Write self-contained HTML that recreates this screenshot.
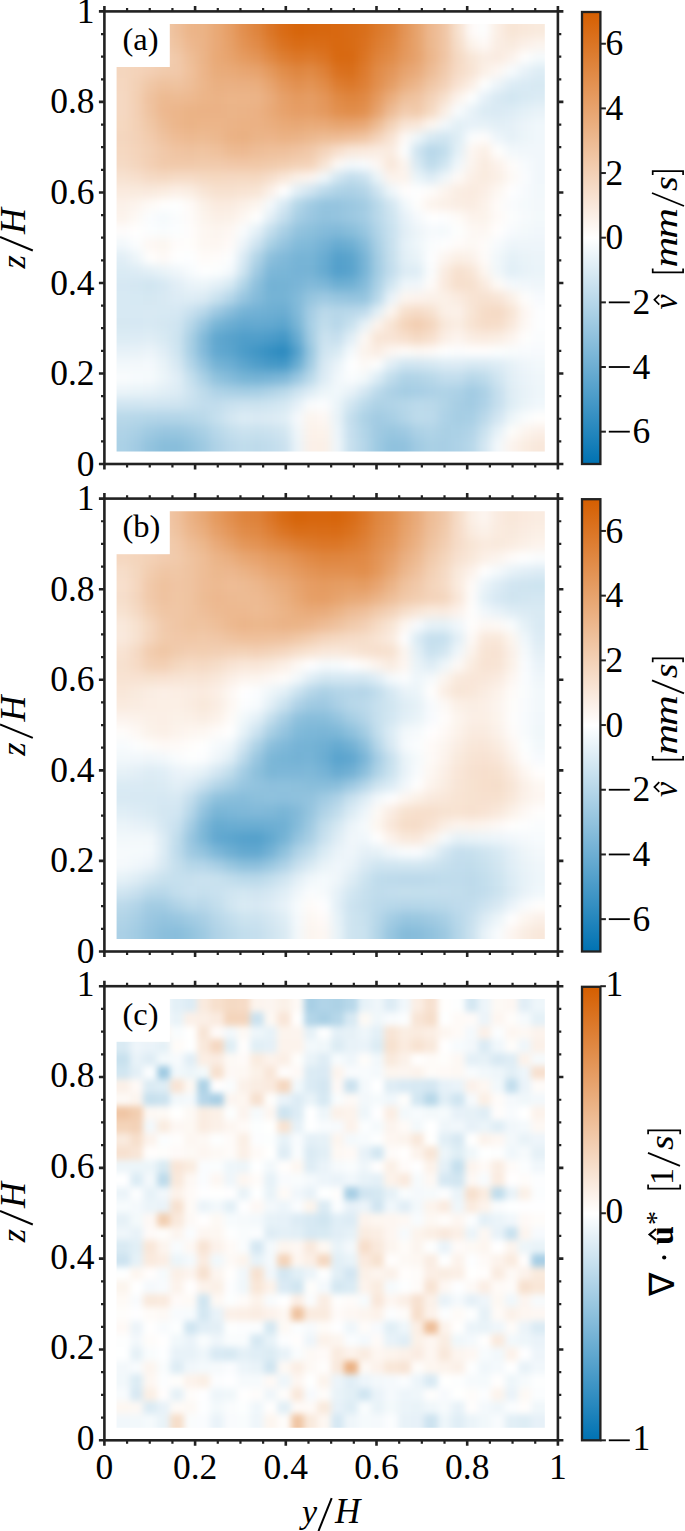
<!DOCTYPE html><html><head><meta charset="utf-8"><style>html,body{margin:0;padding:0;background:#fff;width:685px;height:1531px;overflow:hidden}svg{display:block}</style></head><body>
<svg width="685" height="1531" viewBox="0 0 685 1531">
<style>.t{font-family:"Liberation Serif",serif}</style>
<defs>
<linearGradient id="cb" x1="0" y1="0" x2="0" y2="1"><stop offset="0" stop-color="#d55e00"/><stop offset="0.5" stop-color="#ffffff"/><stop offset="1" stop-color="#0072b2"/></linearGradient>
<filter id="bl0" x="-10%" y="-10%" width="120%" height="120%" color-interpolation-filters="sRGB"><feGaussianBlur stdDeviation="5"/></filter>
<filter id="bl1" x="-10%" y="-10%" width="120%" height="120%" color-interpolation-filters="sRGB"><feGaussianBlur stdDeviation="5"/></filter>
<filter id="bl2" x="-10%" y="-10%" width="120%" height="120%" color-interpolation-filters="sRGB"><feGaussianBlur stdDeviation="3.2"/></filter>
</defs>
<clipPath id="cp0"><rect x="116.6" y="24.10" width="428.20" height="427.40"/></clipPath>
<g clip-path="url(#cp0)"><g filter="url(#bl0)" shape-rendering="crispEdges">
<rect x="76.6" y="-15.9" width="54.0" height="54.0" fill="#f7dfcc"/>
<rect x="130.0" y="-15.9" width="14.0" height="54.0" fill="#f6dbc6"/>
<rect x="143.4" y="-15.9" width="14.0" height="54.0" fill="#f4d6bf"/>
<rect x="156.7" y="-15.9" width="14.0" height="54.0" fill="#f1cbac"/>
<rect x="170.1" y="-15.9" width="14.0" height="54.0" fill="#eebf9a"/>
<rect x="183.5" y="-15.9" width="14.0" height="54.0" fill="#ecb589"/>
<rect x="196.9" y="-15.9" width="14.0" height="54.0" fill="#ebb386"/>
<rect x="210.3" y="-15.9" width="14.0" height="54.0" fill="#e9a976"/>
<rect x="223.6" y="-15.9" width="14.0" height="54.0" fill="#e69e65"/>
<rect x="237.0" y="-15.9" width="14.0" height="54.0" fill="#e28f4e"/>
<rect x="250.4" y="-15.9" width="14.0" height="54.0" fill="#df853e"/>
<rect x="263.8" y="-15.9" width="14.0" height="54.0" fill="#db7627"/>
<rect x="277.2" y="-15.9" width="14.0" height="54.0" fill="#d96b15"/>
<rect x="290.6" y="-15.9" width="14.0" height="54.0" fill="#d7650a"/>
<rect x="303.9" y="-15.9" width="14.0" height="54.0" fill="#d7660d"/>
<rect x="317.3" y="-15.9" width="14.0" height="54.0" fill="#d7670f"/>
<rect x="330.7" y="-15.9" width="14.0" height="54.0" fill="#d86810"/>
<rect x="344.1" y="-15.9" width="14.0" height="54.0" fill="#d86b15"/>
<rect x="357.5" y="-15.9" width="14.0" height="54.0" fill="#d96f1b"/>
<rect x="370.8" y="-15.9" width="14.0" height="54.0" fill="#dc792a"/>
<rect x="384.2" y="-15.9" width="14.0" height="54.0" fill="#de8239"/>
<rect x="397.6" y="-15.9" width="14.0" height="54.0" fill="#e39456"/>
<rect x="411.0" y="-15.9" width="14.0" height="54.0" fill="#e7a46e"/>
<rect x="424.4" y="-15.9" width="14.0" height="54.0" fill="#edb88f"/>
<rect x="437.8" y="-15.9" width="14.0" height="54.0" fill="#f0c5a4"/>
<rect x="451.1" y="-15.9" width="14.0" height="54.0" fill="#f7e1cf"/>
<rect x="464.5" y="-15.9" width="14.0" height="54.0" fill="#fefaf8"/>
<rect x="477.9" y="-15.9" width="14.0" height="54.0" fill="#fdfefe"/>
<rect x="491.3" y="-15.9" width="14.0" height="54.0" fill="#fbeee4"/>
<rect x="504.7" y="-15.9" width="14.0" height="54.0" fill="#f8e5d5"/>
<rect x="518.0" y="-15.9" width="14.0" height="54.0" fill="#f9e8da"/>
<rect x="531.4" y="-15.9" width="54.0" height="54.0" fill="#f9eadd"/>
<rect x="76.6" y="37.5" width="54.0" height="14.0" fill="#f6dcc7"/>
<rect x="130.0" y="37.5" width="14.0" height="14.0" fill="#f5dac4"/>
<rect x="143.4" y="37.5" width="14.0" height="14.0" fill="#f4d6be"/>
<rect x="156.7" y="37.5" width="14.0" height="14.0" fill="#f2ccaf"/>
<rect x="170.1" y="37.5" width="14.0" height="14.0" fill="#efc3a0"/>
<rect x="183.5" y="37.5" width="14.0" height="14.0" fill="#edb88f"/>
<rect x="196.9" y="37.5" width="14.0" height="14.0" fill="#ebb387"/>
<rect x="210.3" y="37.5" width="14.0" height="14.0" fill="#e9a977"/>
<rect x="223.6" y="37.5" width="14.0" height="14.0" fill="#e6a068"/>
<rect x="237.0" y="37.5" width="14.0" height="14.0" fill="#e39355"/>
<rect x="250.4" y="37.5" width="14.0" height="14.0" fill="#e18b48"/>
<rect x="263.8" y="37.5" width="14.0" height="14.0" fill="#dd7e32"/>
<rect x="277.2" y="37.5" width="14.0" height="14.0" fill="#da7220"/>
<rect x="290.6" y="37.5" width="14.0" height="14.0" fill="#d96c16"/>
<rect x="303.9" y="37.5" width="14.0" height="14.0" fill="#d96e19"/>
<rect x="317.3" y="37.5" width="14.0" height="14.0" fill="#d96c17"/>
<rect x="330.7" y="37.5" width="14.0" height="14.0" fill="#d86810"/>
<rect x="344.1" y="37.5" width="14.0" height="14.0" fill="#d86b14"/>
<rect x="357.5" y="37.5" width="14.0" height="14.0" fill="#da711f"/>
<rect x="370.8" y="37.5" width="14.0" height="14.0" fill="#dd7d31"/>
<rect x="384.2" y="37.5" width="14.0" height="14.0" fill="#df863f"/>
<rect x="397.6" y="37.5" width="14.0" height="14.0" fill="#e49659"/>
<rect x="411.0" y="37.5" width="14.0" height="14.0" fill="#e7a46e"/>
<rect x="424.4" y="37.5" width="14.0" height="14.0" fill="#ecb88e"/>
<rect x="437.8" y="37.5" width="14.0" height="14.0" fill="#f0c5a4"/>
<rect x="451.1" y="37.5" width="14.0" height="14.0" fill="#f6deca"/>
<rect x="464.5" y="37.5" width="14.0" height="14.0" fill="#fcf3eb"/>
<rect x="477.9" y="37.5" width="14.0" height="14.0" fill="#fef9f6"/>
<rect x="491.3" y="37.5" width="14.0" height="14.0" fill="#faede3"/>
<rect x="504.7" y="37.5" width="14.0" height="14.0" fill="#f9eade"/>
<rect x="518.0" y="37.5" width="14.0" height="14.0" fill="#fbf0e8"/>
<rect x="531.4" y="37.5" width="54.0" height="14.0" fill="#fcf4ee"/>
<rect x="76.6" y="50.8" width="54.0" height="14.0" fill="#f5d8c1"/>
<rect x="130.0" y="50.8" width="14.0" height="14.0" fill="#f4d7bf"/>
<rect x="143.4" y="50.8" width="14.0" height="14.0" fill="#f4d6bd"/>
<rect x="156.7" y="50.8" width="14.0" height="14.0" fill="#f3d0b4"/>
<rect x="170.1" y="50.8" width="14.0" height="14.0" fill="#f1c9aa"/>
<rect x="183.5" y="50.8" width="14.0" height="14.0" fill="#eebe97"/>
<rect x="196.9" y="50.8" width="14.0" height="14.0" fill="#ebb488"/>
<rect x="210.3" y="50.8" width="14.0" height="14.0" fill="#e9a976"/>
<rect x="223.6" y="50.8" width="14.0" height="14.0" fill="#e7a36d"/>
<rect x="237.0" y="50.8" width="14.0" height="14.0" fill="#e59b60"/>
<rect x="250.4" y="50.8" width="14.0" height="14.0" fill="#e39557"/>
<rect x="263.8" y="50.8" width="14.0" height="14.0" fill="#e08944"/>
<rect x="277.2" y="50.8" width="14.0" height="14.0" fill="#dd7e32"/>
<rect x="290.6" y="50.8" width="14.0" height="14.0" fill="#dc7728"/>
<rect x="303.9" y="50.8" width="14.0" height="14.0" fill="#dc7a2c"/>
<rect x="317.3" y="50.8" width="14.0" height="14.0" fill="#db7423"/>
<rect x="330.7" y="50.8" width="14.0" height="14.0" fill="#d86911"/>
<rect x="344.1" y="50.8" width="14.0" height="14.0" fill="#d86912"/>
<rect x="357.5" y="50.8" width="14.0" height="14.0" fill="#db7524"/>
<rect x="370.8" y="50.8" width="14.0" height="14.0" fill="#df833b"/>
<rect x="384.2" y="50.8" width="14.0" height="14.0" fill="#e18c48"/>
<rect x="397.6" y="50.8" width="14.0" height="14.0" fill="#e4995e"/>
<rect x="411.0" y="50.8" width="14.0" height="14.0" fill="#e7a36e"/>
<rect x="424.4" y="50.8" width="14.0" height="14.0" fill="#ecb68b"/>
<rect x="437.8" y="50.8" width="14.0" height="14.0" fill="#f0c5a4"/>
<rect x="451.1" y="50.8" width="14.0" height="14.0" fill="#f5d9c3"/>
<rect x="464.5" y="50.8" width="14.0" height="14.0" fill="#f8e6d7"/>
<rect x="477.9" y="50.8" width="14.0" height="14.0" fill="#faede3"/>
<rect x="491.3" y="50.8" width="14.0" height="14.0" fill="#faebe0"/>
<rect x="504.7" y="50.8" width="14.0" height="14.0" fill="#fcf2eb"/>
<rect x="518.0" y="50.8" width="14.0" height="14.0" fill="#fffefd"/>
<rect x="531.4" y="50.8" width="54.0" height="14.0" fill="#f5fafc"/>
<rect x="76.6" y="64.2" width="54.0" height="14.0" fill="#f4d6be"/>
<rect x="130.0" y="64.2" width="14.0" height="14.0" fill="#f4d3ba"/>
<rect x="143.4" y="64.2" width="14.0" height="14.0" fill="#f3cfb4"/>
<rect x="156.7" y="64.2" width="14.0" height="14.0" fill="#f1cbad"/>
<rect x="170.1" y="64.2" width="14.0" height="14.0" fill="#f1c9aa"/>
<rect x="183.5" y="64.2" width="14.0" height="14.0" fill="#efc09b"/>
<rect x="196.9" y="64.2" width="14.0" height="14.0" fill="#ecb58a"/>
<rect x="210.3" y="64.2" width="14.0" height="14.0" fill="#e9ac7b"/>
<rect x="223.6" y="64.2" width="14.0" height="14.0" fill="#e9aa78"/>
<rect x="237.0" y="64.2" width="14.0" height="14.0" fill="#e8a672"/>
<rect x="250.4" y="64.2" width="14.0" height="14.0" fill="#e7a36e"/>
<rect x="263.8" y="64.2" width="14.0" height="14.0" fill="#e4995d"/>
<rect x="277.2" y="64.2" width="14.0" height="14.0" fill="#e18d4a"/>
<rect x="290.6" y="64.2" width="14.0" height="14.0" fill="#df8640"/>
<rect x="303.9" y="64.2" width="14.0" height="14.0" fill="#e08a45"/>
<rect x="317.3" y="64.2" width="14.0" height="14.0" fill="#de8138"/>
<rect x="330.7" y="64.2" width="14.0" height="14.0" fill="#da711f"/>
<rect x="344.1" y="64.2" width="14.0" height="14.0" fill="#d96f1b"/>
<rect x="357.5" y="64.2" width="14.0" height="14.0" fill="#dd7b2e"/>
<rect x="370.8" y="64.2" width="14.0" height="14.0" fill="#e18b47"/>
<rect x="384.2" y="64.2" width="14.0" height="14.0" fill="#e39558"/>
<rect x="397.6" y="64.2" width="14.0" height="14.0" fill="#e7a36e"/>
<rect x="411.0" y="64.2" width="14.0" height="14.0" fill="#e9ab7b"/>
<rect x="424.4" y="64.2" width="14.0" height="14.0" fill="#edbc95"/>
<rect x="437.8" y="64.2" width="14.0" height="14.0" fill="#f1caac"/>
<rect x="451.1" y="64.2" width="14.0" height="14.0" fill="#f6dbc6"/>
<rect x="464.5" y="64.2" width="14.0" height="14.0" fill="#f8e4d4"/>
<rect x="477.9" y="64.2" width="14.0" height="14.0" fill="#fbf0e7"/>
<rect x="491.3" y="64.2" width="14.0" height="14.0" fill="#fdf7f3"/>
<rect x="504.7" y="64.2" width="14.0" height="14.0" fill="#f7fbfd"/>
<rect x="518.0" y="64.2" width="14.0" height="14.0" fill="#e8f2f8"/>
<rect x="531.4" y="64.2" width="54.0" height="14.0" fill="#deedf5"/>
<rect x="76.6" y="77.5" width="54.0" height="14.0" fill="#f5d7c0"/>
<rect x="130.0" y="77.5" width="14.0" height="14.0" fill="#f3d1b6"/>
<rect x="143.4" y="77.5" width="14.0" height="14.0" fill="#f0c7a6"/>
<rect x="156.7" y="77.5" width="14.0" height="14.0" fill="#efc19d"/>
<rect x="170.1" y="77.5" width="14.0" height="14.0" fill="#efc3a0"/>
<rect x="183.5" y="77.5" width="14.0" height="14.0" fill="#eebe98"/>
<rect x="196.9" y="77.5" width="14.0" height="14.0" fill="#ecb68b"/>
<rect x="210.3" y="77.5" width="14.0" height="14.0" fill="#eab082"/>
<rect x="223.6" y="77.5" width="14.0" height="14.0" fill="#eab083"/>
<rect x="237.0" y="77.5" width="14.0" height="14.0" fill="#eaaf81"/>
<rect x="250.4" y="77.5" width="14.0" height="14.0" fill="#eaae7f"/>
<rect x="263.8" y="77.5" width="14.0" height="14.0" fill="#e7a46f"/>
<rect x="277.2" y="77.5" width="14.0" height="14.0" fill="#e4975b"/>
<rect x="290.6" y="77.5" width="14.0" height="14.0" fill="#e29050"/>
<rect x="303.9" y="77.5" width="14.0" height="14.0" fill="#e39455"/>
<rect x="317.3" y="77.5" width="14.0" height="14.0" fill="#e18c48"/>
<rect x="330.7" y="77.5" width="14.0" height="14.0" fill="#dd7d31"/>
<rect x="344.1" y="77.5" width="14.0" height="14.0" fill="#dc782a"/>
<rect x="357.5" y="77.5" width="14.0" height="14.0" fill="#de8036"/>
<rect x="370.8" y="77.5" width="14.0" height="14.0" fill="#e28f4e"/>
<rect x="384.2" y="77.5" width="14.0" height="14.0" fill="#e59d64"/>
<rect x="397.6" y="77.5" width="14.0" height="14.0" fill="#eaae7e"/>
<rect x="411.0" y="77.5" width="14.0" height="14.0" fill="#ecb78d"/>
<rect x="424.4" y="77.5" width="14.0" height="14.0" fill="#f0c6a5"/>
<rect x="437.8" y="77.5" width="14.0" height="14.0" fill="#f3d1b7"/>
<rect x="451.1" y="77.5" width="14.0" height="14.0" fill="#f8e2d2"/>
<rect x="464.5" y="77.5" width="14.0" height="14.0" fill="#fbefe5"/>
<rect x="477.9" y="77.5" width="14.0" height="14.0" fill="#feffff"/>
<rect x="491.3" y="77.5" width="14.0" height="14.0" fill="#ecf4f9"/>
<rect x="504.7" y="77.5" width="14.0" height="14.0" fill="#dcecf5"/>
<rect x="518.0" y="77.5" width="14.0" height="14.0" fill="#d9eaf4"/>
<rect x="531.4" y="77.5" width="54.0" height="14.0" fill="#d7e9f3"/>
<rect x="76.6" y="90.9" width="54.0" height="14.0" fill="#f5d8c2"/>
<rect x="130.0" y="90.9" width="14.0" height="14.0" fill="#f3d0b4"/>
<rect x="143.4" y="90.9" width="14.0" height="14.0" fill="#efc29f"/>
<rect x="156.7" y="90.9" width="14.0" height="14.0" fill="#edba91"/>
<rect x="170.1" y="90.9" width="14.0" height="14.0" fill="#edbb93"/>
<rect x="183.5" y="90.9" width="14.0" height="14.0" fill="#edb990"/>
<rect x="196.9" y="90.9" width="14.0" height="14.0" fill="#ecb589"/>
<rect x="210.3" y="90.9" width="14.0" height="14.0" fill="#ebb386"/>
<rect x="223.6" y="90.9" width="14.0" height="14.0" fill="#ecb589"/>
<rect x="237.0" y="90.9" width="14.0" height="14.0" fill="#ecb589"/>
<rect x="250.4" y="90.9" width="14.0" height="14.0" fill="#ebb488"/>
<rect x="263.8" y="90.9" width="14.0" height="14.0" fill="#e9ab7b"/>
<rect x="277.2" y="90.9" width="14.0" height="14.0" fill="#e6a069"/>
<rect x="290.6" y="90.9" width="14.0" height="14.0" fill="#e59a5f"/>
<rect x="303.9" y="90.9" width="14.0" height="14.0" fill="#e59d64"/>
<rect x="317.3" y="90.9" width="14.0" height="14.0" fill="#e49659"/>
<rect x="330.7" y="90.9" width="14.0" height="14.0" fill="#e08a45"/>
<rect x="344.1" y="90.9" width="14.0" height="14.0" fill="#df853e"/>
<rect x="357.5" y="90.9" width="14.0" height="14.0" fill="#e08944"/>
<rect x="370.8" y="90.9" width="14.0" height="14.0" fill="#e59a5f"/>
<rect x="384.2" y="90.9" width="14.0" height="14.0" fill="#eaad7d"/>
<rect x="397.6" y="90.9" width="14.0" height="14.0" fill="#eebf99"/>
<rect x="411.0" y="90.9" width="14.0" height="14.0" fill="#f0c4a2"/>
<rect x="424.4" y="90.9" width="14.0" height="14.0" fill="#f3d2b8"/>
<rect x="437.8" y="90.9" width="14.0" height="14.0" fill="#f7e0ce"/>
<rect x="451.1" y="90.9" width="14.0" height="14.0" fill="#fcf3ec"/>
<rect x="464.5" y="90.9" width="14.0" height="14.0" fill="#feffff"/>
<rect x="477.9" y="90.9" width="14.0" height="14.0" fill="#e6f1f8"/>
<rect x="491.3" y="90.9" width="14.0" height="14.0" fill="#d8e9f3"/>
<rect x="504.7" y="90.9" width="14.0" height="14.0" fill="#d1e6f1"/>
<rect x="518.0" y="90.9" width="14.0" height="14.0" fill="#d7e9f3"/>
<rect x="531.4" y="90.9" width="54.0" height="14.0" fill="#dbebf4"/>
<rect x="76.6" y="104.2" width="54.0" height="14.0" fill="#f5d8c2"/>
<rect x="130.0" y="104.2" width="14.0" height="14.0" fill="#f3d0b5"/>
<rect x="143.4" y="104.2" width="14.0" height="14.0" fill="#efc3a0"/>
<rect x="156.7" y="104.2" width="14.0" height="14.0" fill="#edb88f"/>
<rect x="170.1" y="104.2" width="14.0" height="14.0" fill="#ecb68b"/>
<rect x="183.5" y="104.2" width="14.0" height="14.0" fill="#ebb386"/>
<rect x="196.9" y="104.2" width="14.0" height="14.0" fill="#ebb285"/>
<rect x="210.3" y="104.2" width="14.0" height="14.0" fill="#ebb286"/>
<rect x="223.6" y="104.2" width="14.0" height="14.0" fill="#ebb488"/>
<rect x="237.0" y="104.2" width="14.0" height="14.0" fill="#ebb387"/>
<rect x="250.4" y="104.2" width="14.0" height="14.0" fill="#ebb184"/>
<rect x="263.8" y="104.2" width="14.0" height="14.0" fill="#e9aa78"/>
<rect x="277.2" y="104.2" width="14.0" height="14.0" fill="#e7a26c"/>
<rect x="290.6" y="104.2" width="14.0" height="14.0" fill="#e69d65"/>
<rect x="303.9" y="104.2" width="14.0" height="14.0" fill="#e69f67"/>
<rect x="317.3" y="104.2" width="14.0" height="14.0" fill="#e4995e"/>
<rect x="330.7" y="104.2" width="14.0" height="14.0" fill="#e2904f"/>
<rect x="344.1" y="104.2" width="14.0" height="14.0" fill="#e18c49"/>
<rect x="357.5" y="104.2" width="14.0" height="14.0" fill="#e2904f"/>
<rect x="370.8" y="104.2" width="14.0" height="14.0" fill="#e7a36e"/>
<rect x="384.2" y="104.2" width="14.0" height="14.0" fill="#edbb94"/>
<rect x="397.6" y="104.2" width="14.0" height="14.0" fill="#f2ccae"/>
<rect x="411.0" y="104.2" width="14.0" height="14.0" fill="#f1caab"/>
<rect x="424.4" y="104.2" width="14.0" height="14.0" fill="#f5d9c2"/>
<rect x="437.8" y="104.2" width="14.0" height="14.0" fill="#faeee4"/>
<rect x="451.1" y="104.2" width="14.0" height="14.0" fill="#f8fbfd"/>
<rect x="464.5" y="104.2" width="14.0" height="14.0" fill="#e8f2f8"/>
<rect x="477.9" y="104.2" width="14.0" height="14.0" fill="#dbebf4"/>
<rect x="491.3" y="104.2" width="14.0" height="14.0" fill="#daeaf4"/>
<rect x="504.7" y="104.2" width="14.0" height="14.0" fill="#ddecf5"/>
<rect x="518.0" y="104.2" width="14.0" height="14.0" fill="#e3f0f7"/>
<rect x="531.4" y="104.2" width="54.0" height="14.0" fill="#e8f2f8"/>
<rect x="76.6" y="117.6" width="54.0" height="14.0" fill="#f5d8c0"/>
<rect x="130.0" y="117.6" width="14.0" height="14.0" fill="#f3d1b6"/>
<rect x="143.4" y="117.6" width="14.0" height="14.0" fill="#f0c7a6"/>
<rect x="156.7" y="117.6" width="14.0" height="14.0" fill="#edbc95"/>
<rect x="170.1" y="117.6" width="14.0" height="14.0" fill="#ecb68b"/>
<rect x="183.5" y="117.6" width="14.0" height="14.0" fill="#ebb386"/>
<rect x="196.9" y="117.6" width="14.0" height="14.0" fill="#ecb589"/>
<rect x="210.3" y="117.6" width="14.0" height="14.0" fill="#ecb589"/>
<rect x="223.6" y="117.6" width="14.0" height="14.0" fill="#ebb387"/>
<rect x="237.0" y="117.6" width="14.0" height="14.0" fill="#ebb284"/>
<rect x="250.4" y="117.6" width="14.0" height="14.0" fill="#ebb184"/>
<rect x="263.8" y="117.6" width="14.0" height="14.0" fill="#eaae7f"/>
<rect x="277.2" y="117.6" width="14.0" height="14.0" fill="#e9aa78"/>
<rect x="290.6" y="117.6" width="14.0" height="14.0" fill="#e8a875"/>
<rect x="303.9" y="117.6" width="14.0" height="14.0" fill="#e9ab79"/>
<rect x="317.3" y="117.6" width="14.0" height="14.0" fill="#e9a977"/>
<rect x="330.7" y="117.6" width="14.0" height="14.0" fill="#e7a570"/>
<rect x="344.1" y="117.6" width="14.0" height="14.0" fill="#e8a571"/>
<rect x="357.5" y="117.6" width="14.0" height="14.0" fill="#e9a977"/>
<rect x="370.8" y="117.6" width="14.0" height="14.0" fill="#edbc94"/>
<rect x="384.2" y="117.6" width="14.0" height="14.0" fill="#f3d2b7"/>
<rect x="397.6" y="117.6" width="14.0" height="14.0" fill="#f8e4d4"/>
<rect x="411.0" y="117.6" width="14.0" height="14.0" fill="#f9e7d9"/>
<rect x="424.4" y="117.6" width="14.0" height="14.0" fill="#fdf6f0"/>
<rect x="437.8" y="117.6" width="14.0" height="14.0" fill="#f3f8fb"/>
<rect x="451.1" y="117.6" width="14.0" height="14.0" fill="#e2eff6"/>
<rect x="464.5" y="117.6" width="14.0" height="14.0" fill="#e6f1f8"/>
<rect x="477.9" y="117.6" width="14.0" height="14.0" fill="#e6f1f7"/>
<rect x="491.3" y="117.6" width="14.0" height="14.0" fill="#e2eff6"/>
<rect x="504.7" y="117.6" width="14.0" height="14.0" fill="#e5f0f7"/>
<rect x="518.0" y="117.6" width="14.0" height="14.0" fill="#ecf4f9"/>
<rect x="531.4" y="117.6" width="54.0" height="14.0" fill="#f0f7fb"/>
<rect x="76.6" y="130.9" width="54.0" height="14.0" fill="#f4d6bf"/>
<rect x="130.0" y="130.9" width="14.0" height="14.0" fill="#f3d2b8"/>
<rect x="143.4" y="130.9" width="14.0" height="14.0" fill="#f2cbad"/>
<rect x="156.7" y="130.9" width="14.0" height="14.0" fill="#efc29f"/>
<rect x="170.1" y="130.9" width="14.0" height="14.0" fill="#eebc95"/>
<rect x="183.5" y="130.9" width="14.0" height="14.0" fill="#edb990"/>
<rect x="196.9" y="130.9" width="14.0" height="14.0" fill="#edbb93"/>
<rect x="210.3" y="130.9" width="14.0" height="14.0" fill="#ecb88e"/>
<rect x="223.6" y="130.9" width="14.0" height="14.0" fill="#ebb285"/>
<rect x="237.0" y="130.9" width="14.0" height="14.0" fill="#eab082"/>
<rect x="250.4" y="130.9" width="14.0" height="14.0" fill="#ebb488"/>
<rect x="263.8" y="130.9" width="14.0" height="14.0" fill="#ecb489"/>
<rect x="277.2" y="130.9" width="14.0" height="14.0" fill="#ebb284"/>
<rect x="290.6" y="130.9" width="14.0" height="14.0" fill="#ebb387"/>
<rect x="303.9" y="130.9" width="14.0" height="14.0" fill="#ecb88e"/>
<rect x="317.3" y="130.9" width="14.0" height="14.0" fill="#edbc94"/>
<rect x="330.7" y="130.9" width="14.0" height="14.0" fill="#eebc95"/>
<rect x="344.1" y="130.9" width="14.0" height="14.0" fill="#efc09b"/>
<rect x="357.5" y="130.9" width="14.0" height="14.0" fill="#f0c5a3"/>
<rect x="370.8" y="130.9" width="14.0" height="14.0" fill="#f4d3ba"/>
<rect x="384.2" y="130.9" width="14.0" height="14.0" fill="#f8e3d3"/>
<rect x="397.6" y="130.9" width="14.0" height="14.0" fill="#fef9f6"/>
<rect x="411.0" y="130.9" width="14.0" height="14.0" fill="#eef6fa"/>
<rect x="424.4" y="130.9" width="14.0" height="14.0" fill="#d7e9f3"/>
<rect x="437.8" y="130.9" width="14.0" height="14.0" fill="#d0e5f1"/>
<rect x="451.1" y="130.9" width="14.0" height="14.0" fill="#deedf5"/>
<rect x="464.5" y="130.9" width="14.0" height="14.0" fill="#fbfdfe"/>
<rect x="477.9" y="130.9" width="14.0" height="14.0" fill="#fffdfc"/>
<rect x="491.3" y="130.9" width="14.0" height="14.0" fill="#edf5fa"/>
<rect x="504.7" y="130.9" width="14.0" height="14.0" fill="#e5f0f7"/>
<rect x="518.0" y="130.9" width="14.0" height="14.0" fill="#ecf5f9"/>
<rect x="531.4" y="130.9" width="54.0" height="14.0" fill="#f0f7fb"/>
<rect x="76.6" y="144.3" width="54.0" height="14.0" fill="#f5d8c1"/>
<rect x="130.0" y="144.3" width="14.0" height="14.0" fill="#f4d4bb"/>
<rect x="143.4" y="144.3" width="14.0" height="14.0" fill="#f2cfb3"/>
<rect x="156.7" y="144.3" width="14.0" height="14.0" fill="#f1c8a9"/>
<rect x="170.1" y="144.3" width="14.0" height="14.0" fill="#f0c4a2"/>
<rect x="183.5" y="144.3" width="14.0" height="14.0" fill="#efc29f"/>
<rect x="196.9" y="144.3" width="14.0" height="14.0" fill="#f0c4a1"/>
<rect x="210.3" y="144.3" width="14.0" height="14.0" fill="#efc19c"/>
<rect x="223.6" y="144.3" width="14.0" height="14.0" fill="#edbb93"/>
<rect x="237.0" y="144.3" width="14.0" height="14.0" fill="#edb991"/>
<rect x="250.4" y="144.3" width="14.0" height="14.0" fill="#eebd97"/>
<rect x="263.8" y="144.3" width="14.0" height="14.0" fill="#efc09b"/>
<rect x="277.2" y="144.3" width="14.0" height="14.0" fill="#efc09c"/>
<rect x="290.6" y="144.3" width="14.0" height="14.0" fill="#f0c4a2"/>
<rect x="303.9" y="144.3" width="14.0" height="14.0" fill="#f1c9aa"/>
<rect x="317.3" y="144.3" width="14.0" height="14.0" fill="#f4d4bb"/>
<rect x="330.7" y="144.3" width="14.0" height="14.0" fill="#f7dfcd"/>
<rect x="344.1" y="144.3" width="14.0" height="14.0" fill="#f9e8db"/>
<rect x="357.5" y="144.3" width="14.0" height="14.0" fill="#faeade"/>
<rect x="370.8" y="144.3" width="14.0" height="14.0" fill="#faece2"/>
<rect x="384.2" y="144.3" width="14.0" height="14.0" fill="#faece1"/>
<rect x="397.6" y="144.3" width="14.0" height="14.0" fill="#fdfefe"/>
<rect x="411.0" y="144.3" width="14.0" height="14.0" fill="#cfe4f0"/>
<rect x="424.4" y="144.3" width="14.0" height="14.0" fill="#b7d7e9"/>
<rect x="437.8" y="144.3" width="14.0" height="14.0" fill="#c1ddec"/>
<rect x="451.1" y="144.3" width="14.0" height="14.0" fill="#e3f0f7"/>
<rect x="464.5" y="144.3" width="14.0" height="14.0" fill="#fdf6f1"/>
<rect x="477.9" y="144.3" width="14.0" height="14.0" fill="#fbefe5"/>
<rect x="491.3" y="144.3" width="14.0" height="14.0" fill="#fffefd"/>
<rect x="504.7" y="144.3" width="14.0" height="14.0" fill="#f2f8fb"/>
<rect x="518.0" y="144.3" width="14.0" height="14.0" fill="#f1f7fb"/>
<rect x="531.4" y="144.3" width="54.0" height="14.0" fill="#f1f7fb"/>
<rect x="76.6" y="157.7" width="54.0" height="14.0" fill="#f5dac5"/>
<rect x="130.0" y="157.7" width="14.0" height="14.0" fill="#f4d6be"/>
<rect x="143.4" y="157.7" width="14.0" height="14.0" fill="#f3cfb4"/>
<rect x="156.7" y="157.7" width="14.0" height="14.0" fill="#f1caab"/>
<rect x="170.1" y="157.7" width="14.0" height="14.0" fill="#f1c9aa"/>
<rect x="183.5" y="157.7" width="14.0" height="14.0" fill="#f1c9aa"/>
<rect x="196.9" y="157.7" width="14.0" height="14.0" fill="#f1cbac"/>
<rect x="210.3" y="157.7" width="14.0" height="14.0" fill="#f1caac"/>
<rect x="223.6" y="157.7" width="14.0" height="14.0" fill="#f1c8a9"/>
<rect x="237.0" y="157.7" width="14.0" height="14.0" fill="#f1c7a7"/>
<rect x="250.4" y="157.7" width="14.0" height="14.0" fill="#f1c8a7"/>
<rect x="263.8" y="157.7" width="14.0" height="14.0" fill="#f1caab"/>
<rect x="277.2" y="157.7" width="14.0" height="14.0" fill="#f2cdaf"/>
<rect x="290.6" y="157.7" width="14.0" height="14.0" fill="#f3d1b6"/>
<rect x="303.9" y="157.7" width="14.0" height="14.0" fill="#f4d3b9"/>
<rect x="317.3" y="157.7" width="14.0" height="14.0" fill="#f8e4d4"/>
<rect x="330.7" y="157.7" width="14.0" height="14.0" fill="#fdf9f6"/>
<rect x="344.1" y="157.7" width="14.0" height="14.0" fill="#f4f9fc"/>
<rect x="357.5" y="157.7" width="14.0" height="14.0" fill="#f8fbfd"/>
<rect x="370.8" y="157.7" width="14.0" height="14.0" fill="#fdf7f3"/>
<rect x="384.2" y="157.7" width="14.0" height="14.0" fill="#f9e7d9"/>
<rect x="397.6" y="157.7" width="14.0" height="14.0" fill="#fcf4ee"/>
<rect x="411.0" y="157.7" width="14.0" height="14.0" fill="#d8e9f3"/>
<rect x="424.4" y="157.7" width="14.0" height="14.0" fill="#bedbeb"/>
<rect x="437.8" y="157.7" width="14.0" height="14.0" fill="#cfe5f1"/>
<rect x="451.1" y="157.7" width="14.0" height="14.0" fill="#f0f7fb"/>
<rect x="464.5" y="157.7" width="14.0" height="14.0" fill="#fcf4ee"/>
<rect x="477.9" y="157.7" width="14.0" height="14.0" fill="#faebdf"/>
<rect x="491.3" y="157.7" width="14.0" height="14.0" fill="#fcf2eb"/>
<rect x="504.7" y="157.7" width="14.0" height="14.0" fill="#fefcfa"/>
<rect x="518.0" y="157.7" width="14.0" height="14.0" fill="#f8fbfd"/>
<rect x="531.4" y="157.7" width="54.0" height="14.0" fill="#f1f7fb"/>
<rect x="76.6" y="171.0" width="54.0" height="14.0" fill="#f7e2d1"/>
<rect x="130.0" y="171.0" width="14.0" height="14.0" fill="#f7dfcd"/>
<rect x="143.4" y="171.0" width="14.0" height="14.0" fill="#f5dac5"/>
<rect x="156.7" y="171.0" width="14.0" height="14.0" fill="#f5d9c2"/>
<rect x="170.1" y="171.0" width="14.0" height="14.0" fill="#f6dbc6"/>
<rect x="183.5" y="171.0" width="14.0" height="14.0" fill="#f6dbc6"/>
<rect x="196.9" y="171.0" width="14.0" height="14.0" fill="#f5d9c2"/>
<rect x="210.3" y="171.0" width="14.0" height="14.0" fill="#f5d8c0"/>
<rect x="223.6" y="171.0" width="14.0" height="14.0" fill="#f5d8c2"/>
<rect x="237.0" y="171.0" width="14.0" height="14.0" fill="#f5d9c2"/>
<rect x="250.4" y="171.0" width="14.0" height="14.0" fill="#f5d8c1"/>
<rect x="263.8" y="171.0" width="14.0" height="14.0" fill="#f6decb"/>
<rect x="277.2" y="171.0" width="14.0" height="14.0" fill="#f9e7d9"/>
<rect x="290.6" y="171.0" width="14.0" height="14.0" fill="#fbf1e8"/>
<rect x="303.9" y="171.0" width="14.0" height="14.0" fill="#fdf5f0"/>
<rect x="317.3" y="171.0" width="14.0" height="14.0" fill="#f2f8fb"/>
<rect x="330.7" y="171.0" width="14.0" height="14.0" fill="#d2e6f1"/>
<rect x="344.1" y="171.0" width="14.0" height="14.0" fill="#c2dded"/>
<rect x="357.5" y="171.0" width="14.0" height="14.0" fill="#cbe2ef"/>
<rect x="370.8" y="171.0" width="14.0" height="14.0" fill="#ebf4f9"/>
<rect x="384.2" y="171.0" width="14.0" height="14.0" fill="#fcf3ec"/>
<rect x="397.6" y="171.0" width="14.0" height="14.0" fill="#fcf3ec"/>
<rect x="411.0" y="171.0" width="14.0" height="14.0" fill="#eaf4f9"/>
<rect x="424.4" y="171.0" width="14.0" height="14.0" fill="#ddecf5"/>
<rect x="437.8" y="171.0" width="14.0" height="14.0" fill="#eff6fa"/>
<rect x="451.1" y="171.0" width="14.0" height="14.0" fill="#fefaf7"/>
<rect x="464.5" y="171.0" width="14.0" height="14.0" fill="#fbefe6"/>
<rect x="477.9" y="171.0" width="14.0" height="14.0" fill="#faebdf"/>
<rect x="491.3" y="171.0" width="14.0" height="14.0" fill="#fbefe6"/>
<rect x="504.7" y="171.0" width="14.0" height="14.0" fill="#fdf9f5"/>
<rect x="518.0" y="171.0" width="14.0" height="14.0" fill="#fafcfe"/>
<rect x="531.4" y="171.0" width="54.0" height="14.0" fill="#f1f7fb"/>
<rect x="76.6" y="184.4" width="54.0" height="14.0" fill="#faeade"/>
<rect x="130.0" y="184.4" width="14.0" height="14.0" fill="#f9eadd"/>
<rect x="143.4" y="184.4" width="14.0" height="14.0" fill="#f9e9dd"/>
<rect x="156.7" y="184.4" width="14.0" height="14.0" fill="#faece0"/>
<rect x="170.1" y="184.4" width="14.0" height="14.0" fill="#fbefe6"/>
<rect x="183.5" y="184.4" width="14.0" height="14.0" fill="#faede2"/>
<rect x="196.9" y="184.4" width="14.0" height="14.0" fill="#f8e5d6"/>
<rect x="210.3" y="184.4" width="14.0" height="14.0" fill="#f7e1cf"/>
<rect x="223.6" y="184.4" width="14.0" height="14.0" fill="#f7e1cf"/>
<rect x="237.0" y="184.4" width="14.0" height="14.0" fill="#f8e3d2"/>
<rect x="250.4" y="184.4" width="14.0" height="14.0" fill="#f8e5d5"/>
<rect x="263.8" y="184.4" width="14.0" height="14.0" fill="#fbf0e8"/>
<rect x="277.2" y="184.4" width="14.0" height="14.0" fill="#ffffff"/>
<rect x="290.6" y="184.4" width="14.0" height="14.0" fill="#e2eff6"/>
<rect x="303.9" y="184.4" width="14.0" height="14.0" fill="#d1e5f1"/>
<rect x="317.3" y="184.4" width="14.0" height="14.0" fill="#bcdaeb"/>
<rect x="330.7" y="184.4" width="14.0" height="14.0" fill="#afd3e7"/>
<rect x="344.1" y="184.4" width="14.0" height="14.0" fill="#acd1e6"/>
<rect x="357.5" y="184.4" width="14.0" height="14.0" fill="#b4d5e8"/>
<rect x="370.8" y="184.4" width="14.0" height="14.0" fill="#cfe4f0"/>
<rect x="384.2" y="184.4" width="14.0" height="14.0" fill="#eef6fa"/>
<rect x="397.6" y="184.4" width="14.0" height="14.0" fill="#fffdfc"/>
<rect x="411.0" y="184.4" width="14.0" height="14.0" fill="#fefeff"/>
<rect x="424.4" y="184.4" width="14.0" height="14.0" fill="#fefcfa"/>
<rect x="437.8" y="184.4" width="14.0" height="14.0" fill="#fcf4ee"/>
<rect x="451.1" y="184.4" width="14.0" height="14.0" fill="#faede3"/>
<rect x="464.5" y="184.4" width="14.0" height="14.0" fill="#faebdf"/>
<rect x="477.9" y="184.4" width="14.0" height="14.0" fill="#fbeee5"/>
<rect x="491.3" y="184.4" width="14.0" height="14.0" fill="#fdf7f2"/>
<rect x="504.7" y="184.4" width="14.0" height="14.0" fill="#fefeff"/>
<rect x="518.0" y="184.4" width="14.0" height="14.0" fill="#f7fafd"/>
<rect x="531.4" y="184.4" width="54.0" height="14.0" fill="#f2f8fb"/>
<rect x="76.6" y="197.7" width="54.0" height="14.0" fill="#fbf1e9"/>
<rect x="130.0" y="197.7" width="14.0" height="14.0" fill="#fcf4ee"/>
<rect x="143.4" y="197.7" width="14.0" height="14.0" fill="#fefaf6"/>
<rect x="156.7" y="197.7" width="14.0" height="14.0" fill="#fffefd"/>
<rect x="170.1" y="197.7" width="14.0" height="14.0" fill="#feffff"/>
<rect x="183.5" y="197.7" width="14.0" height="14.0" fill="#fefaf7"/>
<rect x="196.9" y="197.7" width="14.0" height="14.0" fill="#fbf1e8"/>
<rect x="210.3" y="197.7" width="14.0" height="14.0" fill="#faebdf"/>
<rect x="223.6" y="197.7" width="14.0" height="14.0" fill="#faebe0"/>
<rect x="237.0" y="197.7" width="14.0" height="14.0" fill="#fbf0e7"/>
<rect x="250.4" y="197.7" width="14.0" height="14.0" fill="#fcf5ef"/>
<rect x="263.8" y="197.7" width="14.0" height="14.0" fill="#f4f9fc"/>
<rect x="277.2" y="197.7" width="14.0" height="14.0" fill="#d7e9f3"/>
<rect x="290.6" y="197.7" width="14.0" height="14.0" fill="#b4d6e8"/>
<rect x="303.9" y="197.7" width="14.0" height="14.0" fill="#a1cbe3"/>
<rect x="317.3" y="197.7" width="14.0" height="14.0" fill="#94c4df"/>
<rect x="330.7" y="197.7" width="14.0" height="14.0" fill="#95c4df"/>
<rect x="344.1" y="197.7" width="14.0" height="14.0" fill="#9bc8e1"/>
<rect x="357.5" y="197.7" width="14.0" height="14.0" fill="#a3cce3"/>
<rect x="370.8" y="197.7" width="14.0" height="14.0" fill="#b9d9ea"/>
<rect x="384.2" y="197.7" width="14.0" height="14.0" fill="#d2e6f1"/>
<rect x="397.6" y="197.7" width="14.0" height="14.0" fill="#f0f7fb"/>
<rect x="411.0" y="197.7" width="14.0" height="14.0" fill="#fefdfc"/>
<rect x="424.4" y="197.7" width="14.0" height="14.0" fill="#fcf3ec"/>
<rect x="437.8" y="197.7" width="14.0" height="14.0" fill="#fbf0e7"/>
<rect x="451.1" y="197.7" width="14.0" height="14.0" fill="#faede3"/>
<rect x="464.5" y="197.7" width="14.0" height="14.0" fill="#faece1"/>
<rect x="477.9" y="197.7" width="14.0" height="14.0" fill="#fcf2ea"/>
<rect x="491.3" y="197.7" width="14.0" height="14.0" fill="#fefbf9"/>
<rect x="504.7" y="197.7" width="14.0" height="14.0" fill="#f9fbfd"/>
<rect x="518.0" y="197.7" width="14.0" height="14.0" fill="#f5fafc"/>
<rect x="531.4" y="197.7" width="54.0" height="14.0" fill="#f3f8fb"/>
<rect x="76.6" y="211.1" width="54.0" height="14.0" fill="#fcf3ec"/>
<rect x="130.0" y="211.1" width="14.0" height="14.0" fill="#fdf9f5"/>
<rect x="143.4" y="211.1" width="14.0" height="14.0" fill="#fafcfe"/>
<rect x="156.7" y="211.1" width="14.0" height="14.0" fill="#f4f9fc"/>
<rect x="170.1" y="211.1" width="14.0" height="14.0" fill="#fafcfd"/>
<rect x="183.5" y="211.1" width="14.0" height="14.0" fill="#fefbf9"/>
<rect x="196.9" y="211.1" width="14.0" height="14.0" fill="#fcf4ed"/>
<rect x="210.3" y="211.1" width="14.0" height="14.0" fill="#fbf0e7"/>
<rect x="223.6" y="211.1" width="14.0" height="14.0" fill="#fbf1e8"/>
<rect x="237.0" y="211.1" width="14.0" height="14.0" fill="#fdf7f2"/>
<rect x="250.4" y="211.1" width="14.0" height="14.0" fill="#fffffe"/>
<rect x="263.8" y="211.1" width="14.0" height="14.0" fill="#e3eff6"/>
<rect x="277.2" y="211.1" width="14.0" height="14.0" fill="#c6dfee"/>
<rect x="290.6" y="211.1" width="14.0" height="14.0" fill="#a8cfe5"/>
<rect x="303.9" y="211.1" width="14.0" height="14.0" fill="#9bc7e1"/>
<rect x="317.3" y="211.1" width="14.0" height="14.0" fill="#92c3de"/>
<rect x="330.7" y="211.1" width="14.0" height="14.0" fill="#95c4df"/>
<rect x="344.1" y="211.1" width="14.0" height="14.0" fill="#9cc8e1"/>
<rect x="357.5" y="211.1" width="14.0" height="14.0" fill="#a4cde4"/>
<rect x="370.8" y="211.1" width="14.0" height="14.0" fill="#b9d8ea"/>
<rect x="384.2" y="211.1" width="14.0" height="14.0" fill="#cde4f0"/>
<rect x="397.6" y="211.1" width="14.0" height="14.0" fill="#e6f1f8"/>
<rect x="411.0" y="211.1" width="14.0" height="14.0" fill="#f5f9fc"/>
<rect x="424.4" y="211.1" width="14.0" height="14.0" fill="#ffffff"/>
<rect x="437.8" y="211.1" width="14.0" height="14.0" fill="#fefeff"/>
<rect x="451.1" y="211.1" width="14.0" height="14.0" fill="#fefbf8"/>
<rect x="464.5" y="211.1" width="14.0" height="14.0" fill="#fcf3ec"/>
<rect x="477.9" y="211.1" width="14.0" height="14.0" fill="#fcf3eb"/>
<rect x="491.3" y="211.1" width="14.0" height="14.0" fill="#fefaf7"/>
<rect x="504.7" y="211.1" width="14.0" height="14.0" fill="#fcfdfe"/>
<rect x="518.0" y="211.1" width="14.0" height="14.0" fill="#f7fafc"/>
<rect x="531.4" y="211.1" width="54.0" height="14.0" fill="#f3f9fb"/>
<rect x="76.6" y="224.4" width="54.0" height="14.0" fill="#fefcfb"/>
<rect x="130.0" y="224.4" width="14.0" height="14.0" fill="#fffefe"/>
<rect x="143.4" y="224.4" width="14.0" height="14.0" fill="#fbfdfe"/>
<rect x="156.7" y="224.4" width="14.0" height="14.0" fill="#f9fcfd"/>
<rect x="170.1" y="224.4" width="14.0" height="14.0" fill="#fbfdfe"/>
<rect x="183.5" y="224.4" width="14.0" height="14.0" fill="#fefcfb"/>
<rect x="196.9" y="224.4" width="14.0" height="14.0" fill="#fdf7f2"/>
<rect x="210.3" y="224.4" width="14.0" height="14.0" fill="#fcf5ef"/>
<rect x="223.6" y="224.4" width="14.0" height="14.0" fill="#fdf7f3"/>
<rect x="237.0" y="224.4" width="14.0" height="14.0" fill="#f9fcfd"/>
<rect x="250.4" y="224.4" width="14.0" height="14.0" fill="#e4f0f7"/>
<rect x="263.8" y="224.4" width="14.0" height="14.0" fill="#c3deed"/>
<rect x="277.2" y="224.4" width="14.0" height="14.0" fill="#aad0e5"/>
<rect x="290.6" y="224.4" width="14.0" height="14.0" fill="#93c3de"/>
<rect x="303.9" y="224.4" width="14.0" height="14.0" fill="#8cc0dc"/>
<rect x="317.3" y="224.4" width="14.0" height="14.0" fill="#85bbda"/>
<rect x="330.7" y="224.4" width="14.0" height="14.0" fill="#81b9d9"/>
<rect x="344.1" y="224.4" width="14.0" height="14.0" fill="#89bedb"/>
<rect x="357.5" y="224.4" width="14.0" height="14.0" fill="#97c6e0"/>
<rect x="370.8" y="224.4" width="14.0" height="14.0" fill="#b1d4e8"/>
<rect x="384.2" y="224.4" width="14.0" height="14.0" fill="#c8e1ef"/>
<rect x="397.6" y="224.4" width="14.0" height="14.0" fill="#e1eef6"/>
<rect x="411.0" y="224.4" width="14.0" height="14.0" fill="#edf5f9"/>
<rect x="424.4" y="224.4" width="14.0" height="14.0" fill="#f5f9fc"/>
<rect x="437.8" y="224.4" width="14.0" height="14.0" fill="#f4f9fc"/>
<rect x="451.1" y="224.4" width="14.0" height="14.0" fill="#fdfefe"/>
<rect x="464.5" y="224.4" width="14.0" height="14.0" fill="#fdf8f4"/>
<rect x="477.9" y="224.4" width="14.0" height="14.0" fill="#fdf7f2"/>
<rect x="491.3" y="224.4" width="14.0" height="14.0" fill="#fffefd"/>
<rect x="504.7" y="224.4" width="14.0" height="14.0" fill="#f7fafd"/>
<rect x="518.0" y="224.4" width="14.0" height="14.0" fill="#f3f9fb"/>
<rect x="531.4" y="224.4" width="54.0" height="14.0" fill="#f1f7fb"/>
<rect x="76.6" y="237.8" width="54.0" height="14.0" fill="#f2f8fb"/>
<rect x="130.0" y="237.8" width="14.0" height="14.0" fill="#fbfdfe"/>
<rect x="143.4" y="237.8" width="14.0" height="14.0" fill="#fdf7f3"/>
<rect x="156.7" y="237.8" width="14.0" height="14.0" fill="#fcf5ef"/>
<rect x="170.1" y="237.8" width="14.0" height="14.0" fill="#fefcfa"/>
<rect x="183.5" y="237.8" width="14.0" height="14.0" fill="#fefdfb"/>
<rect x="196.9" y="237.8" width="14.0" height="14.0" fill="#fdf7f2"/>
<rect x="210.3" y="237.8" width="14.0" height="14.0" fill="#fdf6f1"/>
<rect x="223.6" y="237.8" width="14.0" height="14.0" fill="#fefaf8"/>
<rect x="237.0" y="237.8" width="14.0" height="14.0" fill="#ecf4f9"/>
<rect x="250.4" y="237.8" width="14.0" height="14.0" fill="#cde3f0"/>
<rect x="263.8" y="237.8" width="14.0" height="14.0" fill="#a9d0e5"/>
<rect x="277.2" y="237.8" width="14.0" height="14.0" fill="#95c4df"/>
<rect x="290.6" y="237.8" width="14.0" height="14.0" fill="#83bbda"/>
<rect x="303.9" y="237.8" width="14.0" height="14.0" fill="#80b9d9"/>
<rect x="317.3" y="237.8" width="14.0" height="14.0" fill="#75b2d5"/>
<rect x="330.7" y="237.8" width="14.0" height="14.0" fill="#67abd1"/>
<rect x="344.1" y="237.8" width="14.0" height="14.0" fill="#6eafd3"/>
<rect x="357.5" y="237.8" width="14.0" height="14.0" fill="#85bbda"/>
<rect x="370.8" y="237.8" width="14.0" height="14.0" fill="#a9d0e5"/>
<rect x="384.2" y="237.8" width="14.0" height="14.0" fill="#c7e0ee"/>
<rect x="397.6" y="237.8" width="14.0" height="14.0" fill="#e4f0f7"/>
<rect x="411.0" y="237.8" width="14.0" height="14.0" fill="#eef6fa"/>
<rect x="424.4" y="237.8" width="14.0" height="14.0" fill="#fafcfd"/>
<rect x="437.8" y="237.8" width="14.0" height="14.0" fill="#fefeff"/>
<rect x="451.1" y="237.8" width="14.0" height="14.0" fill="#fefbf9"/>
<rect x="464.5" y="237.8" width="14.0" height="14.0" fill="#fdf8f4"/>
<rect x="477.9" y="237.8" width="14.0" height="14.0" fill="#fefcfa"/>
<rect x="491.3" y="237.8" width="14.0" height="14.0" fill="#f6fafc"/>
<rect x="504.7" y="237.8" width="14.0" height="14.0" fill="#edf5fa"/>
<rect x="518.0" y="237.8" width="14.0" height="14.0" fill="#eef5fa"/>
<rect x="531.4" y="237.8" width="54.0" height="14.0" fill="#eef5fa"/>
<rect x="76.6" y="251.2" width="54.0" height="14.0" fill="#e1eef6"/>
<rect x="130.0" y="251.2" width="14.0" height="14.0" fill="#edf5f9"/>
<rect x="143.4" y="251.2" width="14.0" height="14.0" fill="#fffefd"/>
<rect x="156.7" y="251.2" width="14.0" height="14.0" fill="#fef9f6"/>
<rect x="170.1" y="251.2" width="14.0" height="14.0" fill="#feffff"/>
<rect x="183.5" y="251.2" width="14.0" height="14.0" fill="#fdfeff"/>
<rect x="196.9" y="251.2" width="14.0" height="14.0" fill="#fefbf8"/>
<rect x="210.3" y="251.2" width="14.0" height="14.0" fill="#fefcfa"/>
<rect x="223.6" y="251.2" width="14.0" height="14.0" fill="#fcfdfe"/>
<rect x="237.0" y="251.2" width="14.0" height="14.0" fill="#daeaf4"/>
<rect x="250.4" y="251.2" width="14.0" height="14.0" fill="#b1d4e7"/>
<rect x="263.8" y="251.2" width="14.0" height="14.0" fill="#8cbfdc"/>
<rect x="277.2" y="251.2" width="14.0" height="14.0" fill="#81b9d9"/>
<rect x="290.6" y="251.2" width="14.0" height="14.0" fill="#77b4d6"/>
<rect x="303.9" y="251.2" width="14.0" height="14.0" fill="#77b4d6"/>
<rect x="317.3" y="251.2" width="14.0" height="14.0" fill="#69acd2"/>
<rect x="330.7" y="251.2" width="14.0" height="14.0" fill="#54a0cb"/>
<rect x="344.1" y="251.2" width="14.0" height="14.0" fill="#5ba4cd"/>
<rect x="357.5" y="251.2" width="14.0" height="14.0" fill="#78b4d6"/>
<rect x="370.8" y="251.2" width="14.0" height="14.0" fill="#a3cce3"/>
<rect x="384.2" y="251.2" width="14.0" height="14.0" fill="#c5dfed"/>
<rect x="397.6" y="251.2" width="14.0" height="14.0" fill="#e2eff6"/>
<rect x="411.0" y="251.2" width="14.0" height="14.0" fill="#e9f3f8"/>
<rect x="424.4" y="251.2" width="14.0" height="14.0" fill="#fcfdfe"/>
<rect x="437.8" y="251.2" width="14.0" height="14.0" fill="#fcf5f0"/>
<rect x="451.1" y="251.2" width="14.0" height="14.0" fill="#fbefe5"/>
<rect x="464.5" y="251.2" width="14.0" height="14.0" fill="#fbf1e9"/>
<rect x="477.9" y="251.2" width="14.0" height="14.0" fill="#fefbf9"/>
<rect x="491.3" y="251.2" width="14.0" height="14.0" fill="#f0f7fa"/>
<rect x="504.7" y="251.2" width="14.0" height="14.0" fill="#e4f0f7"/>
<rect x="518.0" y="251.2" width="14.0" height="14.0" fill="#e9f3f8"/>
<rect x="531.4" y="251.2" width="54.0" height="14.0" fill="#ebf4f9"/>
<rect x="76.6" y="264.5" width="54.0" height="14.0" fill="#daebf4"/>
<rect x="130.0" y="264.5" width="14.0" height="14.0" fill="#ddecf5"/>
<rect x="143.4" y="264.5" width="14.0" height="14.0" fill="#e2eff6"/>
<rect x="156.7" y="264.5" width="14.0" height="14.0" fill="#e9f3f8"/>
<rect x="170.1" y="264.5" width="14.0" height="14.0" fill="#eff6fa"/>
<rect x="183.5" y="264.5" width="14.0" height="14.0" fill="#f7fbfd"/>
<rect x="196.9" y="264.5" width="14.0" height="14.0" fill="#feffff"/>
<rect x="210.3" y="264.5" width="14.0" height="14.0" fill="#fcfefe"/>
<rect x="223.6" y="264.5" width="14.0" height="14.0" fill="#f4f9fc"/>
<rect x="237.0" y="264.5" width="14.0" height="14.0" fill="#cee4f0"/>
<rect x="250.4" y="264.5" width="14.0" height="14.0" fill="#a0cae2"/>
<rect x="263.8" y="264.5" width="14.0" height="14.0" fill="#7db7d8"/>
<rect x="277.2" y="264.5" width="14.0" height="14.0" fill="#7ab6d7"/>
<rect x="290.6" y="264.5" width="14.0" height="14.0" fill="#76b3d6"/>
<rect x="303.9" y="264.5" width="14.0" height="14.0" fill="#76b3d5"/>
<rect x="317.3" y="264.5" width="14.0" height="14.0" fill="#67abd1"/>
<rect x="330.7" y="264.5" width="14.0" height="14.0" fill="#529fcb"/>
<rect x="344.1" y="264.5" width="14.0" height="14.0" fill="#59a3cd"/>
<rect x="357.5" y="264.5" width="14.0" height="14.0" fill="#77b4d6"/>
<rect x="370.8" y="264.5" width="14.0" height="14.0" fill="#a2cce3"/>
<rect x="384.2" y="264.5" width="14.0" height="14.0" fill="#c2dded"/>
<rect x="397.6" y="264.5" width="14.0" height="14.0" fill="#dcebf4"/>
<rect x="411.0" y="264.5" width="14.0" height="14.0" fill="#deedf5"/>
<rect x="424.4" y="264.5" width="14.0" height="14.0" fill="#fafcfd"/>
<rect x="437.8" y="264.5" width="14.0" height="14.0" fill="#faece1"/>
<rect x="451.1" y="264.5" width="14.0" height="14.0" fill="#f7e0ce"/>
<rect x="464.5" y="264.5" width="14.0" height="14.0" fill="#f8e5d6"/>
<rect x="477.9" y="264.5" width="14.0" height="14.0" fill="#fdf6f0"/>
<rect x="491.3" y="264.5" width="14.0" height="14.0" fill="#f0f7fa"/>
<rect x="504.7" y="264.5" width="14.0" height="14.0" fill="#e0eef6"/>
<rect x="518.0" y="264.5" width="14.0" height="14.0" fill="#e7f2f8"/>
<rect x="531.4" y="264.5" width="54.0" height="14.0" fill="#eaf4f9"/>
<rect x="76.6" y="277.9" width="54.0" height="14.0" fill="#d6e8f3"/>
<rect x="130.0" y="277.9" width="14.0" height="14.0" fill="#d4e7f2"/>
<rect x="143.4" y="277.9" width="14.0" height="14.0" fill="#d0e5f1"/>
<rect x="156.7" y="277.9" width="14.0" height="14.0" fill="#d6e8f3"/>
<rect x="170.1" y="277.9" width="14.0" height="14.0" fill="#e1eef6"/>
<rect x="183.5" y="277.9" width="14.0" height="14.0" fill="#eaf3f9"/>
<rect x="196.9" y="277.9" width="14.0" height="14.0" fill="#ecf5f9"/>
<rect x="210.3" y="277.9" width="14.0" height="14.0" fill="#e4f0f7"/>
<rect x="223.6" y="277.9" width="14.0" height="14.0" fill="#d6e9f3"/>
<rect x="237.0" y="277.9" width="14.0" height="14.0" fill="#b2d5e8"/>
<rect x="250.4" y="277.9" width="14.0" height="14.0" fill="#8dc0dc"/>
<rect x="263.8" y="277.9" width="14.0" height="14.0" fill="#73b2d5"/>
<rect x="277.2" y="277.9" width="14.0" height="14.0" fill="#75b3d5"/>
<rect x="290.6" y="277.9" width="14.0" height="14.0" fill="#7ab5d7"/>
<rect x="303.9" y="277.9" width="14.0" height="14.0" fill="#82bad9"/>
<rect x="317.3" y="277.9" width="14.0" height="14.0" fill="#7db7d8"/>
<rect x="330.7" y="277.9" width="14.0" height="14.0" fill="#6eafd3"/>
<rect x="344.1" y="277.9" width="14.0" height="14.0" fill="#71b1d4"/>
<rect x="357.5" y="277.9" width="14.0" height="14.0" fill="#84bbda"/>
<rect x="370.8" y="277.9" width="14.0" height="14.0" fill="#abd1e6"/>
<rect x="384.2" y="277.9" width="14.0" height="14.0" fill="#d1e6f1"/>
<rect x="397.6" y="277.9" width="14.0" height="14.0" fill="#eef6fa"/>
<rect x="411.0" y="277.9" width="14.0" height="14.0" fill="#eff6fa"/>
<rect x="424.4" y="277.9" width="14.0" height="14.0" fill="#fefbf9"/>
<rect x="437.8" y="277.9" width="14.0" height="14.0" fill="#faeade"/>
<rect x="451.1" y="277.9" width="14.0" height="14.0" fill="#f7dfcc"/>
<rect x="464.5" y="277.9" width="14.0" height="14.0" fill="#f7e0ce"/>
<rect x="477.9" y="277.9" width="14.0" height="14.0" fill="#faebdf"/>
<rect x="491.3" y="277.9" width="14.0" height="14.0" fill="#fefaf7"/>
<rect x="504.7" y="277.9" width="14.0" height="14.0" fill="#f4f9fc"/>
<rect x="518.0" y="277.9" width="14.0" height="14.0" fill="#f1f7fb"/>
<rect x="531.4" y="277.9" width="54.0" height="14.0" fill="#eff6fa"/>
<rect x="76.6" y="291.2" width="54.0" height="14.0" fill="#d7e9f3"/>
<rect x="130.0" y="291.2" width="14.0" height="14.0" fill="#d6e9f3"/>
<rect x="143.4" y="291.2" width="14.0" height="14.0" fill="#d5e8f2"/>
<rect x="156.7" y="291.2" width="14.0" height="14.0" fill="#d8e9f3"/>
<rect x="170.1" y="291.2" width="14.0" height="14.0" fill="#ddecf5"/>
<rect x="183.5" y="291.2" width="14.0" height="14.0" fill="#deedf5"/>
<rect x="196.9" y="291.2" width="14.0" height="14.0" fill="#dcebf4"/>
<rect x="210.3" y="291.2" width="14.0" height="14.0" fill="#cae2ef"/>
<rect x="223.6" y="291.2" width="14.0" height="14.0" fill="#b5d6e9"/>
<rect x="237.0" y="291.2" width="14.0" height="14.0" fill="#98c6e0"/>
<rect x="250.4" y="291.2" width="14.0" height="14.0" fill="#84bbda"/>
<rect x="263.8" y="291.2" width="14.0" height="14.0" fill="#75b3d5"/>
<rect x="277.2" y="291.2" width="14.0" height="14.0" fill="#75b3d5"/>
<rect x="290.6" y="291.2" width="14.0" height="14.0" fill="#82bad9"/>
<rect x="303.9" y="291.2" width="14.0" height="14.0" fill="#96c5df"/>
<rect x="317.3" y="291.2" width="14.0" height="14.0" fill="#9fcae2"/>
<rect x="330.7" y="291.2" width="14.0" height="14.0" fill="#98c6e0"/>
<rect x="344.1" y="291.2" width="14.0" height="14.0" fill="#95c4df"/>
<rect x="357.5" y="291.2" width="14.0" height="14.0" fill="#95c5df"/>
<rect x="370.8" y="291.2" width="14.0" height="14.0" fill="#b8d8ea"/>
<rect x="384.2" y="291.2" width="14.0" height="14.0" fill="#eaf3f9"/>
<rect x="397.6" y="291.2" width="14.0" height="14.0" fill="#fcf5f0"/>
<rect x="411.0" y="291.2" width="14.0" height="14.0" fill="#fcf3ed"/>
<rect x="424.4" y="291.2" width="14.0" height="14.0" fill="#fbf1e9"/>
<rect x="437.8" y="291.2" width="14.0" height="14.0" fill="#fbf1e8"/>
<rect x="451.1" y="291.2" width="14.0" height="14.0" fill="#faebe0"/>
<rect x="464.5" y="291.2" width="14.0" height="14.0" fill="#f8e4d4"/>
<rect x="477.9" y="291.2" width="14.0" height="14.0" fill="#f7e1d0"/>
<rect x="491.3" y="291.2" width="14.0" height="14.0" fill="#f8e5d6"/>
<rect x="504.7" y="291.2" width="14.0" height="14.0" fill="#fbf0e7"/>
<rect x="518.0" y="291.2" width="14.0" height="14.0" fill="#fefdfb"/>
<rect x="531.4" y="291.2" width="54.0" height="14.0" fill="#f7fafd"/>
<rect x="76.6" y="304.6" width="54.0" height="14.0" fill="#d7e9f3"/>
<rect x="130.0" y="304.6" width="14.0" height="14.0" fill="#d7e9f3"/>
<rect x="143.4" y="304.6" width="14.0" height="14.0" fill="#d8e9f3"/>
<rect x="156.7" y="304.6" width="14.0" height="14.0" fill="#d7e9f3"/>
<rect x="170.1" y="304.6" width="14.0" height="14.0" fill="#d6e8f3"/>
<rect x="183.5" y="304.6" width="14.0" height="14.0" fill="#c9e1ef"/>
<rect x="196.9" y="304.6" width="14.0" height="14.0" fill="#b9d8ea"/>
<rect x="210.3" y="304.6" width="14.0" height="14.0" fill="#9ec9e2"/>
<rect x="223.6" y="304.6" width="14.0" height="14.0" fill="#89bddb"/>
<rect x="237.0" y="304.6" width="14.0" height="14.0" fill="#76b3d6"/>
<rect x="250.4" y="304.6" width="14.0" height="14.0" fill="#72b1d5"/>
<rect x="263.8" y="304.6" width="14.0" height="14.0" fill="#6eafd3"/>
<rect x="277.2" y="304.6" width="14.0" height="14.0" fill="#6badd2"/>
<rect x="290.6" y="304.6" width="14.0" height="14.0" fill="#81b9d9"/>
<rect x="303.9" y="304.6" width="14.0" height="14.0" fill="#a5cde4"/>
<rect x="317.3" y="304.6" width="14.0" height="14.0" fill="#bbd9ea"/>
<rect x="330.7" y="304.6" width="14.0" height="14.0" fill="#b6d7e9"/>
<rect x="344.1" y="304.6" width="14.0" height="14.0" fill="#b9d8ea"/>
<rect x="357.5" y="304.6" width="14.0" height="14.0" fill="#bfdbec"/>
<rect x="370.8" y="304.6" width="14.0" height="14.0" fill="#e2eff6"/>
<rect x="384.2" y="304.6" width="14.0" height="14.0" fill="#fdf6f0"/>
<rect x="397.6" y="304.6" width="14.0" height="14.0" fill="#f7e0cd"/>
<rect x="411.0" y="304.6" width="14.0" height="14.0" fill="#f6dbc7"/>
<rect x="424.4" y="304.6" width="14.0" height="14.0" fill="#f7e2d0"/>
<rect x="437.8" y="304.6" width="14.0" height="14.0" fill="#fbf0e7"/>
<rect x="451.1" y="304.6" width="14.0" height="14.0" fill="#fbf1e9"/>
<rect x="464.5" y="304.6" width="14.0" height="14.0" fill="#f8e5d6"/>
<rect x="477.9" y="304.6" width="14.0" height="14.0" fill="#f6dcc7"/>
<rect x="491.3" y="304.6" width="14.0" height="14.0" fill="#f5d9c4"/>
<rect x="504.7" y="304.6" width="14.0" height="14.0" fill="#f8e4d4"/>
<rect x="518.0" y="304.6" width="14.0" height="14.0" fill="#fdf6f1"/>
<rect x="531.4" y="304.6" width="54.0" height="14.0" fill="#fcfdfe"/>
<rect x="76.6" y="317.9" width="54.0" height="14.0" fill="#d6e8f2"/>
<rect x="130.0" y="317.9" width="14.0" height="14.0" fill="#d6e8f3"/>
<rect x="143.4" y="317.9" width="14.0" height="14.0" fill="#d7e9f3"/>
<rect x="156.7" y="317.9" width="14.0" height="14.0" fill="#d4e7f2"/>
<rect x="170.1" y="317.9" width="14.0" height="14.0" fill="#d0e5f1"/>
<rect x="183.5" y="317.9" width="14.0" height="14.0" fill="#b7d7e9"/>
<rect x="196.9" y="317.9" width="14.0" height="14.0" fill="#98c6e0"/>
<rect x="210.3" y="317.9" width="14.0" height="14.0" fill="#78b5d6"/>
<rect x="223.6" y="317.9" width="14.0" height="14.0" fill="#6badd2"/>
<rect x="237.0" y="317.9" width="14.0" height="14.0" fill="#62a8d0"/>
<rect x="250.4" y="317.9" width="14.0" height="14.0" fill="#64a9d0"/>
<rect x="263.8" y="317.9" width="14.0" height="14.0" fill="#62a8d0"/>
<rect x="277.2" y="317.9" width="14.0" height="14.0" fill="#5ca5ce"/>
<rect x="290.6" y="317.9" width="14.0" height="14.0" fill="#79b5d6"/>
<rect x="303.9" y="317.9" width="14.0" height="14.0" fill="#a7cfe5"/>
<rect x="317.3" y="317.9" width="14.0" height="14.0" fill="#c1ddec"/>
<rect x="330.7" y="317.9" width="14.0" height="14.0" fill="#b7d7e9"/>
<rect x="344.1" y="317.9" width="14.0" height="14.0" fill="#c8e1ee"/>
<rect x="357.5" y="317.9" width="14.0" height="14.0" fill="#e8f2f8"/>
<rect x="370.8" y="317.9" width="14.0" height="14.0" fill="#fcf4ed"/>
<rect x="384.2" y="317.9" width="14.0" height="14.0" fill="#f8e4d4"/>
<rect x="397.6" y="317.9" width="14.0" height="14.0" fill="#f4d4ba"/>
<rect x="411.0" y="317.9" width="14.0" height="14.0" fill="#f2cdb0"/>
<rect x="424.4" y="317.9" width="14.0" height="14.0" fill="#f4d5bd"/>
<rect x="437.8" y="317.9" width="14.0" height="14.0" fill="#f9e8da"/>
<rect x="451.1" y="317.9" width="14.0" height="14.0" fill="#faede3"/>
<rect x="464.5" y="317.9" width="14.0" height="14.0" fill="#f8e3d2"/>
<rect x="477.9" y="317.9" width="14.0" height="14.0" fill="#f6dcc8"/>
<rect x="491.3" y="317.9" width="14.0" height="14.0" fill="#f6ddc9"/>
<rect x="504.7" y="317.9" width="14.0" height="14.0" fill="#f9e8db"/>
<rect x="518.0" y="317.9" width="14.0" height="14.0" fill="#fdf7f3"/>
<rect x="531.4" y="317.9" width="54.0" height="14.0" fill="#fcfdfe"/>
<rect x="76.6" y="331.3" width="54.0" height="14.0" fill="#dcecf4"/>
<rect x="130.0" y="331.3" width="14.0" height="14.0" fill="#ddecf5"/>
<rect x="143.4" y="331.3" width="14.0" height="14.0" fill="#dfedf5"/>
<rect x="156.7" y="331.3" width="14.0" height="14.0" fill="#d8eaf3"/>
<rect x="170.1" y="331.3" width="14.0" height="14.0" fill="#cee4f0"/>
<rect x="183.5" y="331.3" width="14.0" height="14.0" fill="#aad0e5"/>
<rect x="196.9" y="331.3" width="14.0" height="14.0" fill="#82bad9"/>
<rect x="210.3" y="331.3" width="14.0" height="14.0" fill="#60a7cf"/>
<rect x="223.6" y="331.3" width="14.0" height="14.0" fill="#58a2cc"/>
<rect x="237.0" y="331.3" width="14.0" height="14.0" fill="#509eca"/>
<rect x="250.4" y="331.3" width="14.0" height="14.0" fill="#509eca"/>
<rect x="263.8" y="331.3" width="14.0" height="14.0" fill="#4b9bc9"/>
<rect x="277.2" y="331.3" width="14.0" height="14.0" fill="#4397c6"/>
<rect x="290.6" y="331.3" width="14.0" height="14.0" fill="#67abd1"/>
<rect x="303.9" y="331.3" width="14.0" height="14.0" fill="#a3cce3"/>
<rect x="317.3" y="331.3" width="14.0" height="14.0" fill="#cbe2ef"/>
<rect x="330.7" y="331.3" width="14.0" height="14.0" fill="#c6dfee"/>
<rect x="344.1" y="331.3" width="14.0" height="14.0" fill="#e1eef6"/>
<rect x="357.5" y="331.3" width="14.0" height="14.0" fill="#fdf8f4"/>
<rect x="370.8" y="331.3" width="14.0" height="14.0" fill="#f8e5d6"/>
<rect x="384.2" y="331.3" width="14.0" height="14.0" fill="#f8e4d5"/>
<rect x="397.6" y="331.3" width="14.0" height="14.0" fill="#f7dfcd"/>
<rect x="411.0" y="331.3" width="14.0" height="14.0" fill="#f5d9c3"/>
<rect x="424.4" y="331.3" width="14.0" height="14.0" fill="#f7dfcd"/>
<rect x="437.8" y="331.3" width="14.0" height="14.0" fill="#fbeee5"/>
<rect x="451.1" y="331.3" width="14.0" height="14.0" fill="#fcf4ee"/>
<rect x="464.5" y="331.3" width="14.0" height="14.0" fill="#faede3"/>
<rect x="477.9" y="331.3" width="14.0" height="14.0" fill="#faebdf"/>
<rect x="491.3" y="331.3" width="14.0" height="14.0" fill="#faede3"/>
<rect x="504.7" y="331.3" width="14.0" height="14.0" fill="#fcf4ee"/>
<rect x="518.0" y="331.3" width="14.0" height="14.0" fill="#fefdfc"/>
<rect x="531.4" y="331.3" width="54.0" height="14.0" fill="#fafcfd"/>
<rect x="76.6" y="344.6" width="54.0" height="14.0" fill="#e7f1f8"/>
<rect x="130.0" y="344.6" width="14.0" height="14.0" fill="#e8f2f8"/>
<rect x="143.4" y="344.6" width="14.0" height="14.0" fill="#ecf4f9"/>
<rect x="156.7" y="344.6" width="14.0" height="14.0" fill="#e1eef6"/>
<rect x="170.1" y="344.6" width="14.0" height="14.0" fill="#d0e5f1"/>
<rect x="183.5" y="344.6" width="14.0" height="14.0" fill="#a9d0e5"/>
<rect x="196.9" y="344.6" width="14.0" height="14.0" fill="#83bada"/>
<rect x="210.3" y="344.6" width="14.0" height="14.0" fill="#62a8d0"/>
<rect x="223.6" y="344.6" width="14.0" height="14.0" fill="#5aa4cd"/>
<rect x="237.0" y="344.6" width="14.0" height="14.0" fill="#4c9cc9"/>
<rect x="250.4" y="344.6" width="14.0" height="14.0" fill="#4096c5"/>
<rect x="263.8" y="344.6" width="14.0" height="14.0" fill="#348fc2"/>
<rect x="277.2" y="344.6" width="14.0" height="14.0" fill="#2b8abf"/>
<rect x="290.6" y="344.6" width="14.0" height="14.0" fill="#55a1cc"/>
<rect x="303.9" y="344.6" width="14.0" height="14.0" fill="#99c7e0"/>
<rect x="317.3" y="344.6" width="14.0" height="14.0" fill="#d0e5f1"/>
<rect x="330.7" y="344.6" width="14.0" height="14.0" fill="#d8eaf3"/>
<rect x="344.1" y="344.6" width="14.0" height="14.0" fill="#f4f9fc"/>
<rect x="357.5" y="344.6" width="14.0" height="14.0" fill="#fcf3ec"/>
<rect x="370.8" y="344.6" width="14.0" height="14.0" fill="#faede3"/>
<rect x="384.2" y="344.6" width="14.0" height="14.0" fill="#fdf7f3"/>
<rect x="397.6" y="344.6" width="14.0" height="14.0" fill="#fefcfa"/>
<rect x="411.0" y="344.6" width="14.0" height="14.0" fill="#fdf9f5"/>
<rect x="424.4" y="344.6" width="14.0" height="14.0" fill="#fefaf8"/>
<rect x="437.8" y="344.6" width="14.0" height="14.0" fill="#feffff"/>
<rect x="451.1" y="344.6" width="14.0" height="14.0" fill="#fcfdfe"/>
<rect x="464.5" y="344.6" width="14.0" height="14.0" fill="#fffefe"/>
<rect x="477.9" y="344.6" width="14.0" height="14.0" fill="#fffefe"/>
<rect x="491.3" y="344.6" width="14.0" height="14.0" fill="#fcfefe"/>
<rect x="504.7" y="344.6" width="14.0" height="14.0" fill="#f9fcfd"/>
<rect x="518.0" y="344.6" width="14.0" height="14.0" fill="#f8fbfd"/>
<rect x="531.4" y="344.6" width="54.0" height="14.0" fill="#f7fafd"/>
<rect x="76.6" y="358.0" width="54.0" height="14.0" fill="#f2f8fb"/>
<rect x="130.0" y="358.0" width="14.0" height="14.0" fill="#f3f8fb"/>
<rect x="143.4" y="358.0" width="14.0" height="14.0" fill="#f4f9fc"/>
<rect x="156.7" y="358.0" width="14.0" height="14.0" fill="#e9f3f8"/>
<rect x="170.1" y="358.0" width="14.0" height="14.0" fill="#d8e9f3"/>
<rect x="183.5" y="358.0" width="14.0" height="14.0" fill="#b5d6e9"/>
<rect x="196.9" y="358.0" width="14.0" height="14.0" fill="#94c4df"/>
<rect x="210.3" y="358.0" width="14.0" height="14.0" fill="#75b3d5"/>
<rect x="223.6" y="358.0" width="14.0" height="14.0" fill="#6caed3"/>
<rect x="237.0" y="358.0" width="14.0" height="14.0" fill="#5da5ce"/>
<rect x="250.4" y="358.0" width="14.0" height="14.0" fill="#509eca"/>
<rect x="263.8" y="358.0" width="14.0" height="14.0" fill="#4799c7"/>
<rect x="277.2" y="358.0" width="14.0" height="14.0" fill="#4498c7"/>
<rect x="290.6" y="358.0" width="14.0" height="14.0" fill="#6aadd2"/>
<rect x="303.9" y="358.0" width="14.0" height="14.0" fill="#a3cce3"/>
<rect x="317.3" y="358.0" width="14.0" height="14.0" fill="#d8e9f3"/>
<rect x="330.7" y="358.0" width="14.0" height="14.0" fill="#eaf3f9"/>
<rect x="344.1" y="358.0" width="14.0" height="14.0" fill="#feffff"/>
<rect x="357.5" y="358.0" width="14.0" height="14.0" fill="#fdf9f6"/>
<rect x="370.8" y="358.0" width="14.0" height="14.0" fill="#fdfefe"/>
<rect x="384.2" y="358.0" width="14.0" height="14.0" fill="#e1eef6"/>
<rect x="397.6" y="358.0" width="14.0" height="14.0" fill="#cfe5f1"/>
<rect x="411.0" y="358.0" width="14.0" height="14.0" fill="#d1e5f1"/>
<rect x="424.4" y="358.0" width="14.0" height="14.0" fill="#d5e8f2"/>
<rect x="437.8" y="358.0" width="14.0" height="14.0" fill="#dbebf4"/>
<rect x="451.1" y="358.0" width="14.0" height="14.0" fill="#dcebf4"/>
<rect x="464.5" y="358.0" width="14.0" height="14.0" fill="#d7e9f3"/>
<rect x="477.9" y="358.0" width="14.0" height="14.0" fill="#d8e9f3"/>
<rect x="491.3" y="358.0" width="14.0" height="14.0" fill="#ddecf5"/>
<rect x="504.7" y="358.0" width="14.0" height="14.0" fill="#e6f1f7"/>
<rect x="518.0" y="358.0" width="14.0" height="14.0" fill="#eef5fa"/>
<rect x="531.4" y="358.0" width="54.0" height="14.0" fill="#f2f8fb"/>
<rect x="76.6" y="371.4" width="54.0" height="14.0" fill="#f9fcfd"/>
<rect x="130.0" y="371.4" width="14.0" height="14.0" fill="#f7fbfd"/>
<rect x="143.4" y="371.4" width="14.0" height="14.0" fill="#f6fafc"/>
<rect x="156.7" y="371.4" width="14.0" height="14.0" fill="#ecf5f9"/>
<rect x="170.1" y="371.4" width="14.0" height="14.0" fill="#e1eef6"/>
<rect x="183.5" y="371.4" width="14.0" height="14.0" fill="#c6e0ee"/>
<rect x="196.9" y="371.4" width="14.0" height="14.0" fill="#abd1e6"/>
<rect x="210.3" y="371.4" width="14.0" height="14.0" fill="#90c2dd"/>
<rect x="223.6" y="371.4" width="14.0" height="14.0" fill="#84bbda"/>
<rect x="237.0" y="371.4" width="14.0" height="14.0" fill="#78b5d6"/>
<rect x="250.4" y="371.4" width="14.0" height="14.0" fill="#75b3d5"/>
<rect x="263.8" y="371.4" width="14.0" height="14.0" fill="#78b4d6"/>
<rect x="277.2" y="371.4" width="14.0" height="14.0" fill="#7fb8d8"/>
<rect x="290.6" y="371.4" width="14.0" height="14.0" fill="#9ac7e1"/>
<rect x="303.9" y="371.4" width="14.0" height="14.0" fill="#bad9ea"/>
<rect x="317.3" y="371.4" width="14.0" height="14.0" fill="#ddecf5"/>
<rect x="330.7" y="371.4" width="14.0" height="14.0" fill="#f1f7fb"/>
<rect x="344.1" y="371.4" width="14.0" height="14.0" fill="#fafcfd"/>
<rect x="357.5" y="371.4" width="14.0" height="14.0" fill="#f3f9fb"/>
<rect x="370.8" y="371.4" width="14.0" height="14.0" fill="#dcecf5"/>
<rect x="384.2" y="371.4" width="14.0" height="14.0" fill="#c1ddec"/>
<rect x="397.6" y="371.4" width="14.0" height="14.0" fill="#afd3e7"/>
<rect x="411.0" y="371.4" width="14.0" height="14.0" fill="#b1d4e7"/>
<rect x="424.4" y="371.4" width="14.0" height="14.0" fill="#b8d8e9"/>
<rect x="437.8" y="371.4" width="14.0" height="14.0" fill="#c2dded"/>
<rect x="451.1" y="371.4" width="14.0" height="14.0" fill="#c2dded"/>
<rect x="464.5" y="371.4" width="14.0" height="14.0" fill="#b7d7e9"/>
<rect x="477.9" y="371.4" width="14.0" height="14.0" fill="#bddbeb"/>
<rect x="491.3" y="371.4" width="14.0" height="14.0" fill="#d0e5f1"/>
<rect x="504.7" y="371.4" width="14.0" height="14.0" fill="#e2eff6"/>
<rect x="518.0" y="371.4" width="14.0" height="14.0" fill="#eaf3f9"/>
<rect x="531.4" y="371.4" width="54.0" height="14.0" fill="#eff6fa"/>
<rect x="76.6" y="384.7" width="54.0" height="14.0" fill="#ebf4f9"/>
<rect x="130.0" y="384.7" width="14.0" height="14.0" fill="#e9f3f8"/>
<rect x="143.4" y="384.7" width="14.0" height="14.0" fill="#e7f2f8"/>
<rect x="156.7" y="384.7" width="14.0" height="14.0" fill="#e2eff6"/>
<rect x="170.1" y="384.7" width="14.0" height="14.0" fill="#ddecf5"/>
<rect x="183.5" y="384.7" width="14.0" height="14.0" fill="#cee4f0"/>
<rect x="196.9" y="384.7" width="14.0" height="14.0" fill="#bedbeb"/>
<rect x="210.3" y="384.7" width="14.0" height="14.0" fill="#afd3e7"/>
<rect x="223.6" y="384.7" width="14.0" height="14.0" fill="#aad0e5"/>
<rect x="237.0" y="384.7" width="14.0" height="14.0" fill="#a6cee4"/>
<rect x="250.4" y="384.7" width="14.0" height="14.0" fill="#a7cfe5"/>
<rect x="263.8" y="384.7" width="14.0" height="14.0" fill="#b0d3e7"/>
<rect x="277.2" y="384.7" width="14.0" height="14.0" fill="#bad9ea"/>
<rect x="290.6" y="384.7" width="14.0" height="14.0" fill="#cde3f0"/>
<rect x="303.9" y="384.7" width="14.0" height="14.0" fill="#ddecf5"/>
<rect x="317.3" y="384.7" width="14.0" height="14.0" fill="#ecf5f9"/>
<rect x="330.7" y="384.7" width="14.0" height="14.0" fill="#f1f8fb"/>
<rect x="344.1" y="384.7" width="14.0" height="14.0" fill="#e8f2f8"/>
<rect x="357.5" y="384.7" width="14.0" height="14.0" fill="#d4e7f2"/>
<rect x="370.8" y="384.7" width="14.0" height="14.0" fill="#bcdaeb"/>
<rect x="384.2" y="384.7" width="14.0" height="14.0" fill="#add1e6"/>
<rect x="397.6" y="384.7" width="14.0" height="14.0" fill="#a4cde3"/>
<rect x="411.0" y="384.7" width="14.0" height="14.0" fill="#a7cee5"/>
<rect x="424.4" y="384.7" width="14.0" height="14.0" fill="#acd1e6"/>
<rect x="437.8" y="384.7" width="14.0" height="14.0" fill="#b0d3e7"/>
<rect x="451.1" y="384.7" width="14.0" height="14.0" fill="#acd1e6"/>
<rect x="464.5" y="384.7" width="14.0" height="14.0" fill="#a1cbe3"/>
<rect x="477.9" y="384.7" width="14.0" height="14.0" fill="#acd1e6"/>
<rect x="491.3" y="384.7" width="14.0" height="14.0" fill="#c6dfee"/>
<rect x="504.7" y="384.7" width="14.0" height="14.0" fill="#dfedf5"/>
<rect x="518.0" y="384.7" width="14.0" height="14.0" fill="#e8f2f8"/>
<rect x="531.4" y="384.7" width="54.0" height="14.0" fill="#eef6fa"/>
<rect x="76.6" y="398.1" width="54.0" height="14.0" fill="#d0e5f1"/>
<rect x="130.0" y="398.1" width="14.0" height="14.0" fill="#d0e5f1"/>
<rect x="143.4" y="398.1" width="14.0" height="14.0" fill="#d1e5f1"/>
<rect x="156.7" y="398.1" width="14.0" height="14.0" fill="#d0e5f1"/>
<rect x="170.1" y="398.1" width="14.0" height="14.0" fill="#cfe4f0"/>
<rect x="183.5" y="398.1" width="14.0" height="14.0" fill="#c9e1ef"/>
<rect x="196.9" y="398.1" width="14.0" height="14.0" fill="#c2dded"/>
<rect x="210.3" y="398.1" width="14.0" height="14.0" fill="#c2dded"/>
<rect x="223.6" y="398.1" width="14.0" height="14.0" fill="#c9e1ef"/>
<rect x="237.0" y="398.1" width="14.0" height="14.0" fill="#cde3f0"/>
<rect x="250.4" y="398.1" width="14.0" height="14.0" fill="#cce3ef"/>
<rect x="263.8" y="398.1" width="14.0" height="14.0" fill="#cfe5f1"/>
<rect x="277.2" y="398.1" width="14.0" height="14.0" fill="#d5e8f2"/>
<rect x="290.6" y="398.1" width="14.0" height="14.0" fill="#e6f1f8"/>
<rect x="303.9" y="398.1" width="14.0" height="14.0" fill="#fafcfd"/>
<rect x="317.3" y="398.1" width="14.0" height="14.0" fill="#fcfdfe"/>
<rect x="330.7" y="398.1" width="14.0" height="14.0" fill="#ebf4f9"/>
<rect x="344.1" y="398.1" width="14.0" height="14.0" fill="#d1e6f1"/>
<rect x="357.5" y="398.1" width="14.0" height="14.0" fill="#bbdaeb"/>
<rect x="370.8" y="398.1" width="14.0" height="14.0" fill="#aed2e6"/>
<rect x="384.2" y="398.1" width="14.0" height="14.0" fill="#b1d4e7"/>
<rect x="397.6" y="398.1" width="14.0" height="14.0" fill="#b6d7e9"/>
<rect x="411.0" y="398.1" width="14.0" height="14.0" fill="#bcdaeb"/>
<rect x="424.4" y="398.1" width="14.0" height="14.0" fill="#bad9ea"/>
<rect x="437.8" y="398.1" width="14.0" height="14.0" fill="#b1d4e7"/>
<rect x="451.1" y="398.1" width="14.0" height="14.0" fill="#a7cee4"/>
<rect x="464.5" y="398.1" width="14.0" height="14.0" fill="#a2cbe3"/>
<rect x="477.9" y="398.1" width="14.0" height="14.0" fill="#aed2e7"/>
<rect x="491.3" y="398.1" width="14.0" height="14.0" fill="#c6dfee"/>
<rect x="504.7" y="398.1" width="14.0" height="14.0" fill="#deedf5"/>
<rect x="518.0" y="398.1" width="14.0" height="14.0" fill="#e9f3f8"/>
<rect x="531.4" y="398.1" width="54.0" height="14.0" fill="#f0f7fb"/>
<rect x="76.6" y="411.4" width="54.0" height="14.0" fill="#b8d8e9"/>
<rect x="130.0" y="411.4" width="14.0" height="14.0" fill="#b6d7e9"/>
<rect x="143.4" y="411.4" width="14.0" height="14.0" fill="#b3d5e8"/>
<rect x="156.7" y="411.4" width="14.0" height="14.0" fill="#b2d4e8"/>
<rect x="170.1" y="411.4" width="14.0" height="14.0" fill="#b3d5e8"/>
<rect x="183.5" y="411.4" width="14.0" height="14.0" fill="#b6d7e9"/>
<rect x="196.9" y="411.4" width="14.0" height="14.0" fill="#bad9ea"/>
<rect x="210.3" y="411.4" width="14.0" height="14.0" fill="#c6e0ee"/>
<rect x="223.6" y="411.4" width="14.0" height="14.0" fill="#d4e7f2"/>
<rect x="237.0" y="411.4" width="14.0" height="14.0" fill="#dcecf5"/>
<rect x="250.4" y="411.4" width="14.0" height="14.0" fill="#daeaf4"/>
<rect x="263.8" y="411.4" width="14.0" height="14.0" fill="#dcebf4"/>
<rect x="277.2" y="411.4" width="14.0" height="14.0" fill="#e0eef6"/>
<rect x="290.6" y="411.4" width="14.0" height="14.0" fill="#f5f9fc"/>
<rect x="303.9" y="411.4" width="14.0" height="14.0" fill="#fcf4ee"/>
<rect x="317.3" y="411.4" width="14.0" height="14.0" fill="#fdf7f3"/>
<rect x="330.7" y="411.4" width="14.0" height="14.0" fill="#e9f3f8"/>
<rect x="344.1" y="411.4" width="14.0" height="14.0" fill="#c3deed"/>
<rect x="357.5" y="411.4" width="14.0" height="14.0" fill="#add2e6"/>
<rect x="370.8" y="411.4" width="14.0" height="14.0" fill="#a2cbe3"/>
<rect x="384.2" y="411.4" width="14.0" height="14.0" fill="#a8cfe5"/>
<rect x="397.6" y="411.4" width="14.0" height="14.0" fill="#b3d5e8"/>
<rect x="411.0" y="411.4" width="14.0" height="14.0" fill="#bedbeb"/>
<rect x="424.4" y="411.4" width="14.0" height="14.0" fill="#bcdaeb"/>
<rect x="437.8" y="411.4" width="14.0" height="14.0" fill="#aed2e7"/>
<rect x="451.1" y="411.4" width="14.0" height="14.0" fill="#a6cee4"/>
<rect x="464.5" y="411.4" width="14.0" height="14.0" fill="#a8cfe5"/>
<rect x="477.9" y="411.4" width="14.0" height="14.0" fill="#bbd9ea"/>
<rect x="491.3" y="411.4" width="14.0" height="14.0" fill="#d3e6f2"/>
<rect x="504.7" y="411.4" width="14.0" height="14.0" fill="#ecf5f9"/>
<rect x="518.0" y="411.4" width="14.0" height="14.0" fill="#f9fcfd"/>
<rect x="531.4" y="411.4" width="54.0" height="14.0" fill="#fffefd"/>
<rect x="76.6" y="424.8" width="54.0" height="14.0" fill="#b0d3e7"/>
<rect x="130.0" y="424.8" width="14.0" height="14.0" fill="#aad0e5"/>
<rect x="143.4" y="424.8" width="14.0" height="14.0" fill="#9fcae2"/>
<rect x="156.7" y="424.8" width="14.0" height="14.0" fill="#99c6e0"/>
<rect x="170.1" y="424.8" width="14.0" height="14.0" fill="#99c7e0"/>
<rect x="183.5" y="424.8" width="14.0" height="14.0" fill="#a0cae2"/>
<rect x="196.9" y="424.8" width="14.0" height="14.0" fill="#a9d0e5"/>
<rect x="210.3" y="424.8" width="14.0" height="14.0" fill="#b8d8ea"/>
<rect x="223.6" y="424.8" width="14.0" height="14.0" fill="#c4dfed"/>
<rect x="237.0" y="424.8" width="14.0" height="14.0" fill="#cbe2ef"/>
<rect x="250.4" y="424.8" width="14.0" height="14.0" fill="#c8e1ee"/>
<rect x="263.8" y="424.8" width="14.0" height="14.0" fill="#cbe2ef"/>
<rect x="277.2" y="424.8" width="14.0" height="14.0" fill="#d2e6f1"/>
<rect x="290.6" y="424.8" width="14.0" height="14.0" fill="#eff6fa"/>
<rect x="303.9" y="424.8" width="14.0" height="14.0" fill="#fcf2ea"/>
<rect x="317.3" y="424.8" width="14.0" height="14.0" fill="#fcf3eb"/>
<rect x="330.7" y="424.8" width="14.0" height="14.0" fill="#edf5fa"/>
<rect x="344.1" y="424.8" width="14.0" height="14.0" fill="#c6dfee"/>
<rect x="357.5" y="424.8" width="14.0" height="14.0" fill="#b2d5e8"/>
<rect x="370.8" y="424.8" width="14.0" height="14.0" fill="#a0cae2"/>
<rect x="384.2" y="424.8" width="14.0" height="14.0" fill="#99c7e0"/>
<rect x="397.6" y="424.8" width="14.0" height="14.0" fill="#9ec9e2"/>
<rect x="411.0" y="424.8" width="14.0" height="14.0" fill="#acd1e6"/>
<rect x="424.4" y="424.8" width="14.0" height="14.0" fill="#b1d4e7"/>
<rect x="437.8" y="424.8" width="14.0" height="14.0" fill="#aad0e5"/>
<rect x="451.1" y="424.8" width="14.0" height="14.0" fill="#abd1e6"/>
<rect x="464.5" y="424.8" width="14.0" height="14.0" fill="#b2d4e8"/>
<rect x="477.9" y="424.8" width="14.0" height="14.0" fill="#cae2ef"/>
<rect x="491.3" y="424.8" width="14.0" height="14.0" fill="#e7f2f8"/>
<rect x="504.7" y="424.8" width="14.0" height="14.0" fill="#fefdfb"/>
<rect x="518.0" y="424.8" width="14.0" height="14.0" fill="#fcf5ef"/>
<rect x="531.4" y="424.8" width="54.0" height="14.0" fill="#fbf0e8"/>
<rect x="76.6" y="438.1" width="54.0" height="54.0" fill="#abd1e6"/>
<rect x="130.0" y="438.1" width="14.0" height="54.0" fill="#a2cbe3"/>
<rect x="143.4" y="438.1" width="14.0" height="54.0" fill="#93c3de"/>
<rect x="156.7" y="438.1" width="14.0" height="54.0" fill="#89bedb"/>
<rect x="170.1" y="438.1" width="14.0" height="54.0" fill="#89bedb"/>
<rect x="183.5" y="438.1" width="14.0" height="54.0" fill="#92c3de"/>
<rect x="196.9" y="438.1" width="14.0" height="54.0" fill="#9fcae2"/>
<rect x="210.3" y="438.1" width="14.0" height="54.0" fill="#b0d3e7"/>
<rect x="223.6" y="438.1" width="14.0" height="54.0" fill="#bbd9eb"/>
<rect x="237.0" y="438.1" width="14.0" height="54.0" fill="#c1ddec"/>
<rect x="250.4" y="438.1" width="14.0" height="54.0" fill="#bedbeb"/>
<rect x="263.8" y="438.1" width="14.0" height="54.0" fill="#c2dded"/>
<rect x="277.2" y="438.1" width="14.0" height="54.0" fill="#cae1ef"/>
<rect x="290.6" y="438.1" width="14.0" height="54.0" fill="#ebf4f9"/>
<rect x="303.9" y="438.1" width="14.0" height="54.0" fill="#fbf0e8"/>
<rect x="317.3" y="438.1" width="14.0" height="54.0" fill="#fbf0e7"/>
<rect x="330.7" y="438.1" width="14.0" height="54.0" fill="#eff6fa"/>
<rect x="344.1" y="438.1" width="14.0" height="54.0" fill="#c7e0ee"/>
<rect x="357.5" y="438.1" width="14.0" height="54.0" fill="#b5d6e9"/>
<rect x="370.8" y="438.1" width="14.0" height="54.0" fill="#9ecae2"/>
<rect x="384.2" y="438.1" width="14.0" height="54.0" fill="#90c2de"/>
<rect x="397.6" y="438.1" width="14.0" height="54.0" fill="#91c2de"/>
<rect x="411.0" y="438.1" width="14.0" height="54.0" fill="#a1cbe3"/>
<rect x="424.4" y="438.1" width="14.0" height="54.0" fill="#aad0e5"/>
<rect x="437.8" y="438.1" width="14.0" height="54.0" fill="#a8cfe5"/>
<rect x="451.1" y="438.1" width="14.0" height="54.0" fill="#aed2e7"/>
<rect x="464.5" y="438.1" width="14.0" height="54.0" fill="#b8d8ea"/>
<rect x="477.9" y="438.1" width="14.0" height="54.0" fill="#d4e7f2"/>
<rect x="491.3" y="438.1" width="14.0" height="54.0" fill="#f3f8fb"/>
<rect x="504.7" y="438.1" width="14.0" height="54.0" fill="#fcf4ee"/>
<rect x="518.0" y="438.1" width="14.0" height="54.0" fill="#faede2"/>
<rect x="531.4" y="438.1" width="54.0" height="54.0" fill="#f9e8db"/>
</g></g>
<clipPath id="cp1"><rect x="116.6" y="511.30" width="428.20" height="427.70"/></clipPath>
<g clip-path="url(#cp1)"><g filter="url(#bl1)" shape-rendering="crispEdges">
<rect x="76.6" y="471.3" width="54.0" height="54.0" fill="#f7dfcc"/>
<rect x="130.0" y="471.3" width="14.0" height="54.0" fill="#f6dbc6"/>
<rect x="143.4" y="471.3" width="14.0" height="54.0" fill="#f4d6bf"/>
<rect x="156.7" y="471.3" width="14.0" height="54.0" fill="#f1cbad"/>
<rect x="170.1" y="471.3" width="14.0" height="54.0" fill="#efc09c"/>
<rect x="183.5" y="471.3" width="14.0" height="54.0" fill="#ebb285"/>
<rect x="196.9" y="471.3" width="14.0" height="54.0" fill="#e8a875"/>
<rect x="210.3" y="471.3" width="14.0" height="54.0" fill="#e59a5e"/>
<rect x="223.6" y="471.3" width="14.0" height="54.0" fill="#e28f4e"/>
<rect x="237.0" y="471.3" width="14.0" height="54.0" fill="#df853e"/>
<rect x="250.4" y="471.3" width="14.0" height="54.0" fill="#de823a"/>
<rect x="263.8" y="471.3" width="14.0" height="54.0" fill="#dc7728"/>
<rect x="277.2" y="471.3" width="14.0" height="54.0" fill="#d86b14"/>
<rect x="290.6" y="471.3" width="14.0" height="54.0" fill="#d66409"/>
<rect x="303.9" y="471.3" width="14.0" height="54.0" fill="#d7660d"/>
<rect x="317.3" y="471.3" width="14.0" height="54.0" fill="#d7660d"/>
<rect x="330.7" y="471.3" width="14.0" height="54.0" fill="#d7650a"/>
<rect x="344.1" y="471.3" width="14.0" height="54.0" fill="#d96c16"/>
<rect x="357.5" y="471.3" width="14.0" height="54.0" fill="#dc7728"/>
<rect x="370.8" y="471.3" width="14.0" height="54.0" fill="#df863f"/>
<rect x="384.2" y="471.3" width="14.0" height="54.0" fill="#e28f4d"/>
<rect x="397.6" y="471.3" width="14.0" height="54.0" fill="#e69f66"/>
<rect x="411.0" y="471.3" width="14.0" height="54.0" fill="#e9ab7b"/>
<rect x="424.4" y="471.3" width="14.0" height="54.0" fill="#eebd96"/>
<rect x="437.8" y="471.3" width="14.0" height="54.0" fill="#f0c7a7"/>
<rect x="451.1" y="471.3" width="14.0" height="54.0" fill="#f6dcc7"/>
<rect x="464.5" y="471.3" width="14.0" height="54.0" fill="#fbefe5"/>
<rect x="477.9" y="471.3" width="14.0" height="54.0" fill="#fcf5f0"/>
<rect x="491.3" y="471.3" width="14.0" height="54.0" fill="#faebe0"/>
<rect x="504.7" y="471.3" width="14.0" height="54.0" fill="#f9e7d9"/>
<rect x="518.0" y="471.3" width="14.0" height="54.0" fill="#faeade"/>
<rect x="531.4" y="471.3" width="54.0" height="54.0" fill="#faece1"/>
<rect x="76.6" y="524.7" width="54.0" height="14.0" fill="#f6dcc7"/>
<rect x="130.0" y="524.7" width="14.0" height="14.0" fill="#f5d9c3"/>
<rect x="143.4" y="524.7" width="14.0" height="14.0" fill="#f4d6be"/>
<rect x="156.7" y="524.7" width="14.0" height="14.0" fill="#f2ccaf"/>
<rect x="170.1" y="524.7" width="14.0" height="14.0" fill="#efc3a0"/>
<rect x="183.5" y="524.7" width="14.0" height="14.0" fill="#ecb68c"/>
<rect x="196.9" y="524.7" width="14.0" height="14.0" fill="#eaae7e"/>
<rect x="210.3" y="524.7" width="14.0" height="14.0" fill="#e6a069"/>
<rect x="223.6" y="524.7" width="14.0" height="14.0" fill="#e49659"/>
<rect x="237.0" y="524.7" width="14.0" height="14.0" fill="#e18c49"/>
<rect x="250.4" y="524.7" width="14.0" height="14.0" fill="#e08944"/>
<rect x="263.8" y="524.7" width="14.0" height="14.0" fill="#de7f35"/>
<rect x="277.2" y="524.7" width="14.0" height="14.0" fill="#db7524"/>
<rect x="290.6" y="524.7" width="14.0" height="14.0" fill="#d96e19"/>
<rect x="303.9" y="524.7" width="14.0" height="14.0" fill="#d96e19"/>
<rect x="317.3" y="524.7" width="14.0" height="14.0" fill="#d96d18"/>
<rect x="330.7" y="524.7" width="14.0" height="14.0" fill="#d96c16"/>
<rect x="344.1" y="524.7" width="14.0" height="14.0" fill="#da721f"/>
<rect x="357.5" y="524.7" width="14.0" height="14.0" fill="#dd7c2f"/>
<rect x="370.8" y="524.7" width="14.0" height="14.0" fill="#e08944"/>
<rect x="384.2" y="524.7" width="14.0" height="14.0" fill="#e39252"/>
<rect x="397.6" y="524.7" width="14.0" height="14.0" fill="#e7a26b"/>
<rect x="411.0" y="524.7" width="14.0" height="14.0" fill="#eaae7f"/>
<rect x="424.4" y="524.7" width="14.0" height="14.0" fill="#eebf9a"/>
<rect x="437.8" y="524.7" width="14.0" height="14.0" fill="#f1caab"/>
<rect x="451.1" y="524.7" width="14.0" height="14.0" fill="#f6dcc8"/>
<rect x="464.5" y="524.7" width="14.0" height="14.0" fill="#faebdf"/>
<rect x="477.9" y="524.7" width="14.0" height="14.0" fill="#fbf1e9"/>
<rect x="491.3" y="524.7" width="14.0" height="14.0" fill="#faebdf"/>
<rect x="504.7" y="524.7" width="14.0" height="14.0" fill="#f9e9dc"/>
<rect x="518.0" y="524.7" width="14.0" height="14.0" fill="#faece2"/>
<rect x="531.4" y="524.7" width="54.0" height="14.0" fill="#fbefe5"/>
<rect x="76.6" y="538.0" width="54.0" height="14.0" fill="#f5d7bf"/>
<rect x="130.0" y="538.0" width="14.0" height="14.0" fill="#f4d6be"/>
<rect x="143.4" y="538.0" width="14.0" height="14.0" fill="#f4d5bc"/>
<rect x="156.7" y="538.0" width="14.0" height="14.0" fill="#f2cfb3"/>
<rect x="170.1" y="538.0" width="14.0" height="14.0" fill="#f1c8a8"/>
<rect x="183.5" y="538.0" width="14.0" height="14.0" fill="#eebe98"/>
<rect x="196.9" y="538.0" width="14.0" height="14.0" fill="#ecb78c"/>
<rect x="210.3" y="538.0" width="14.0" height="14.0" fill="#e9aa79"/>
<rect x="223.6" y="538.0" width="14.0" height="14.0" fill="#e6a16a"/>
<rect x="237.0" y="538.0" width="14.0" height="14.0" fill="#e4975a"/>
<rect x="250.4" y="538.0" width="14.0" height="14.0" fill="#e39354"/>
<rect x="263.8" y="538.0" width="14.0" height="14.0" fill="#e18c48"/>
<rect x="277.2" y="538.0" width="14.0" height="14.0" fill="#df853f"/>
<rect x="290.6" y="538.0" width="14.0" height="14.0" fill="#dd7e33"/>
<rect x="303.9" y="538.0" width="14.0" height="14.0" fill="#dc7a2d"/>
<rect x="317.3" y="538.0" width="14.0" height="14.0" fill="#dc7728"/>
<rect x="330.7" y="538.0" width="14.0" height="14.0" fill="#dc7727"/>
<rect x="344.1" y="538.0" width="14.0" height="14.0" fill="#dd7c2f"/>
<rect x="357.5" y="538.0" width="14.0" height="14.0" fill="#de823a"/>
<rect x="370.8" y="538.0" width="14.0" height="14.0" fill="#e18e4c"/>
<rect x="384.2" y="538.0" width="14.0" height="14.0" fill="#e4975a"/>
<rect x="397.6" y="538.0" width="14.0" height="14.0" fill="#e8a673"/>
<rect x="411.0" y="538.0" width="14.0" height="14.0" fill="#ebb386"/>
<rect x="424.4" y="538.0" width="14.0" height="14.0" fill="#efc3a0"/>
<rect x="437.8" y="538.0" width="14.0" height="14.0" fill="#f2ceb2"/>
<rect x="451.1" y="538.0" width="14.0" height="14.0" fill="#f6dcc8"/>
<rect x="464.5" y="538.0" width="14.0" height="14.0" fill="#f8e5d5"/>
<rect x="477.9" y="538.0" width="14.0" height="14.0" fill="#faeade"/>
<rect x="491.3" y="538.0" width="14.0" height="14.0" fill="#f9e9dc"/>
<rect x="504.7" y="538.0" width="14.0" height="14.0" fill="#faece0"/>
<rect x="518.0" y="538.0" width="14.0" height="14.0" fill="#fbf0e7"/>
<rect x="531.4" y="538.0" width="54.0" height="14.0" fill="#fcf3ec"/>
<rect x="76.6" y="551.4" width="54.0" height="14.0" fill="#f5d7c0"/>
<rect x="130.0" y="551.4" width="14.0" height="14.0" fill="#f4d5bc"/>
<rect x="143.4" y="551.4" width="14.0" height="14.0" fill="#f3d1b6"/>
<rect x="156.7" y="551.4" width="14.0" height="14.0" fill="#f2ccaf"/>
<rect x="170.1" y="551.4" width="14.0" height="14.0" fill="#f1caab"/>
<rect x="183.5" y="551.4" width="14.0" height="14.0" fill="#efc3a0"/>
<rect x="196.9" y="551.4" width="14.0" height="14.0" fill="#eebd96"/>
<rect x="210.3" y="551.4" width="14.0" height="14.0" fill="#ebb488"/>
<rect x="223.6" y="551.4" width="14.0" height="14.0" fill="#eaaf80"/>
<rect x="237.0" y="551.4" width="14.0" height="14.0" fill="#e8a773"/>
<rect x="250.4" y="551.4" width="14.0" height="14.0" fill="#e7a26c"/>
<rect x="263.8" y="551.4" width="14.0" height="14.0" fill="#e59c62"/>
<rect x="277.2" y="551.4" width="14.0" height="14.0" fill="#e4985b"/>
<rect x="290.6" y="551.4" width="14.0" height="14.0" fill="#e29050"/>
<rect x="303.9" y="551.4" width="14.0" height="14.0" fill="#e18a46"/>
<rect x="317.3" y="551.4" width="14.0" height="14.0" fill="#df863f"/>
<rect x="330.7" y="551.4" width="14.0" height="14.0" fill="#df8640"/>
<rect x="344.1" y="551.4" width="14.0" height="14.0" fill="#e08843"/>
<rect x="357.5" y="551.4" width="14.0" height="14.0" fill="#e18a46"/>
<rect x="370.8" y="551.4" width="14.0" height="14.0" fill="#e39456"/>
<rect x="384.2" y="551.4" width="14.0" height="14.0" fill="#e69f68"/>
<rect x="397.6" y="551.4" width="14.0" height="14.0" fill="#eaaf81"/>
<rect x="411.0" y="551.4" width="14.0" height="14.0" fill="#edba92"/>
<rect x="424.4" y="551.4" width="14.0" height="14.0" fill="#f1caab"/>
<rect x="437.8" y="551.4" width="14.0" height="14.0" fill="#f4d5bc"/>
<rect x="451.1" y="551.4" width="14.0" height="14.0" fill="#f7e1d0"/>
<rect x="464.5" y="551.4" width="14.0" height="14.0" fill="#f9e8da"/>
<rect x="477.9" y="551.4" width="14.0" height="14.0" fill="#fbf0e7"/>
<rect x="491.3" y="551.4" width="14.0" height="14.0" fill="#fcf4ee"/>
<rect x="504.7" y="551.4" width="14.0" height="14.0" fill="#fefbf9"/>
<rect x="518.0" y="551.4" width="14.0" height="14.0" fill="#feffff"/>
<rect x="531.4" y="551.4" width="54.0" height="14.0" fill="#fafcfd"/>
<rect x="76.6" y="564.8" width="54.0" height="14.0" fill="#f6ddc9"/>
<rect x="130.0" y="564.8" width="14.0" height="14.0" fill="#f4d7bf"/>
<rect x="143.4" y="564.8" width="14.0" height="14.0" fill="#f2cdaf"/>
<rect x="156.7" y="564.8" width="14.0" height="14.0" fill="#f0c6a5"/>
<rect x="170.1" y="564.8" width="14.0" height="14.0" fill="#f0c7a6"/>
<rect x="183.5" y="564.8" width="14.0" height="14.0" fill="#efc3a0"/>
<rect x="196.9" y="564.8" width="14.0" height="14.0" fill="#eebd96"/>
<rect x="210.3" y="564.8" width="14.0" height="14.0" fill="#ecb88e"/>
<rect x="223.6" y="564.8" width="14.0" height="14.0" fill="#ecb78e"/>
<rect x="237.0" y="564.8" width="14.0" height="14.0" fill="#ebb386"/>
<rect x="250.4" y="564.8" width="14.0" height="14.0" fill="#eaad7d"/>
<rect x="263.8" y="564.8" width="14.0" height="14.0" fill="#e8a571"/>
<rect x="277.2" y="564.8" width="14.0" height="14.0" fill="#e7a16a"/>
<rect x="290.6" y="564.8" width="14.0" height="14.0" fill="#e59a5f"/>
<rect x="303.9" y="564.8" width="14.0" height="14.0" fill="#e39456"/>
<rect x="317.3" y="564.8" width="14.0" height="14.0" fill="#e29050"/>
<rect x="330.7" y="564.8" width="14.0" height="14.0" fill="#e29050"/>
<rect x="344.1" y="564.8" width="14.0" height="14.0" fill="#e2904f"/>
<rect x="357.5" y="564.8" width="14.0" height="14.0" fill="#e28e4c"/>
<rect x="370.8" y="564.8" width="14.0" height="14.0" fill="#e4985b"/>
<rect x="384.2" y="564.8" width="14.0" height="14.0" fill="#e8a672"/>
<rect x="397.6" y="564.8" width="14.0" height="14.0" fill="#ecb78d"/>
<rect x="411.0" y="564.8" width="14.0" height="14.0" fill="#efc19d"/>
<rect x="424.4" y="564.8" width="14.0" height="14.0" fill="#f3d0b4"/>
<rect x="437.8" y="564.8" width="14.0" height="14.0" fill="#f5dac4"/>
<rect x="451.1" y="564.8" width="14.0" height="14.0" fill="#f9e9dc"/>
<rect x="464.5" y="564.8" width="14.0" height="14.0" fill="#fcf2eb"/>
<rect x="477.9" y="564.8" width="14.0" height="14.0" fill="#ffffff"/>
<rect x="491.3" y="564.8" width="14.0" height="14.0" fill="#f4f9fc"/>
<rect x="504.7" y="564.8" width="14.0" height="14.0" fill="#e7f2f8"/>
<rect x="518.0" y="564.8" width="14.0" height="14.0" fill="#e1eef6"/>
<rect x="531.4" y="564.8" width="54.0" height="14.0" fill="#ddecf5"/>
<rect x="76.6" y="578.1" width="54.0" height="14.0" fill="#f7dfcd"/>
<rect x="130.0" y="578.1" width="14.0" height="14.0" fill="#f5d7c0"/>
<rect x="143.4" y="578.1" width="14.0" height="14.0" fill="#f1c9aa"/>
<rect x="156.7" y="578.1" width="14.0" height="14.0" fill="#efc29e"/>
<rect x="170.1" y="578.1" width="14.0" height="14.0" fill="#f0c5a4"/>
<rect x="183.5" y="578.1" width="14.0" height="14.0" fill="#efc3a0"/>
<rect x="196.9" y="578.1" width="14.0" height="14.0" fill="#eebc96"/>
<rect x="210.3" y="578.1" width="14.0" height="14.0" fill="#edba91"/>
<rect x="223.6" y="578.1" width="14.0" height="14.0" fill="#eebc96"/>
<rect x="237.0" y="578.1" width="14.0" height="14.0" fill="#edbb93"/>
<rect x="250.4" y="578.1" width="14.0" height="14.0" fill="#ecb78d"/>
<rect x="263.8" y="578.1" width="14.0" height="14.0" fill="#eab082"/>
<rect x="277.2" y="578.1" width="14.0" height="14.0" fill="#e9ab7a"/>
<rect x="290.6" y="578.1" width="14.0" height="14.0" fill="#e7a36e"/>
<rect x="303.9" y="578.1" width="14.0" height="14.0" fill="#e69d64"/>
<rect x="317.3" y="578.1" width="14.0" height="14.0" fill="#e59b60"/>
<rect x="330.7" y="578.1" width="14.0" height="14.0" fill="#e59d63"/>
<rect x="344.1" y="578.1" width="14.0" height="14.0" fill="#e69e65"/>
<rect x="357.5" y="578.1" width="14.0" height="14.0" fill="#e59c62"/>
<rect x="370.8" y="578.1" width="14.0" height="14.0" fill="#e8a571"/>
<rect x="384.2" y="578.1" width="14.0" height="14.0" fill="#ebb386"/>
<rect x="397.6" y="578.1" width="14.0" height="14.0" fill="#efc29e"/>
<rect x="411.0" y="578.1" width="14.0" height="14.0" fill="#f1c9aa"/>
<rect x="424.4" y="578.1" width="14.0" height="14.0" fill="#f4d4bb"/>
<rect x="437.8" y="578.1" width="14.0" height="14.0" fill="#f6dbc6"/>
<rect x="451.1" y="578.1" width="14.0" height="14.0" fill="#faebdf"/>
<rect x="464.5" y="578.1" width="14.0" height="14.0" fill="#fefbf8"/>
<rect x="477.9" y="578.1" width="14.0" height="14.0" fill="#ebf4f9"/>
<rect x="491.3" y="578.1" width="14.0" height="14.0" fill="#ddecf5"/>
<rect x="504.7" y="578.1" width="14.0" height="14.0" fill="#d1e5f1"/>
<rect x="518.0" y="578.1" width="14.0" height="14.0" fill="#cfe4f0"/>
<rect x="531.4" y="578.1" width="54.0" height="14.0" fill="#cde4f0"/>
<rect x="76.6" y="591.5" width="54.0" height="14.0" fill="#f6decb"/>
<rect x="130.0" y="591.5" width="14.0" height="14.0" fill="#f4d6be"/>
<rect x="143.4" y="591.5" width="14.0" height="14.0" fill="#f1c9aa"/>
<rect x="156.7" y="591.5" width="14.0" height="14.0" fill="#efc29f"/>
<rect x="170.1" y="591.5" width="14.0" height="14.0" fill="#f0c6a4"/>
<rect x="183.5" y="591.5" width="14.0" height="14.0" fill="#efc3a0"/>
<rect x="196.9" y="591.5" width="14.0" height="14.0" fill="#edbc94"/>
<rect x="210.3" y="591.5" width="14.0" height="14.0" fill="#edb88f"/>
<rect x="223.6" y="591.5" width="14.0" height="14.0" fill="#edba92"/>
<rect x="237.0" y="591.5" width="14.0" height="14.0" fill="#edbb93"/>
<rect x="250.4" y="591.5" width="14.0" height="14.0" fill="#edba92"/>
<rect x="263.8" y="591.5" width="14.0" height="14.0" fill="#ecb68b"/>
<rect x="277.2" y="591.5" width="14.0" height="14.0" fill="#eab081"/>
<rect x="290.6" y="591.5" width="14.0" height="14.0" fill="#e8a773"/>
<rect x="303.9" y="591.5" width="14.0" height="14.0" fill="#e69f67"/>
<rect x="317.3" y="591.5" width="14.0" height="14.0" fill="#e69e65"/>
<rect x="330.7" y="591.5" width="14.0" height="14.0" fill="#e7a36d"/>
<rect x="344.1" y="591.5" width="14.0" height="14.0" fill="#e8a976"/>
<rect x="357.5" y="591.5" width="14.0" height="14.0" fill="#e9ab7a"/>
<rect x="370.8" y="591.5" width="14.0" height="14.0" fill="#ebb488"/>
<rect x="384.2" y="591.5" width="14.0" height="14.0" fill="#eebe98"/>
<rect x="397.6" y="591.5" width="14.0" height="14.0" fill="#f1c9a9"/>
<rect x="411.0" y="591.5" width="14.0" height="14.0" fill="#f2ceb1"/>
<rect x="424.4" y="591.5" width="14.0" height="14.0" fill="#f4d3ba"/>
<rect x="437.8" y="591.5" width="14.0" height="14.0" fill="#f4d6be"/>
<rect x="451.1" y="591.5" width="14.0" height="14.0" fill="#f9e6d8"/>
<rect x="464.5" y="591.5" width="14.0" height="14.0" fill="#fefcfa"/>
<rect x="477.9" y="591.5" width="14.0" height="14.0" fill="#e3f0f7"/>
<rect x="491.3" y="591.5" width="14.0" height="14.0" fill="#d6e8f3"/>
<rect x="504.7" y="591.5" width="14.0" height="14.0" fill="#cfe4f0"/>
<rect x="518.0" y="591.5" width="14.0" height="14.0" fill="#d2e6f1"/>
<rect x="531.4" y="591.5" width="54.0" height="14.0" fill="#d4e7f2"/>
<rect x="76.6" y="604.9" width="54.0" height="14.0" fill="#f7e2d1"/>
<rect x="130.0" y="604.9" width="14.0" height="14.0" fill="#f5dac5"/>
<rect x="143.4" y="604.9" width="14.0" height="14.0" fill="#f2ceb1"/>
<rect x="156.7" y="604.9" width="14.0" height="14.0" fill="#f0c6a4"/>
<rect x="170.1" y="604.9" width="14.0" height="14.0" fill="#f0c6a5"/>
<rect x="183.5" y="604.9" width="14.0" height="14.0" fill="#efc3a0"/>
<rect x="196.9" y="604.9" width="14.0" height="14.0" fill="#eebe99"/>
<rect x="210.3" y="604.9" width="14.0" height="14.0" fill="#edba92"/>
<rect x="223.6" y="604.9" width="14.0" height="14.0" fill="#edb990"/>
<rect x="237.0" y="604.9" width="14.0" height="14.0" fill="#edb990"/>
<rect x="250.4" y="604.9" width="14.0" height="14.0" fill="#edbb93"/>
<rect x="263.8" y="604.9" width="14.0" height="14.0" fill="#edb88f"/>
<rect x="277.2" y="604.9" width="14.0" height="14.0" fill="#ebb487"/>
<rect x="290.6" y="604.9" width="14.0" height="14.0" fill="#eaae7e"/>
<rect x="303.9" y="604.9" width="14.0" height="14.0" fill="#e9aa79"/>
<rect x="317.3" y="604.9" width="14.0" height="14.0" fill="#e9ac7c"/>
<rect x="330.7" y="604.9" width="14.0" height="14.0" fill="#ebb386"/>
<rect x="344.1" y="604.9" width="14.0" height="14.0" fill="#edbb94"/>
<rect x="357.5" y="604.9" width="14.0" height="14.0" fill="#efc09c"/>
<rect x="370.8" y="604.9" width="14.0" height="14.0" fill="#f1caab"/>
<rect x="384.2" y="604.9" width="14.0" height="14.0" fill="#f3d2b8"/>
<rect x="397.6" y="604.9" width="14.0" height="14.0" fill="#f6decb"/>
<rect x="411.0" y="604.9" width="14.0" height="14.0" fill="#f8e6d7"/>
<rect x="424.4" y="604.9" width="14.0" height="14.0" fill="#faece0"/>
<rect x="437.8" y="604.9" width="14.0" height="14.0" fill="#faebe0"/>
<rect x="451.1" y="604.9" width="14.0" height="14.0" fill="#fcf2eb"/>
<rect x="464.5" y="604.9" width="14.0" height="14.0" fill="#fefdfc"/>
<rect x="477.9" y="604.9" width="14.0" height="14.0" fill="#f1f7fb"/>
<rect x="491.3" y="604.9" width="14.0" height="14.0" fill="#e8f2f8"/>
<rect x="504.7" y="604.9" width="14.0" height="14.0" fill="#dfedf5"/>
<rect x="518.0" y="604.9" width="14.0" height="14.0" fill="#dbebf4"/>
<rect x="531.4" y="604.9" width="54.0" height="14.0" fill="#d9eaf3"/>
<rect x="76.6" y="618.2" width="54.0" height="14.0" fill="#f9e9dc"/>
<rect x="130.0" y="618.2" width="14.0" height="14.0" fill="#f7e2d0"/>
<rect x="143.4" y="618.2" width="14.0" height="14.0" fill="#f4d6be"/>
<rect x="156.7" y="618.2" width="14.0" height="14.0" fill="#f1caac"/>
<rect x="170.1" y="618.2" width="14.0" height="14.0" fill="#f0c6a5"/>
<rect x="183.5" y="618.2" width="14.0" height="14.0" fill="#efc39f"/>
<rect x="196.9" y="618.2" width="14.0" height="14.0" fill="#efc3a0"/>
<rect x="210.3" y="618.2" width="14.0" height="14.0" fill="#eebf99"/>
<rect x="223.6" y="618.2" width="14.0" height="14.0" fill="#edb990"/>
<rect x="237.0" y="618.2" width="14.0" height="14.0" fill="#ecb58a"/>
<rect x="250.4" y="618.2" width="14.0" height="14.0" fill="#ecb78c"/>
<rect x="263.8" y="618.2" width="14.0" height="14.0" fill="#ecb68b"/>
<rect x="277.2" y="618.2" width="14.0" height="14.0" fill="#ebb387"/>
<rect x="290.6" y="618.2" width="14.0" height="14.0" fill="#ebb487"/>
<rect x="303.9" y="618.2" width="14.0" height="14.0" fill="#ecb68c"/>
<rect x="317.3" y="618.2" width="14.0" height="14.0" fill="#eebc95"/>
<rect x="330.7" y="618.2" width="14.0" height="14.0" fill="#efc29f"/>
<rect x="344.1" y="618.2" width="14.0" height="14.0" fill="#f1caab"/>
<rect x="357.5" y="618.2" width="14.0" height="14.0" fill="#f3cfb4"/>
<rect x="370.8" y="618.2" width="14.0" height="14.0" fill="#f6dbc5"/>
<rect x="384.2" y="618.2" width="14.0" height="14.0" fill="#f8e5d5"/>
<rect x="397.6" y="618.2" width="14.0" height="14.0" fill="#fdf6f0"/>
<rect x="411.0" y="618.2" width="14.0" height="14.0" fill="#f7fafd"/>
<rect x="424.4" y="618.2" width="14.0" height="14.0" fill="#e6f1f7"/>
<rect x="437.8" y="618.2" width="14.0" height="14.0" fill="#e5f1f7"/>
<rect x="451.1" y="618.2" width="14.0" height="14.0" fill="#f0f7fb"/>
<rect x="464.5" y="618.2" width="14.0" height="14.0" fill="#fffdfc"/>
<rect x="477.9" y="618.2" width="14.0" height="14.0" fill="#fdf7f3"/>
<rect x="491.3" y="618.2" width="14.0" height="14.0" fill="#fdf9f6"/>
<rect x="504.7" y="618.2" width="14.0" height="14.0" fill="#f9fcfd"/>
<rect x="518.0" y="618.2" width="14.0" height="14.0" fill="#e5f1f7"/>
<rect x="531.4" y="618.2" width="54.0" height="14.0" fill="#d9eaf4"/>
<rect x="76.6" y="631.6" width="54.0" height="14.0" fill="#f9e9dd"/>
<rect x="130.0" y="631.6" width="14.0" height="14.0" fill="#f7e2d1"/>
<rect x="143.4" y="631.6" width="14.0" height="14.0" fill="#f4d5bd"/>
<rect x="156.7" y="631.6" width="14.0" height="14.0" fill="#f1cbac"/>
<rect x="170.1" y="631.6" width="14.0" height="14.0" fill="#f1c8a9"/>
<rect x="183.5" y="631.6" width="14.0" height="14.0" fill="#f1c8a7"/>
<rect x="196.9" y="631.6" width="14.0" height="14.0" fill="#f1c9aa"/>
<rect x="210.3" y="631.6" width="14.0" height="14.0" fill="#f0c7a7"/>
<rect x="223.6" y="631.6" width="14.0" height="14.0" fill="#efc3a0"/>
<rect x="237.0" y="631.6" width="14.0" height="14.0" fill="#efc09b"/>
<rect x="250.4" y="631.6" width="14.0" height="14.0" fill="#efc09b"/>
<rect x="263.8" y="631.6" width="14.0" height="14.0" fill="#efc19d"/>
<rect x="277.2" y="631.6" width="14.0" height="14.0" fill="#efc29f"/>
<rect x="290.6" y="631.6" width="14.0" height="14.0" fill="#f1c8a7"/>
<rect x="303.9" y="631.6" width="14.0" height="14.0" fill="#f2ceb1"/>
<rect x="317.3" y="631.6" width="14.0" height="14.0" fill="#f4d5bd"/>
<rect x="330.7" y="631.6" width="14.0" height="14.0" fill="#f5d9c2"/>
<rect x="344.1" y="631.6" width="14.0" height="14.0" fill="#f6dcc8"/>
<rect x="357.5" y="631.6" width="14.0" height="14.0" fill="#f6deca"/>
<rect x="370.8" y="631.6" width="14.0" height="14.0" fill="#f8e4d4"/>
<rect x="384.2" y="631.6" width="14.0" height="14.0" fill="#faebdf"/>
<rect x="397.6" y="631.6" width="14.0" height="14.0" fill="#fefeff"/>
<rect x="411.0" y="631.6" width="14.0" height="14.0" fill="#daebf4"/>
<rect x="424.4" y="631.6" width="14.0" height="14.0" fill="#c4deed"/>
<rect x="437.8" y="631.6" width="14.0" height="14.0" fill="#c6e0ee"/>
<rect x="451.1" y="631.6" width="14.0" height="14.0" fill="#e2eff6"/>
<rect x="464.5" y="631.6" width="14.0" height="14.0" fill="#fef9f6"/>
<rect x="477.9" y="631.6" width="14.0" height="14.0" fill="#f9e8db"/>
<rect x="491.3" y="631.6" width="14.0" height="14.0" fill="#f9e8da"/>
<rect x="504.7" y="631.6" width="14.0" height="14.0" fill="#fcf5ee"/>
<rect x="518.0" y="631.6" width="14.0" height="14.0" fill="#f0f7fb"/>
<rect x="531.4" y="631.6" width="54.0" height="14.0" fill="#ddecf5"/>
<rect x="76.6" y="645.0" width="54.0" height="14.0" fill="#f8e3d3"/>
<rect x="130.0" y="645.0" width="14.0" height="14.0" fill="#f5dac5"/>
<rect x="143.4" y="645.0" width="14.0" height="14.0" fill="#f2ccae"/>
<rect x="156.7" y="645.0" width="14.0" height="14.0" fill="#f0c6a4"/>
<rect x="170.1" y="645.0" width="14.0" height="14.0" fill="#f1cbad"/>
<rect x="183.5" y="645.0" width="14.0" height="14.0" fill="#f2ceb2"/>
<rect x="196.9" y="645.0" width="14.0" height="14.0" fill="#f2ceb1"/>
<rect x="210.3" y="645.0" width="14.0" height="14.0" fill="#f2cfb3"/>
<rect x="223.6" y="645.0" width="14.0" height="14.0" fill="#f3d1b6"/>
<rect x="237.0" y="645.0" width="14.0" height="14.0" fill="#f3d2b7"/>
<rect x="250.4" y="645.0" width="14.0" height="14.0" fill="#f3d0b5"/>
<rect x="263.8" y="645.0" width="14.0" height="14.0" fill="#f3d3b9"/>
<rect x="277.2" y="645.0" width="14.0" height="14.0" fill="#f5d7c0"/>
<rect x="290.6" y="645.0" width="14.0" height="14.0" fill="#f6deca"/>
<rect x="303.9" y="645.0" width="14.0" height="14.0" fill="#f8e3d2"/>
<rect x="317.3" y="645.0" width="14.0" height="14.0" fill="#f9e7d9"/>
<rect x="330.7" y="645.0" width="14.0" height="14.0" fill="#f9e8db"/>
<rect x="344.1" y="645.0" width="14.0" height="14.0" fill="#f8e6d7"/>
<rect x="357.5" y="645.0" width="14.0" height="14.0" fill="#f7e1d0"/>
<rect x="370.8" y="645.0" width="14.0" height="14.0" fill="#f7dfcd"/>
<rect x="384.2" y="645.0" width="14.0" height="14.0" fill="#f7e1cf"/>
<rect x="397.6" y="645.0" width="14.0" height="14.0" fill="#fcf5ef"/>
<rect x="411.0" y="645.0" width="14.0" height="14.0" fill="#e2eff6"/>
<rect x="424.4" y="645.0" width="14.0" height="14.0" fill="#c9e1ef"/>
<rect x="437.8" y="645.0" width="14.0" height="14.0" fill="#d2e6f1"/>
<rect x="451.1" y="645.0" width="14.0" height="14.0" fill="#eff6fa"/>
<rect x="464.5" y="645.0" width="14.0" height="14.0" fill="#fcf3ec"/>
<rect x="477.9" y="645.0" width="14.0" height="14.0" fill="#f8e4d4"/>
<rect x="491.3" y="645.0" width="14.0" height="14.0" fill="#f8e3d3"/>
<rect x="504.7" y="645.0" width="14.0" height="14.0" fill="#fbf0e8"/>
<rect x="518.0" y="645.0" width="14.0" height="14.0" fill="#f6fafc"/>
<rect x="531.4" y="645.0" width="54.0" height="14.0" fill="#e3eff6"/>
<rect x="76.6" y="658.3" width="54.0" height="14.0" fill="#f7e1cf"/>
<rect x="130.0" y="658.3" width="14.0" height="14.0" fill="#f6dbc6"/>
<rect x="143.4" y="658.3" width="14.0" height="14.0" fill="#f3d1b6"/>
<rect x="156.7" y="658.3" width="14.0" height="14.0" fill="#f3cfb3"/>
<rect x="170.1" y="658.3" width="14.0" height="14.0" fill="#f4d7bf"/>
<rect x="183.5" y="658.3" width="14.0" height="14.0" fill="#f6dbc5"/>
<rect x="196.9" y="658.3" width="14.0" height="14.0" fill="#f5d9c3"/>
<rect x="210.3" y="658.3" width="14.0" height="14.0" fill="#f6ddc9"/>
<rect x="223.6" y="658.3" width="14.0" height="14.0" fill="#f8e3d3"/>
<rect x="237.0" y="658.3" width="14.0" height="14.0" fill="#f9e7d9"/>
<rect x="250.4" y="658.3" width="14.0" height="14.0" fill="#f9e6d8"/>
<rect x="263.8" y="658.3" width="14.0" height="14.0" fill="#f9eadd"/>
<rect x="277.2" y="658.3" width="14.0" height="14.0" fill="#fbefe6"/>
<rect x="290.6" y="658.3" width="14.0" height="14.0" fill="#fdf8f4"/>
<rect x="303.9" y="658.3" width="14.0" height="14.0" fill="#fefeff"/>
<rect x="317.3" y="658.3" width="14.0" height="14.0" fill="#f6fafc"/>
<rect x="330.7" y="658.3" width="14.0" height="14.0" fill="#f7fbfd"/>
<rect x="344.1" y="658.3" width="14.0" height="14.0" fill="#fefeff"/>
<rect x="357.5" y="658.3" width="14.0" height="14.0" fill="#fefbf8"/>
<rect x="370.8" y="658.3" width="14.0" height="14.0" fill="#fcf3ec"/>
<rect x="384.2" y="658.3" width="14.0" height="14.0" fill="#faece1"/>
<rect x="397.6" y="658.3" width="14.0" height="14.0" fill="#fdf6f1"/>
<rect x="411.0" y="658.3" width="14.0" height="14.0" fill="#e9f3f8"/>
<rect x="424.4" y="658.3" width="14.0" height="14.0" fill="#ddecf5"/>
<rect x="437.8" y="658.3" width="14.0" height="14.0" fill="#eef6fa"/>
<rect x="451.1" y="658.3" width="14.0" height="14.0" fill="#fdf9f6"/>
<rect x="464.5" y="658.3" width="14.0" height="14.0" fill="#faece0"/>
<rect x="477.9" y="658.3" width="14.0" height="14.0" fill="#f8e3d3"/>
<rect x="491.3" y="658.3" width="14.0" height="14.0" fill="#f8e4d5"/>
<rect x="504.7" y="658.3" width="14.0" height="14.0" fill="#fbf1e8"/>
<rect x="518.0" y="658.3" width="14.0" height="14.0" fill="#fafcfe"/>
<rect x="531.4" y="658.3" width="54.0" height="14.0" fill="#eaf3f9"/>
<rect x="76.6" y="671.7" width="54.0" height="14.0" fill="#f8e3d3"/>
<rect x="130.0" y="671.7" width="14.0" height="14.0" fill="#f8e2d2"/>
<rect x="143.4" y="671.7" width="14.0" height="14.0" fill="#f7e2d0"/>
<rect x="156.7" y="671.7" width="14.0" height="14.0" fill="#f8e2d2"/>
<rect x="170.1" y="671.7" width="14.0" height="14.0" fill="#f8e4d5"/>
<rect x="183.5" y="671.7" width="14.0" height="14.0" fill="#f8e5d6"/>
<rect x="196.9" y="671.7" width="14.0" height="14.0" fill="#f8e4d5"/>
<rect x="210.3" y="671.7" width="14.0" height="14.0" fill="#f9e8db"/>
<rect x="223.6" y="671.7" width="14.0" height="14.0" fill="#fbefe6"/>
<rect x="237.0" y="671.7" width="14.0" height="14.0" fill="#fcf4ee"/>
<rect x="250.4" y="671.7" width="14.0" height="14.0" fill="#fcf5ef"/>
<rect x="263.8" y="671.7" width="14.0" height="14.0" fill="#fdf8f5"/>
<rect x="277.2" y="671.7" width="14.0" height="14.0" fill="#fefcfa"/>
<rect x="290.6" y="671.7" width="14.0" height="14.0" fill="#f3f8fb"/>
<rect x="303.9" y="671.7" width="14.0" height="14.0" fill="#dfedf5"/>
<rect x="317.3" y="671.7" width="14.0" height="14.0" fill="#d2e6f1"/>
<rect x="330.7" y="671.7" width="14.0" height="14.0" fill="#d3e7f2"/>
<rect x="344.1" y="671.7" width="14.0" height="14.0" fill="#d4e7f2"/>
<rect x="357.5" y="671.7" width="14.0" height="14.0" fill="#d3e7f2"/>
<rect x="370.8" y="671.7" width="14.0" height="14.0" fill="#e0eef6"/>
<rect x="384.2" y="671.7" width="14.0" height="14.0" fill="#f5f9fc"/>
<rect x="397.6" y="671.7" width="14.0" height="14.0" fill="#fbfdfe"/>
<rect x="411.0" y="671.7" width="14.0" height="14.0" fill="#eef6fa"/>
<rect x="424.4" y="671.7" width="14.0" height="14.0" fill="#f6fafc"/>
<rect x="437.8" y="671.7" width="14.0" height="14.0" fill="#fcf5ef"/>
<rect x="451.1" y="671.7" width="14.0" height="14.0" fill="#f9e9dc"/>
<rect x="464.5" y="671.7" width="14.0" height="14.0" fill="#f9e6d8"/>
<rect x="477.9" y="671.7" width="14.0" height="14.0" fill="#f9e7da"/>
<rect x="491.3" y="671.7" width="14.0" height="14.0" fill="#faebe0"/>
<rect x="504.7" y="671.7" width="14.0" height="14.0" fill="#fdf6f1"/>
<rect x="518.0" y="671.7" width="14.0" height="14.0" fill="#fafcfe"/>
<rect x="531.4" y="671.7" width="54.0" height="14.0" fill="#eff6fa"/>
<rect x="76.6" y="685.1" width="54.0" height="14.0" fill="#f9e7d9"/>
<rect x="130.0" y="685.1" width="14.0" height="14.0" fill="#f9eadd"/>
<rect x="143.4" y="685.1" width="14.0" height="14.0" fill="#faede3"/>
<rect x="156.7" y="685.1" width="14.0" height="14.0" fill="#fbefe6"/>
<rect x="170.1" y="685.1" width="14.0" height="14.0" fill="#fbeee4"/>
<rect x="183.5" y="685.1" width="14.0" height="14.0" fill="#faece2"/>
<rect x="196.9" y="685.1" width="14.0" height="14.0" fill="#faebdf"/>
<rect x="210.3" y="685.1" width="14.0" height="14.0" fill="#fbefe6"/>
<rect x="223.6" y="685.1" width="14.0" height="14.0" fill="#fdf7f3"/>
<rect x="237.0" y="685.1" width="14.0" height="14.0" fill="#ffffff"/>
<rect x="250.4" y="685.1" width="14.0" height="14.0" fill="#fbfdfe"/>
<rect x="263.8" y="685.1" width="14.0" height="14.0" fill="#eff6fa"/>
<rect x="277.2" y="685.1" width="14.0" height="14.0" fill="#e3f0f7"/>
<rect x="290.6" y="685.1" width="14.0" height="14.0" fill="#cce3f0"/>
<rect x="303.9" y="685.1" width="14.0" height="14.0" fill="#b7d7e9"/>
<rect x="317.3" y="685.1" width="14.0" height="14.0" fill="#acd1e6"/>
<rect x="330.7" y="685.1" width="14.0" height="14.0" fill="#b3d5e8"/>
<rect x="344.1" y="685.1" width="14.0" height="14.0" fill="#b6d6e9"/>
<rect x="357.5" y="685.1" width="14.0" height="14.0" fill="#b4d5e8"/>
<rect x="370.8" y="685.1" width="14.0" height="14.0" fill="#c1ddec"/>
<rect x="384.2" y="685.1" width="14.0" height="14.0" fill="#d6e8f3"/>
<rect x="397.6" y="685.1" width="14.0" height="14.0" fill="#e8f2f8"/>
<rect x="411.0" y="685.1" width="14.0" height="14.0" fill="#ecf5f9"/>
<rect x="424.4" y="685.1" width="14.0" height="14.0" fill="#fffefd"/>
<rect x="437.8" y="685.1" width="14.0" height="14.0" fill="#fbeee4"/>
<rect x="451.1" y="685.1" width="14.0" height="14.0" fill="#f8e5d6"/>
<rect x="464.5" y="685.1" width="14.0" height="14.0" fill="#f9e7d9"/>
<rect x="477.9" y="685.1" width="14.0" height="14.0" fill="#faece1"/>
<rect x="491.3" y="685.1" width="14.0" height="14.0" fill="#fcf2ea"/>
<rect x="504.7" y="685.1" width="14.0" height="14.0" fill="#fefbf8"/>
<rect x="518.0" y="685.1" width="14.0" height="14.0" fill="#fafcfd"/>
<rect x="531.4" y="685.1" width="54.0" height="14.0" fill="#f2f8fb"/>
<rect x="76.6" y="698.4" width="54.0" height="14.0" fill="#faebdf"/>
<rect x="130.0" y="698.4" width="14.0" height="14.0" fill="#faece1"/>
<rect x="143.4" y="698.4" width="14.0" height="14.0" fill="#fbeee4"/>
<rect x="156.7" y="698.4" width="14.0" height="14.0" fill="#fbefe5"/>
<rect x="170.1" y="698.4" width="14.0" height="14.0" fill="#fbefe5"/>
<rect x="183.5" y="698.4" width="14.0" height="14.0" fill="#faece1"/>
<rect x="196.9" y="698.4" width="14.0" height="14.0" fill="#f9e8da"/>
<rect x="210.3" y="698.4" width="14.0" height="14.0" fill="#faede2"/>
<rect x="223.6" y="698.4" width="14.0" height="14.0" fill="#fdf7f2"/>
<rect x="237.0" y="698.4" width="14.0" height="14.0" fill="#fcfdfe"/>
<rect x="250.4" y="698.4" width="14.0" height="14.0" fill="#f7fbfd"/>
<rect x="263.8" y="698.4" width="14.0" height="14.0" fill="#e2eff6"/>
<rect x="277.2" y="698.4" width="14.0" height="14.0" fill="#cae2ef"/>
<rect x="290.6" y="698.4" width="14.0" height="14.0" fill="#afd2e7"/>
<rect x="303.9" y="698.4" width="14.0" height="14.0" fill="#a0cae2"/>
<rect x="317.3" y="698.4" width="14.0" height="14.0" fill="#9ec9e2"/>
<rect x="330.7" y="698.4" width="14.0" height="14.0" fill="#abd0e6"/>
<rect x="344.1" y="698.4" width="14.0" height="14.0" fill="#b7d7e9"/>
<rect x="357.5" y="698.4" width="14.0" height="14.0" fill="#bcdaeb"/>
<rect x="370.8" y="698.4" width="14.0" height="14.0" fill="#c7e0ee"/>
<rect x="384.2" y="698.4" width="14.0" height="14.0" fill="#d1e6f1"/>
<rect x="397.6" y="698.4" width="14.0" height="14.0" fill="#deedf5"/>
<rect x="411.0" y="698.4" width="14.0" height="14.0" fill="#e5f1f7"/>
<rect x="424.4" y="698.4" width="14.0" height="14.0" fill="#f7fafd"/>
<rect x="437.8" y="698.4" width="14.0" height="14.0" fill="#fdf9f6"/>
<rect x="451.1" y="698.4" width="14.0" height="14.0" fill="#fbf0e7"/>
<rect x="464.5" y="698.4" width="14.0" height="14.0" fill="#faeee3"/>
<rect x="477.9" y="698.4" width="14.0" height="14.0" fill="#fbefe6"/>
<rect x="491.3" y="698.4" width="14.0" height="14.0" fill="#fcf4ee"/>
<rect x="504.7" y="698.4" width="14.0" height="14.0" fill="#fefcfa"/>
<rect x="518.0" y="698.4" width="14.0" height="14.0" fill="#f9fbfd"/>
<rect x="531.4" y="698.4" width="54.0" height="14.0" fill="#f2f8fb"/>
<rect x="76.6" y="711.8" width="54.0" height="14.0" fill="#fcf3ed"/>
<rect x="130.0" y="711.8" width="14.0" height="14.0" fill="#fcf2eb"/>
<rect x="143.4" y="711.8" width="14.0" height="14.0" fill="#fbf0e7"/>
<rect x="156.7" y="711.8" width="14.0" height="14.0" fill="#fbefe6"/>
<rect x="170.1" y="711.8" width="14.0" height="14.0" fill="#fbf1e8"/>
<rect x="183.5" y="711.8" width="14.0" height="14.0" fill="#fbf0e7"/>
<rect x="196.9" y="711.8" width="14.0" height="14.0" fill="#faede3"/>
<rect x="210.3" y="711.8" width="14.0" height="14.0" fill="#fcf2ea"/>
<rect x="223.6" y="711.8" width="14.0" height="14.0" fill="#fefbf8"/>
<rect x="237.0" y="711.8" width="14.0" height="14.0" fill="#f1f8fb"/>
<rect x="250.4" y="711.8" width="14.0" height="14.0" fill="#e3f0f7"/>
<rect x="263.8" y="711.8" width="14.0" height="14.0" fill="#c5dfed"/>
<rect x="277.2" y="711.8" width="14.0" height="14.0" fill="#a9cfe5"/>
<rect x="290.6" y="711.8" width="14.0" height="14.0" fill="#8fc1dd"/>
<rect x="303.9" y="711.8" width="14.0" height="14.0" fill="#87bddb"/>
<rect x="317.3" y="711.8" width="14.0" height="14.0" fill="#89bedb"/>
<rect x="330.7" y="711.8" width="14.0" height="14.0" fill="#94c4df"/>
<rect x="344.1" y="711.8" width="14.0" height="14.0" fill="#a6cee4"/>
<rect x="357.5" y="711.8" width="14.0" height="14.0" fill="#b4d5e8"/>
<rect x="370.8" y="711.8" width="14.0" height="14.0" fill="#c7e0ee"/>
<rect x="384.2" y="711.8" width="14.0" height="14.0" fill="#d3e7f2"/>
<rect x="397.6" y="711.8" width="14.0" height="14.0" fill="#e2eff6"/>
<rect x="411.0" y="711.8" width="14.0" height="14.0" fill="#e9f3f8"/>
<rect x="424.4" y="711.8" width="14.0" height="14.0" fill="#f7fafd"/>
<rect x="437.8" y="711.8" width="14.0" height="14.0" fill="#fffdfc"/>
<rect x="451.1" y="711.8" width="14.0" height="14.0" fill="#fcf5ee"/>
<rect x="464.5" y="711.8" width="14.0" height="14.0" fill="#fbefe6"/>
<rect x="477.9" y="711.8" width="14.0" height="14.0" fill="#fbefe5"/>
<rect x="491.3" y="711.8" width="14.0" height="14.0" fill="#fcf4ed"/>
<rect x="504.7" y="711.8" width="14.0" height="14.0" fill="#fefcfb"/>
<rect x="518.0" y="711.8" width="14.0" height="14.0" fill="#f8fbfd"/>
<rect x="531.4" y="711.8" width="54.0" height="14.0" fill="#f1f7fb"/>
<rect x="76.6" y="725.1" width="54.0" height="14.0" fill="#fefcfa"/>
<rect x="130.0" y="725.1" width="14.0" height="14.0" fill="#fdf8f4"/>
<rect x="143.4" y="725.1" width="14.0" height="14.0" fill="#fbf2ea"/>
<rect x="156.7" y="725.1" width="14.0" height="14.0" fill="#fbefe6"/>
<rect x="170.1" y="725.1" width="14.0" height="14.0" fill="#fcf3ec"/>
<rect x="183.5" y="725.1" width="14.0" height="14.0" fill="#fdf6f0"/>
<rect x="196.9" y="725.1" width="14.0" height="14.0" fill="#fdf7f2"/>
<rect x="210.3" y="725.1" width="14.0" height="14.0" fill="#fefbf9"/>
<rect x="223.6" y="725.1" width="14.0" height="14.0" fill="#ffffff"/>
<rect x="237.0" y="725.1" width="14.0" height="14.0" fill="#e7f2f8"/>
<rect x="250.4" y="725.1" width="14.0" height="14.0" fill="#cce3f0"/>
<rect x="263.8" y="725.1" width="14.0" height="14.0" fill="#aad0e5"/>
<rect x="277.2" y="725.1" width="14.0" height="14.0" fill="#95c4df"/>
<rect x="290.6" y="725.1" width="14.0" height="14.0" fill="#81bad9"/>
<rect x="303.9" y="725.1" width="14.0" height="14.0" fill="#7cb7d8"/>
<rect x="317.3" y="725.1" width="14.0" height="14.0" fill="#7bb6d7"/>
<rect x="330.7" y="725.1" width="14.0" height="14.0" fill="#7eb8d8"/>
<rect x="344.1" y="725.1" width="14.0" height="14.0" fill="#8ec1dd"/>
<rect x="357.5" y="725.1" width="14.0" height="14.0" fill="#a3cce3"/>
<rect x="370.8" y="725.1" width="14.0" height="14.0" fill="#c3deed"/>
<rect x="384.2" y="725.1" width="14.0" height="14.0" fill="#dcecf5"/>
<rect x="397.6" y="725.1" width="14.0" height="14.0" fill="#f2f8fb"/>
<rect x="411.0" y="725.1" width="14.0" height="14.0" fill="#f6fafc"/>
<rect x="424.4" y="725.1" width="14.0" height="14.0" fill="#fffefe"/>
<rect x="437.8" y="725.1" width="14.0" height="14.0" fill="#fef9f6"/>
<rect x="451.1" y="725.1" width="14.0" height="14.0" fill="#fcf2ea"/>
<rect x="464.5" y="725.1" width="14.0" height="14.0" fill="#faebe0"/>
<rect x="477.9" y="725.1" width="14.0" height="14.0" fill="#faebe0"/>
<rect x="491.3" y="725.1" width="14.0" height="14.0" fill="#fbf1e9"/>
<rect x="504.7" y="725.1" width="14.0" height="14.0" fill="#fefbf9"/>
<rect x="518.0" y="725.1" width="14.0" height="14.0" fill="#f8fbfd"/>
<rect x="531.4" y="725.1" width="54.0" height="14.0" fill="#f0f7fa"/>
<rect x="76.6" y="738.5" width="54.0" height="14.0" fill="#f7fbfd"/>
<rect x="130.0" y="738.5" width="14.0" height="14.0" fill="#fcfdfe"/>
<rect x="143.4" y="738.5" width="14.0" height="14.0" fill="#fefcfa"/>
<rect x="156.7" y="738.5" width="14.0" height="14.0" fill="#fef9f6"/>
<rect x="170.1" y="738.5" width="14.0" height="14.0" fill="#fefaf7"/>
<rect x="183.5" y="738.5" width="14.0" height="14.0" fill="#fefdfb"/>
<rect x="196.9" y="738.5" width="14.0" height="14.0" fill="#feffff"/>
<rect x="210.3" y="738.5" width="14.0" height="14.0" fill="#f6fafc"/>
<rect x="223.6" y="738.5" width="14.0" height="14.0" fill="#eff6fa"/>
<rect x="237.0" y="738.5" width="14.0" height="14.0" fill="#d1e5f1"/>
<rect x="250.4" y="738.5" width="14.0" height="14.0" fill="#add2e6"/>
<rect x="263.8" y="738.5" width="14.0" height="14.0" fill="#8cbfdc"/>
<rect x="277.2" y="738.5" width="14.0" height="14.0" fill="#80b9d9"/>
<rect x="290.6" y="738.5" width="14.0" height="14.0" fill="#76b3d6"/>
<rect x="303.9" y="738.5" width="14.0" height="14.0" fill="#75b3d5"/>
<rect x="317.3" y="738.5" width="14.0" height="14.0" fill="#6fafd3"/>
<rect x="330.7" y="738.5" width="14.0" height="14.0" fill="#65aad1"/>
<rect x="344.1" y="738.5" width="14.0" height="14.0" fill="#72b1d4"/>
<rect x="357.5" y="738.5" width="14.0" height="14.0" fill="#8bbfdc"/>
<rect x="370.8" y="738.5" width="14.0" height="14.0" fill="#b5d6e9"/>
<rect x="384.2" y="738.5" width="14.0" height="14.0" fill="#d8e9f3"/>
<rect x="397.6" y="738.5" width="14.0" height="14.0" fill="#f5f9fc"/>
<rect x="411.0" y="738.5" width="14.0" height="14.0" fill="#fbfdfe"/>
<rect x="424.4" y="738.5" width="14.0" height="14.0" fill="#fefaf7"/>
<rect x="437.8" y="738.5" width="14.0" height="14.0" fill="#fcf5ef"/>
<rect x="451.1" y="738.5" width="14.0" height="14.0" fill="#faede3"/>
<rect x="464.5" y="738.5" width="14.0" height="14.0" fill="#f9e7d9"/>
<rect x="477.9" y="738.5" width="14.0" height="14.0" fill="#f9e6d8"/>
<rect x="491.3" y="738.5" width="14.0" height="14.0" fill="#faece0"/>
<rect x="504.7" y="738.5" width="14.0" height="14.0" fill="#fdf6f1"/>
<rect x="518.0" y="738.5" width="14.0" height="14.0" fill="#fcfefe"/>
<rect x="531.4" y="738.5" width="54.0" height="14.0" fill="#f2f8fb"/>
<rect x="76.6" y="751.9" width="54.0" height="14.0" fill="#f2f8fb"/>
<rect x="130.0" y="751.9" width="14.0" height="14.0" fill="#f1f7fb"/>
<rect x="143.4" y="751.9" width="14.0" height="14.0" fill="#eff6fa"/>
<rect x="156.7" y="751.9" width="14.0" height="14.0" fill="#f2f8fb"/>
<rect x="170.1" y="751.9" width="14.0" height="14.0" fill="#f9fcfd"/>
<rect x="183.5" y="751.9" width="14.0" height="14.0" fill="#fdfefe"/>
<rect x="196.9" y="751.9" width="14.0" height="14.0" fill="#fcfdfe"/>
<rect x="210.3" y="751.9" width="14.0" height="14.0" fill="#eff6fa"/>
<rect x="223.6" y="751.9" width="14.0" height="14.0" fill="#e0eef6"/>
<rect x="237.0" y="751.9" width="14.0" height="14.0" fill="#bcdaeb"/>
<rect x="250.4" y="751.9" width="14.0" height="14.0" fill="#99c6e0"/>
<rect x="263.8" y="751.9" width="14.0" height="14.0" fill="#7cb7d7"/>
<rect x="277.2" y="751.9" width="14.0" height="14.0" fill="#77b4d6"/>
<rect x="290.6" y="751.9" width="14.0" height="14.0" fill="#74b2d5"/>
<rect x="303.9" y="751.9" width="14.0" height="14.0" fill="#77b4d6"/>
<rect x="317.3" y="751.9" width="14.0" height="14.0" fill="#6badd2"/>
<rect x="330.7" y="751.9" width="14.0" height="14.0" fill="#58a3cd"/>
<rect x="344.1" y="751.9" width="14.0" height="14.0" fill="#5fa6cf"/>
<rect x="357.5" y="751.9" width="14.0" height="14.0" fill="#7ab5d7"/>
<rect x="370.8" y="751.9" width="14.0" height="14.0" fill="#a5cde4"/>
<rect x="384.2" y="751.9" width="14.0" height="14.0" fill="#c7e0ee"/>
<rect x="397.6" y="751.9" width="14.0" height="14.0" fill="#e9f3f8"/>
<rect x="411.0" y="751.9" width="14.0" height="14.0" fill="#f5fafc"/>
<rect x="424.4" y="751.9" width="14.0" height="14.0" fill="#fefaf7"/>
<rect x="437.8" y="751.9" width="14.0" height="14.0" fill="#fcf3ec"/>
<rect x="451.1" y="751.9" width="14.0" height="14.0" fill="#f9eadd"/>
<rect x="464.5" y="751.9" width="14.0" height="14.0" fill="#f8e4d4"/>
<rect x="477.9" y="751.9" width="14.0" height="14.0" fill="#f8e2d2"/>
<rect x="491.3" y="751.9" width="14.0" height="14.0" fill="#f9e6d8"/>
<rect x="504.7" y="751.9" width="14.0" height="14.0" fill="#fbf1e9"/>
<rect x="518.0" y="751.9" width="14.0" height="14.0" fill="#fefdfc"/>
<rect x="531.4" y="751.9" width="54.0" height="14.0" fill="#f7fafd"/>
<rect x="76.6" y="765.2" width="54.0" height="14.0" fill="#e6f1f7"/>
<rect x="130.0" y="765.2" width="14.0" height="14.0" fill="#e3eff6"/>
<rect x="143.4" y="765.2" width="14.0" height="14.0" fill="#ddecf5"/>
<rect x="156.7" y="765.2" width="14.0" height="14.0" fill="#e0eef6"/>
<rect x="170.1" y="765.2" width="14.0" height="14.0" fill="#eaf3f9"/>
<rect x="183.5" y="765.2" width="14.0" height="14.0" fill="#ecf4f9"/>
<rect x="196.9" y="765.2" width="14.0" height="14.0" fill="#e5f1f7"/>
<rect x="210.3" y="765.2" width="14.0" height="14.0" fill="#d4e7f2"/>
<rect x="223.6" y="765.2" width="14.0" height="14.0" fill="#c1ddec"/>
<rect x="237.0" y="765.2" width="14.0" height="14.0" fill="#a4cde4"/>
<rect x="250.4" y="765.2" width="14.0" height="14.0" fill="#8dc0dc"/>
<rect x="263.8" y="765.2" width="14.0" height="14.0" fill="#7cb7d7"/>
<rect x="277.2" y="765.2" width="14.0" height="14.0" fill="#7db7d8"/>
<rect x="290.6" y="765.2" width="14.0" height="14.0" fill="#7db7d8"/>
<rect x="303.9" y="765.2" width="14.0" height="14.0" fill="#7fb8d8"/>
<rect x="317.3" y="765.2" width="14.0" height="14.0" fill="#76b3d6"/>
<rect x="330.7" y="765.2" width="14.0" height="14.0" fill="#68abd1"/>
<rect x="344.1" y="765.2" width="14.0" height="14.0" fill="#71b0d4"/>
<rect x="357.5" y="765.2" width="14.0" height="14.0" fill="#8bbfdc"/>
<rect x="370.8" y="765.2" width="14.0" height="14.0" fill="#afd3e7"/>
<rect x="384.2" y="765.2" width="14.0" height="14.0" fill="#cae2ef"/>
<rect x="397.6" y="765.2" width="14.0" height="14.0" fill="#e8f2f8"/>
<rect x="411.0" y="765.2" width="14.0" height="14.0" fill="#f8fbfd"/>
<rect x="424.4" y="765.2" width="14.0" height="14.0" fill="#fdf7f2"/>
<rect x="437.8" y="765.2" width="14.0" height="14.0" fill="#fbefe6"/>
<rect x="451.1" y="765.2" width="14.0" height="14.0" fill="#f9e6d8"/>
<rect x="464.5" y="765.2" width="14.0" height="14.0" fill="#f7e1d0"/>
<rect x="477.9" y="765.2" width="14.0" height="14.0" fill="#f7dfcd"/>
<rect x="491.3" y="765.2" width="14.0" height="14.0" fill="#f7e1cf"/>
<rect x="504.7" y="765.2" width="14.0" height="14.0" fill="#faeade"/>
<rect x="518.0" y="765.2" width="14.0" height="14.0" fill="#fdf6f1"/>
<rect x="531.4" y="765.2" width="54.0" height="14.0" fill="#fffefd"/>
<rect x="76.6" y="778.6" width="54.0" height="14.0" fill="#daebf4"/>
<rect x="130.0" y="778.6" width="14.0" height="14.0" fill="#daeaf4"/>
<rect x="143.4" y="778.6" width="14.0" height="14.0" fill="#d9eaf3"/>
<rect x="156.7" y="778.6" width="14.0" height="14.0" fill="#dbebf4"/>
<rect x="170.1" y="778.6" width="14.0" height="14.0" fill="#e2eff6"/>
<rect x="183.5" y="778.6" width="14.0" height="14.0" fill="#daeaf4"/>
<rect x="196.9" y="778.6" width="14.0" height="14.0" fill="#c9e1ef"/>
<rect x="210.3" y="778.6" width="14.0" height="14.0" fill="#b4d5e8"/>
<rect x="223.6" y="778.6" width="14.0" height="14.0" fill="#a6cee4"/>
<rect x="237.0" y="778.6" width="14.0" height="14.0" fill="#97c6e0"/>
<rect x="250.4" y="778.6" width="14.0" height="14.0" fill="#92c3de"/>
<rect x="263.8" y="778.6" width="14.0" height="14.0" fill="#8ec0dd"/>
<rect x="277.2" y="778.6" width="14.0" height="14.0" fill="#8ec1dd"/>
<rect x="290.6" y="778.6" width="14.0" height="14.0" fill="#8dc0dc"/>
<rect x="303.9" y="778.6" width="14.0" height="14.0" fill="#89bedb"/>
<rect x="317.3" y="778.6" width="14.0" height="14.0" fill="#89bedb"/>
<rect x="330.7" y="778.6" width="14.0" height="14.0" fill="#8bbfdc"/>
<rect x="344.1" y="778.6" width="14.0" height="14.0" fill="#9ec9e2"/>
<rect x="357.5" y="778.6" width="14.0" height="14.0" fill="#b5d6e9"/>
<rect x="370.8" y="778.6" width="14.0" height="14.0" fill="#cfe4f0"/>
<rect x="384.2" y="778.6" width="14.0" height="14.0" fill="#dcecf5"/>
<rect x="397.6" y="778.6" width="14.0" height="14.0" fill="#f1f7fb"/>
<rect x="411.0" y="778.6" width="14.0" height="14.0" fill="#fffefe"/>
<rect x="424.4" y="778.6" width="14.0" height="14.0" fill="#fcf3ec"/>
<rect x="437.8" y="778.6" width="14.0" height="14.0" fill="#faede2"/>
<rect x="451.1" y="778.6" width="14.0" height="14.0" fill="#f8e5d6"/>
<rect x="464.5" y="778.6" width="14.0" height="14.0" fill="#f7e2d0"/>
<rect x="477.9" y="778.6" width="14.0" height="14.0" fill="#f7dfcc"/>
<rect x="491.3" y="778.6" width="14.0" height="14.0" fill="#f6deca"/>
<rect x="504.7" y="778.6" width="14.0" height="14.0" fill="#f8e5d6"/>
<rect x="518.0" y="778.6" width="14.0" height="14.0" fill="#fbf0e7"/>
<rect x="531.4" y="778.6" width="54.0" height="14.0" fill="#fdf7f2"/>
<rect x="76.6" y="792.0" width="54.0" height="14.0" fill="#d8e9f3"/>
<rect x="130.0" y="792.0" width="14.0" height="14.0" fill="#d7e9f3"/>
<rect x="143.4" y="792.0" width="14.0" height="14.0" fill="#d7e9f3"/>
<rect x="156.7" y="792.0" width="14.0" height="14.0" fill="#d6e8f3"/>
<rect x="170.1" y="792.0" width="14.0" height="14.0" fill="#d8e9f3"/>
<rect x="183.5" y="792.0" width="14.0" height="14.0" fill="#c4deed"/>
<rect x="196.9" y="792.0" width="14.0" height="14.0" fill="#a6cee4"/>
<rect x="210.3" y="792.0" width="14.0" height="14.0" fill="#8ec1dd"/>
<rect x="223.6" y="792.0" width="14.0" height="14.0" fill="#89bedb"/>
<rect x="237.0" y="792.0" width="14.0" height="14.0" fill="#87bddb"/>
<rect x="250.4" y="792.0" width="14.0" height="14.0" fill="#8cc0dc"/>
<rect x="263.8" y="792.0" width="14.0" height="14.0" fill="#8fc1dd"/>
<rect x="277.2" y="792.0" width="14.0" height="14.0" fill="#8dc0dd"/>
<rect x="290.6" y="792.0" width="14.0" height="14.0" fill="#8fc1dd"/>
<rect x="303.9" y="792.0" width="14.0" height="14.0" fill="#93c3de"/>
<rect x="317.3" y="792.0" width="14.0" height="14.0" fill="#a1cbe3"/>
<rect x="330.7" y="792.0" width="14.0" height="14.0" fill="#b0d3e7"/>
<rect x="344.1" y="792.0" width="14.0" height="14.0" fill="#c9e1ef"/>
<rect x="357.5" y="792.0" width="14.0" height="14.0" fill="#ddecf5"/>
<rect x="370.8" y="792.0" width="14.0" height="14.0" fill="#f3f8fb"/>
<rect x="384.2" y="792.0" width="14.0" height="14.0" fill="#fefeff"/>
<rect x="397.6" y="792.0" width="14.0" height="14.0" fill="#fdf6f1"/>
<rect x="411.0" y="792.0" width="14.0" height="14.0" fill="#fbf0e6"/>
<rect x="424.4" y="792.0" width="14.0" height="14.0" fill="#f9e9dd"/>
<rect x="437.8" y="792.0" width="14.0" height="14.0" fill="#f9e7d9"/>
<rect x="451.1" y="792.0" width="14.0" height="14.0" fill="#f8e4d4"/>
<rect x="464.5" y="792.0" width="14.0" height="14.0" fill="#f7e2d0"/>
<rect x="477.9" y="792.0" width="14.0" height="14.0" fill="#f7e0cf"/>
<rect x="491.3" y="792.0" width="14.0" height="14.0" fill="#f7e1cf"/>
<rect x="504.7" y="792.0" width="14.0" height="14.0" fill="#f9e8da"/>
<rect x="518.0" y="792.0" width="14.0" height="14.0" fill="#fbf1e9"/>
<rect x="531.4" y="792.0" width="54.0" height="14.0" fill="#fdf6f1"/>
<rect x="76.6" y="805.3" width="54.0" height="14.0" fill="#e0eef6"/>
<rect x="130.0" y="805.3" width="14.0" height="14.0" fill="#ddecf5"/>
<rect x="143.4" y="805.3" width="14.0" height="14.0" fill="#d9eaf3"/>
<rect x="156.7" y="805.3" width="14.0" height="14.0" fill="#d4e7f2"/>
<rect x="170.1" y="805.3" width="14.0" height="14.0" fill="#d2e6f2"/>
<rect x="183.5" y="805.3" width="14.0" height="14.0" fill="#b7d7e9"/>
<rect x="196.9" y="805.3" width="14.0" height="14.0" fill="#91c2de"/>
<rect x="210.3" y="805.3" width="14.0" height="14.0" fill="#79b5d6"/>
<rect x="223.6" y="805.3" width="14.0" height="14.0" fill="#7cb7d8"/>
<rect x="237.0" y="805.3" width="14.0" height="14.0" fill="#7fb8d8"/>
<rect x="250.4" y="805.3" width="14.0" height="14.0" fill="#81b9d9"/>
<rect x="263.8" y="805.3" width="14.0" height="14.0" fill="#7fb8d8"/>
<rect x="277.2" y="805.3" width="14.0" height="14.0" fill="#79b5d6"/>
<rect x="290.6" y="805.3" width="14.0" height="14.0" fill="#83bad9"/>
<rect x="303.9" y="805.3" width="14.0" height="14.0" fill="#96c5df"/>
<rect x="317.3" y="805.3" width="14.0" height="14.0" fill="#b0d3e7"/>
<rect x="330.7" y="805.3" width="14.0" height="14.0" fill="#c1ddec"/>
<rect x="344.1" y="805.3" width="14.0" height="14.0" fill="#dbebf4"/>
<rect x="357.5" y="805.3" width="14.0" height="14.0" fill="#edf5fa"/>
<rect x="370.8" y="805.3" width="14.0" height="14.0" fill="#fdf9f5"/>
<rect x="384.2" y="805.3" width="14.0" height="14.0" fill="#faece2"/>
<rect x="397.6" y="805.3" width="14.0" height="14.0" fill="#f7e2d0"/>
<rect x="411.0" y="805.3" width="14.0" height="14.0" fill="#f7dfcc"/>
<rect x="424.4" y="805.3" width="14.0" height="14.0" fill="#f7dfcc"/>
<rect x="437.8" y="805.3" width="14.0" height="14.0" fill="#f7e2d1"/>
<rect x="451.1" y="805.3" width="14.0" height="14.0" fill="#f8e3d2"/>
<rect x="464.5" y="805.3" width="14.0" height="14.0" fill="#f7e1cf"/>
<rect x="477.9" y="805.3" width="14.0" height="14.0" fill="#f8e3d3"/>
<rect x="491.3" y="805.3" width="14.0" height="14.0" fill="#f9e8db"/>
<rect x="504.7" y="805.3" width="14.0" height="14.0" fill="#fbf1e8"/>
<rect x="518.0" y="805.3" width="14.0" height="14.0" fill="#fdf8f4"/>
<rect x="531.4" y="805.3" width="54.0" height="14.0" fill="#fefdfc"/>
<rect x="76.6" y="818.7" width="54.0" height="14.0" fill="#ebf4f9"/>
<rect x="130.0" y="818.7" width="14.0" height="14.0" fill="#e8f2f8"/>
<rect x="143.4" y="818.7" width="14.0" height="14.0" fill="#e4f0f7"/>
<rect x="156.7" y="818.7" width="14.0" height="14.0" fill="#d6e8f3"/>
<rect x="170.1" y="818.7" width="14.0" height="14.0" fill="#c9e1ef"/>
<rect x="183.5" y="818.7" width="14.0" height="14.0" fill="#a5cde4"/>
<rect x="196.9" y="818.7" width="14.0" height="14.0" fill="#7fb8d8"/>
<rect x="210.3" y="818.7" width="14.0" height="14.0" fill="#67abd1"/>
<rect x="223.6" y="818.7" width="14.0" height="14.0" fill="#6aadd2"/>
<rect x="237.0" y="818.7" width="14.0" height="14.0" fill="#6badd2"/>
<rect x="250.4" y="818.7" width="14.0" height="14.0" fill="#6aadd2"/>
<rect x="263.8" y="818.7" width="14.0" height="14.0" fill="#6daed3"/>
<rect x="277.2" y="818.7" width="14.0" height="14.0" fill="#70b0d4"/>
<rect x="290.6" y="818.7" width="14.0" height="14.0" fill="#85bcda"/>
<rect x="303.9" y="818.7" width="14.0" height="14.0" fill="#a0cae2"/>
<rect x="317.3" y="818.7" width="14.0" height="14.0" fill="#c1ddec"/>
<rect x="330.7" y="818.7" width="14.0" height="14.0" fill="#d5e8f2"/>
<rect x="344.1" y="818.7" width="14.0" height="14.0" fill="#ebf4f9"/>
<rect x="357.5" y="818.7" width="14.0" height="14.0" fill="#f6fafc"/>
<rect x="370.8" y="818.7" width="14.0" height="14.0" fill="#fdf6f0"/>
<rect x="384.2" y="818.7" width="14.0" height="14.0" fill="#f9e7d9"/>
<rect x="397.6" y="818.7" width="14.0" height="14.0" fill="#f6ddc8"/>
<rect x="411.0" y="818.7" width="14.0" height="14.0" fill="#f6dcc8"/>
<rect x="424.4" y="818.7" width="14.0" height="14.0" fill="#f8e3d3"/>
<rect x="437.8" y="818.7" width="14.0" height="14.0" fill="#fbeee4"/>
<rect x="451.1" y="818.7" width="14.0" height="14.0" fill="#fcf4ee"/>
<rect x="464.5" y="818.7" width="14.0" height="14.0" fill="#fcf3ec"/>
<rect x="477.9" y="818.7" width="14.0" height="14.0" fill="#fcf5ef"/>
<rect x="491.3" y="818.7" width="14.0" height="14.0" fill="#fdf9f6"/>
<rect x="504.7" y="818.7" width="14.0" height="14.0" fill="#fffefd"/>
<rect x="518.0" y="818.7" width="14.0" height="14.0" fill="#fdfefe"/>
<rect x="531.4" y="818.7" width="54.0" height="14.0" fill="#fafcfd"/>
<rect x="76.6" y="832.1" width="54.0" height="14.0" fill="#f2f8fb"/>
<rect x="130.0" y="832.1" width="14.0" height="14.0" fill="#f2f8fb"/>
<rect x="143.4" y="832.1" width="14.0" height="14.0" fill="#f2f8fb"/>
<rect x="156.7" y="832.1" width="14.0" height="14.0" fill="#ddecf5"/>
<rect x="170.1" y="832.1" width="14.0" height="14.0" fill="#c1ddec"/>
<rect x="183.5" y="832.1" width="14.0" height="14.0" fill="#99c6e0"/>
<rect x="196.9" y="832.1" width="14.0" height="14.0" fill="#7cb7d7"/>
<rect x="210.3" y="832.1" width="14.0" height="14.0" fill="#62a8d0"/>
<rect x="223.6" y="832.1" width="14.0" height="14.0" fill="#5ba5ce"/>
<rect x="237.0" y="832.1" width="14.0" height="14.0" fill="#55a1cc"/>
<rect x="250.4" y="832.1" width="14.0" height="14.0" fill="#53a0cb"/>
<rect x="263.8" y="832.1" width="14.0" height="14.0" fill="#61a8cf"/>
<rect x="277.2" y="832.1" width="14.0" height="14.0" fill="#75b3d5"/>
<rect x="290.6" y="832.1" width="14.0" height="14.0" fill="#94c4df"/>
<rect x="303.9" y="832.1" width="14.0" height="14.0" fill="#aad0e5"/>
<rect x="317.3" y="832.1" width="14.0" height="14.0" fill="#c9e1ef"/>
<rect x="330.7" y="832.1" width="14.0" height="14.0" fill="#dfedf5"/>
<rect x="344.1" y="832.1" width="14.0" height="14.0" fill="#f0f6fa"/>
<rect x="357.5" y="832.1" width="14.0" height="14.0" fill="#f0f7fb"/>
<rect x="370.8" y="832.1" width="14.0" height="14.0" fill="#ffffff"/>
<rect x="384.2" y="832.1" width="14.0" height="14.0" fill="#fcf2eb"/>
<rect x="397.6" y="832.1" width="14.0" height="14.0" fill="#f9e9dc"/>
<rect x="411.0" y="832.1" width="14.0" height="14.0" fill="#f9e8db"/>
<rect x="424.4" y="832.1" width="14.0" height="14.0" fill="#fcf3ec"/>
<rect x="437.8" y="832.1" width="14.0" height="14.0" fill="#f6fafc"/>
<rect x="451.1" y="832.1" width="14.0" height="14.0" fill="#e6f1f7"/>
<rect x="464.5" y="832.1" width="14.0" height="14.0" fill="#e9f3f8"/>
<rect x="477.9" y="832.1" width="14.0" height="14.0" fill="#ebf4f9"/>
<rect x="491.3" y="832.1" width="14.0" height="14.0" fill="#edf5fa"/>
<rect x="504.7" y="832.1" width="14.0" height="14.0" fill="#f1f7fb"/>
<rect x="518.0" y="832.1" width="14.0" height="14.0" fill="#f5f9fc"/>
<rect x="531.4" y="832.1" width="54.0" height="14.0" fill="#f7fbfd"/>
<rect x="76.6" y="845.4" width="54.0" height="14.0" fill="#f6fafc"/>
<rect x="130.0" y="845.4" width="14.0" height="14.0" fill="#f5fafc"/>
<rect x="143.4" y="845.4" width="14.0" height="14.0" fill="#f4f9fc"/>
<rect x="156.7" y="845.4" width="14.0" height="14.0" fill="#ddecf5"/>
<rect x="170.1" y="845.4" width="14.0" height="14.0" fill="#bfdcec"/>
<rect x="183.5" y="845.4" width="14.0" height="14.0" fill="#a0cae2"/>
<rect x="196.9" y="845.4" width="14.0" height="14.0" fill="#92c3de"/>
<rect x="210.3" y="845.4" width="14.0" height="14.0" fill="#7db7d8"/>
<rect x="223.6" y="845.4" width="14.0" height="14.0" fill="#6fafd3"/>
<rect x="237.0" y="845.4" width="14.0" height="14.0" fill="#64a9d0"/>
<rect x="250.4" y="845.4" width="14.0" height="14.0" fill="#62a8d0"/>
<rect x="263.8" y="845.4" width="14.0" height="14.0" fill="#74b2d5"/>
<rect x="277.2" y="845.4" width="14.0" height="14.0" fill="#8fc1dd"/>
<rect x="290.6" y="845.4" width="14.0" height="14.0" fill="#afd3e7"/>
<rect x="303.9" y="845.4" width="14.0" height="14.0" fill="#c1ddec"/>
<rect x="317.3" y="845.4" width="14.0" height="14.0" fill="#daebf4"/>
<rect x="330.7" y="845.4" width="14.0" height="14.0" fill="#eaf3f9"/>
<rect x="344.1" y="845.4" width="14.0" height="14.0" fill="#eff6fa"/>
<rect x="357.5" y="845.4" width="14.0" height="14.0" fill="#e5f0f7"/>
<rect x="370.8" y="845.4" width="14.0" height="14.0" fill="#e6f1f7"/>
<rect x="384.2" y="845.4" width="14.0" height="14.0" fill="#f1f7fb"/>
<rect x="397.6" y="845.4" width="14.0" height="14.0" fill="#f9fcfd"/>
<rect x="411.0" y="845.4" width="14.0" height="14.0" fill="#fafcfe"/>
<rect x="424.4" y="845.4" width="14.0" height="14.0" fill="#ebf4f9"/>
<rect x="437.8" y="845.4" width="14.0" height="14.0" fill="#d4e7f2"/>
<rect x="451.1" y="845.4" width="14.0" height="14.0" fill="#c6dfee"/>
<rect x="464.5" y="845.4" width="14.0" height="14.0" fill="#c7e0ee"/>
<rect x="477.9" y="845.4" width="14.0" height="14.0" fill="#cee4f0"/>
<rect x="491.3" y="845.4" width="14.0" height="14.0" fill="#d6e9f3"/>
<rect x="504.7" y="845.4" width="14.0" height="14.0" fill="#e3eff7"/>
<rect x="518.0" y="845.4" width="14.0" height="14.0" fill="#edf5f9"/>
<rect x="531.4" y="845.4" width="54.0" height="14.0" fill="#f3f8fb"/>
<rect x="76.6" y="858.8" width="54.0" height="14.0" fill="#f5f9fc"/>
<rect x="130.0" y="858.8" width="14.0" height="14.0" fill="#f0f7fb"/>
<rect x="143.4" y="858.8" width="14.0" height="14.0" fill="#eaf3f9"/>
<rect x="156.7" y="858.8" width="14.0" height="14.0" fill="#d8e9f3"/>
<rect x="170.1" y="858.8" width="14.0" height="14.0" fill="#c5dfed"/>
<rect x="183.5" y="858.8" width="14.0" height="14.0" fill="#b6d7e9"/>
<rect x="196.9" y="858.8" width="14.0" height="14.0" fill="#b5d6e9"/>
<rect x="210.3" y="858.8" width="14.0" height="14.0" fill="#a9cfe5"/>
<rect x="223.6" y="858.8" width="14.0" height="14.0" fill="#99c7e0"/>
<rect x="237.0" y="858.8" width="14.0" height="14.0" fill="#8ec1dd"/>
<rect x="250.4" y="858.8" width="14.0" height="14.0" fill="#8ec0dd"/>
<rect x="263.8" y="858.8" width="14.0" height="14.0" fill="#9bc8e1"/>
<rect x="277.2" y="858.8" width="14.0" height="14.0" fill="#aed2e7"/>
<rect x="290.6" y="858.8" width="14.0" height="14.0" fill="#c8e0ee"/>
<rect x="303.9" y="858.8" width="14.0" height="14.0" fill="#d9eaf3"/>
<rect x="317.3" y="858.8" width="14.0" height="14.0" fill="#e9f3f8"/>
<rect x="330.7" y="858.8" width="14.0" height="14.0" fill="#f0f7fb"/>
<rect x="344.1" y="858.8" width="14.0" height="14.0" fill="#eaf3f9"/>
<rect x="357.5" y="858.8" width="14.0" height="14.0" fill="#daeaf4"/>
<rect x="370.8" y="858.8" width="14.0" height="14.0" fill="#cfe5f1"/>
<rect x="384.2" y="858.8" width="14.0" height="14.0" fill="#d0e5f1"/>
<rect x="397.6" y="858.8" width="14.0" height="14.0" fill="#d1e6f1"/>
<rect x="411.0" y="858.8" width="14.0" height="14.0" fill="#d2e6f1"/>
<rect x="424.4" y="858.8" width="14.0" height="14.0" fill="#cee4f0"/>
<rect x="437.8" y="858.8" width="14.0" height="14.0" fill="#c7e0ee"/>
<rect x="451.1" y="858.8" width="14.0" height="14.0" fill="#c2dded"/>
<rect x="464.5" y="858.8" width="14.0" height="14.0" fill="#c1ddec"/>
<rect x="477.9" y="858.8" width="14.0" height="14.0" fill="#c8e1ee"/>
<rect x="491.3" y="858.8" width="14.0" height="14.0" fill="#d2e6f1"/>
<rect x="504.7" y="858.8" width="14.0" height="14.0" fill="#e0eef6"/>
<rect x="518.0" y="858.8" width="14.0" height="14.0" fill="#e9f3f8"/>
<rect x="531.4" y="858.8" width="54.0" height="14.0" fill="#eff6fa"/>
<rect x="76.6" y="872.2" width="54.0" height="14.0" fill="#e5f1f7"/>
<rect x="130.0" y="872.2" width="14.0" height="14.0" fill="#deedf5"/>
<rect x="143.4" y="872.2" width="14.0" height="14.0" fill="#d2e6f1"/>
<rect x="156.7" y="872.2" width="14.0" height="14.0" fill="#c8e1ee"/>
<rect x="170.1" y="872.2" width="14.0" height="14.0" fill="#c6e0ee"/>
<rect x="183.5" y="872.2" width="14.0" height="14.0" fill="#c7e0ee"/>
<rect x="196.9" y="872.2" width="14.0" height="14.0" fill="#cbe2ef"/>
<rect x="210.3" y="872.2" width="14.0" height="14.0" fill="#c8e1ee"/>
<rect x="223.6" y="872.2" width="14.0" height="14.0" fill="#c1ddec"/>
<rect x="237.0" y="872.2" width="14.0" height="14.0" fill="#bbdaeb"/>
<rect x="250.4" y="872.2" width="14.0" height="14.0" fill="#bad9ea"/>
<rect x="263.8" y="872.2" width="14.0" height="14.0" fill="#c3deed"/>
<rect x="277.2" y="872.2" width="14.0" height="14.0" fill="#d0e5f1"/>
<rect x="290.6" y="872.2" width="14.0" height="14.0" fill="#e2eff6"/>
<rect x="303.9" y="872.2" width="14.0" height="14.0" fill="#f0f7fb"/>
<rect x="317.3" y="872.2" width="14.0" height="14.0" fill="#f5fafc"/>
<rect x="330.7" y="872.2" width="14.0" height="14.0" fill="#eff6fa"/>
<rect x="344.1" y="872.2" width="14.0" height="14.0" fill="#dfedf5"/>
<rect x="357.5" y="872.2" width="14.0" height="14.0" fill="#cde4f0"/>
<rect x="370.8" y="872.2" width="14.0" height="14.0" fill="#bfdcec"/>
<rect x="384.2" y="872.2" width="14.0" height="14.0" fill="#bddaeb"/>
<rect x="397.6" y="872.2" width="14.0" height="14.0" fill="#bbd9ea"/>
<rect x="411.0" y="872.2" width="14.0" height="14.0" fill="#bbd9ea"/>
<rect x="424.4" y="872.2" width="14.0" height="14.0" fill="#bddaeb"/>
<rect x="437.8" y="872.2" width="14.0" height="14.0" fill="#bfdcec"/>
<rect x="451.1" y="872.2" width="14.0" height="14.0" fill="#c0dcec"/>
<rect x="464.5" y="872.2" width="14.0" height="14.0" fill="#bddaeb"/>
<rect x="477.9" y="872.2" width="14.0" height="14.0" fill="#c3deed"/>
<rect x="491.3" y="872.2" width="14.0" height="14.0" fill="#cde4f0"/>
<rect x="504.7" y="872.2" width="14.0" height="14.0" fill="#dcecf5"/>
<rect x="518.0" y="872.2" width="14.0" height="14.0" fill="#e7f2f8"/>
<rect x="531.4" y="872.2" width="54.0" height="14.0" fill="#eef6fa"/>
<rect x="76.6" y="885.5" width="54.0" height="14.0" fill="#d0e5f1"/>
<rect x="130.0" y="885.5" width="14.0" height="14.0" fill="#c8e0ee"/>
<rect x="143.4" y="885.5" width="14.0" height="14.0" fill="#bad9ea"/>
<rect x="156.7" y="885.5" width="14.0" height="14.0" fill="#b8d8ea"/>
<rect x="170.1" y="885.5" width="14.0" height="14.0" fill="#c3deed"/>
<rect x="183.5" y="885.5" width="14.0" height="14.0" fill="#c9e1ef"/>
<rect x="196.9" y="885.5" width="14.0" height="14.0" fill="#c6e0ee"/>
<rect x="210.3" y="885.5" width="14.0" height="14.0" fill="#c9e1ef"/>
<rect x="223.6" y="885.5" width="14.0" height="14.0" fill="#d0e5f1"/>
<rect x="237.0" y="885.5" width="14.0" height="14.0" fill="#d3e7f2"/>
<rect x="250.4" y="885.5" width="14.0" height="14.0" fill="#d0e5f1"/>
<rect x="263.8" y="885.5" width="14.0" height="14.0" fill="#d6e8f3"/>
<rect x="277.2" y="885.5" width="14.0" height="14.0" fill="#e0eef6"/>
<rect x="290.6" y="885.5" width="14.0" height="14.0" fill="#eff6fa"/>
<rect x="303.9" y="885.5" width="14.0" height="14.0" fill="#fafcfd"/>
<rect x="317.3" y="885.5" width="14.0" height="14.0" fill="#f6fafc"/>
<rect x="330.7" y="885.5" width="14.0" height="14.0" fill="#e6f1f8"/>
<rect x="344.1" y="885.5" width="14.0" height="14.0" fill="#d3e7f2"/>
<rect x="357.5" y="885.5" width="14.0" height="14.0" fill="#c7e0ee"/>
<rect x="370.8" y="885.5" width="14.0" height="14.0" fill="#c0dcec"/>
<rect x="384.2" y="885.5" width="14.0" height="14.0" fill="#c3deed"/>
<rect x="397.6" y="885.5" width="14.0" height="14.0" fill="#c5dfed"/>
<rect x="411.0" y="885.5" width="14.0" height="14.0" fill="#c4dfed"/>
<rect x="424.4" y="885.5" width="14.0" height="14.0" fill="#c4dfed"/>
<rect x="437.8" y="885.5" width="14.0" height="14.0" fill="#c4deed"/>
<rect x="451.1" y="885.5" width="14.0" height="14.0" fill="#c2ddec"/>
<rect x="464.5" y="885.5" width="14.0" height="14.0" fill="#bedbeb"/>
<rect x="477.9" y="885.5" width="14.0" height="14.0" fill="#c2dded"/>
<rect x="491.3" y="885.5" width="14.0" height="14.0" fill="#cce3ef"/>
<rect x="504.7" y="885.5" width="14.0" height="14.0" fill="#dbebf4"/>
<rect x="518.0" y="885.5" width="14.0" height="14.0" fill="#e8f2f8"/>
<rect x="531.4" y="885.5" width="54.0" height="14.0" fill="#f0f7fb"/>
<rect x="76.6" y="898.9" width="54.0" height="14.0" fill="#bbd9ea"/>
<rect x="130.0" y="898.9" width="14.0" height="14.0" fill="#b2d4e8"/>
<rect x="143.4" y="898.9" width="14.0" height="14.0" fill="#a3cce3"/>
<rect x="156.7" y="898.9" width="14.0" height="14.0" fill="#a3cce3"/>
<rect x="170.1" y="898.9" width="14.0" height="14.0" fill="#b0d3e7"/>
<rect x="183.5" y="898.9" width="14.0" height="14.0" fill="#bad9ea"/>
<rect x="196.9" y="898.9" width="14.0" height="14.0" fill="#b9d8ea"/>
<rect x="210.3" y="898.9" width="14.0" height="14.0" fill="#c3deed"/>
<rect x="223.6" y="898.9" width="14.0" height="14.0" fill="#d1e6f1"/>
<rect x="237.0" y="898.9" width="14.0" height="14.0" fill="#daebf4"/>
<rect x="250.4" y="898.9" width="14.0" height="14.0" fill="#d8e9f3"/>
<rect x="263.8" y="898.9" width="14.0" height="14.0" fill="#ddecf5"/>
<rect x="277.2" y="898.9" width="14.0" height="14.0" fill="#e7f2f8"/>
<rect x="290.6" y="898.9" width="14.0" height="14.0" fill="#f7fbfd"/>
<rect x="303.9" y="898.9" width="14.0" height="14.0" fill="#fefbf8"/>
<rect x="317.3" y="898.9" width="14.0" height="14.0" fill="#fefeff"/>
<rect x="330.7" y="898.9" width="14.0" height="14.0" fill="#e3f0f7"/>
<rect x="344.1" y="898.9" width="14.0" height="14.0" fill="#cce3f0"/>
<rect x="357.5" y="898.9" width="14.0" height="14.0" fill="#c5dfed"/>
<rect x="370.8" y="898.9" width="14.0" height="14.0" fill="#bcdaeb"/>
<rect x="384.2" y="898.9" width="14.0" height="14.0" fill="#b8d8ea"/>
<rect x="397.6" y="898.9" width="14.0" height="14.0" fill="#b6d6e9"/>
<rect x="411.0" y="898.9" width="14.0" height="14.0" fill="#b6d7e9"/>
<rect x="424.4" y="898.9" width="14.0" height="14.0" fill="#b8d8ea"/>
<rect x="437.8" y="898.9" width="14.0" height="14.0" fill="#bad9ea"/>
<rect x="451.1" y="898.9" width="14.0" height="14.0" fill="#bfdbec"/>
<rect x="464.5" y="898.9" width="14.0" height="14.0" fill="#c2dded"/>
<rect x="477.9" y="898.9" width="14.0" height="14.0" fill="#cde3f0"/>
<rect x="491.3" y="898.9" width="14.0" height="14.0" fill="#d8e9f3"/>
<rect x="504.7" y="898.9" width="14.0" height="14.0" fill="#eaf3f9"/>
<rect x="518.0" y="898.9" width="14.0" height="14.0" fill="#f8fbfd"/>
<rect x="531.4" y="898.9" width="54.0" height="14.0" fill="#fffefd"/>
<rect x="76.6" y="912.3" width="54.0" height="14.0" fill="#b1d4e7"/>
<rect x="130.0" y="912.3" width="14.0" height="14.0" fill="#a8cfe5"/>
<rect x="143.4" y="912.3" width="14.0" height="14.0" fill="#9bc7e1"/>
<rect x="156.7" y="912.3" width="14.0" height="14.0" fill="#94c4df"/>
<rect x="170.1" y="912.3" width="14.0" height="14.0" fill="#98c6e0"/>
<rect x="183.5" y="912.3" width="14.0" height="14.0" fill="#a1cbe3"/>
<rect x="196.9" y="912.3" width="14.0" height="14.0" fill="#a9cfe5"/>
<rect x="210.3" y="912.3" width="14.0" height="14.0" fill="#b7d7e9"/>
<rect x="223.6" y="912.3" width="14.0" height="14.0" fill="#c3deed"/>
<rect x="237.0" y="912.3" width="14.0" height="14.0" fill="#cce3ef"/>
<rect x="250.4" y="912.3" width="14.0" height="14.0" fill="#cce3f0"/>
<rect x="263.8" y="912.3" width="14.0" height="14.0" fill="#d4e7f2"/>
<rect x="277.2" y="912.3" width="14.0" height="14.0" fill="#deedf5"/>
<rect x="290.6" y="912.3" width="14.0" height="14.0" fill="#f4f9fc"/>
<rect x="303.9" y="912.3" width="14.0" height="14.0" fill="#fdf7f2"/>
<rect x="317.3" y="912.3" width="14.0" height="14.0" fill="#fefaf8"/>
<rect x="330.7" y="912.3" width="14.0" height="14.0" fill="#e7f2f8"/>
<rect x="344.1" y="912.3" width="14.0" height="14.0" fill="#cee4f0"/>
<rect x="357.5" y="912.3" width="14.0" height="14.0" fill="#c8e1ee"/>
<rect x="370.8" y="912.3" width="14.0" height="14.0" fill="#b7d7e9"/>
<rect x="384.2" y="912.3" width="14.0" height="14.0" fill="#a4cde4"/>
<rect x="397.6" y="912.3" width="14.0" height="14.0" fill="#98c6e0"/>
<rect x="411.0" y="912.3" width="14.0" height="14.0" fill="#99c7e0"/>
<rect x="424.4" y="912.3" width="14.0" height="14.0" fill="#a0cae2"/>
<rect x="437.8" y="912.3" width="14.0" height="14.0" fill="#a8cfe5"/>
<rect x="451.1" y="912.3" width="14.0" height="14.0" fill="#b8d8ea"/>
<rect x="464.5" y="912.3" width="14.0" height="14.0" fill="#c8e0ee"/>
<rect x="477.9" y="912.3" width="14.0" height="14.0" fill="#ddecf5"/>
<rect x="491.3" y="912.3" width="14.0" height="14.0" fill="#ecf5f9"/>
<rect x="504.7" y="912.3" width="14.0" height="14.0" fill="#fffefe"/>
<rect x="518.0" y="912.3" width="14.0" height="14.0" fill="#fdf6f0"/>
<rect x="531.4" y="912.3" width="54.0" height="14.0" fill="#fbf0e8"/>
<rect x="76.6" y="925.6" width="54.0" height="54.0" fill="#abd0e6"/>
<rect x="130.0" y="925.6" width="14.0" height="54.0" fill="#a2cce3"/>
<rect x="143.4" y="925.6" width="14.0" height="54.0" fill="#95c4df"/>
<rect x="156.7" y="925.6" width="14.0" height="54.0" fill="#8bbfdc"/>
<rect x="170.1" y="925.6" width="14.0" height="54.0" fill="#89bedc"/>
<rect x="183.5" y="925.6" width="14.0" height="54.0" fill="#92c3de"/>
<rect x="196.9" y="925.6" width="14.0" height="54.0" fill="#9fcae2"/>
<rect x="210.3" y="925.6" width="14.0" height="54.0" fill="#b0d3e7"/>
<rect x="223.6" y="925.6" width="14.0" height="54.0" fill="#bad9ea"/>
<rect x="237.0" y="925.6" width="14.0" height="54.0" fill="#c3deed"/>
<rect x="250.4" y="925.6" width="14.0" height="54.0" fill="#c5dfee"/>
<rect x="263.8" y="925.6" width="14.0" height="54.0" fill="#cfe4f0"/>
<rect x="277.2" y="925.6" width="14.0" height="54.0" fill="#d9eaf3"/>
<rect x="290.6" y="925.6" width="14.0" height="54.0" fill="#f3f8fb"/>
<rect x="303.9" y="925.6" width="14.0" height="54.0" fill="#fcf5ef"/>
<rect x="317.3" y="925.6" width="14.0" height="54.0" fill="#fdf7f3"/>
<rect x="330.7" y="925.6" width="14.0" height="54.0" fill="#e9f3f8"/>
<rect x="344.1" y="925.6" width="14.0" height="54.0" fill="#cee4f0"/>
<rect x="357.5" y="925.6" width="14.0" height="54.0" fill="#cae2ef"/>
<rect x="370.8" y="925.6" width="14.0" height="54.0" fill="#b3d5e8"/>
<rect x="384.2" y="925.6" width="14.0" height="54.0" fill="#98c6e0"/>
<rect x="397.6" y="925.6" width="14.0" height="54.0" fill="#86bcda"/>
<rect x="411.0" y="925.6" width="14.0" height="54.0" fill="#88bddb"/>
<rect x="424.4" y="925.6" width="14.0" height="54.0" fill="#91c2de"/>
<rect x="437.8" y="925.6" width="14.0" height="54.0" fill="#9dc9e1"/>
<rect x="451.1" y="925.6" width="14.0" height="54.0" fill="#b5d6e9"/>
<rect x="464.5" y="925.6" width="14.0" height="54.0" fill="#cbe2ef"/>
<rect x="477.9" y="925.6" width="14.0" height="54.0" fill="#e8f2f8"/>
<rect x="491.3" y="925.6" width="14.0" height="54.0" fill="#f8fbfd"/>
<rect x="504.7" y="925.6" width="14.0" height="54.0" fill="#fdf5f0"/>
<rect x="518.0" y="925.6" width="14.0" height="54.0" fill="#faede3"/>
<rect x="531.4" y="925.6" width="54.0" height="54.0" fill="#f9e8db"/>
</g></g>
<clipPath id="cp2"><rect x="116.6" y="998.90" width="428.20" height="428.90"/></clipPath>
<g clip-path="url(#cp2)"><g filter="url(#bl2)" shape-rendering="crispEdges">
<rect x="76.6" y="958.9" width="54.0" height="54.0" fill="#ffffff"/>
<rect x="130.0" y="958.9" width="14.0" height="54.0" fill="#fefdfb"/>
<rect x="143.4" y="958.9" width="14.0" height="54.0" fill="#fbfdfe"/>
<rect x="156.7" y="958.9" width="14.0" height="54.0" fill="#f4f9fc"/>
<rect x="170.1" y="958.9" width="14.0" height="54.0" fill="#e3f0f7"/>
<rect x="183.5" y="958.9" width="14.0" height="54.0" fill="#ddecf5"/>
<rect x="196.9" y="958.9" width="14.0" height="54.0" fill="#f9eade"/>
<rect x="210.3" y="958.9" width="14.0" height="54.0" fill="#f7e0cd"/>
<rect x="223.6" y="958.9" width="14.0" height="54.0" fill="#f5dac4"/>
<rect x="237.0" y="958.9" width="14.0" height="54.0" fill="#f6dbc6"/>
<rect x="250.4" y="958.9" width="14.0" height="54.0" fill="#fcf4ee"/>
<rect x="263.8" y="958.9" width="14.0" height="54.0" fill="#fcf5f0"/>
<rect x="277.2" y="958.9" width="14.0" height="54.0" fill="#fbf1e8"/>
<rect x="290.6" y="958.9" width="14.0" height="54.0" fill="#fdf9f5"/>
<rect x="303.9" y="958.9" width="14.0" height="54.0" fill="#a8cfe5"/>
<rect x="317.3" y="958.9" width="14.0" height="54.0" fill="#b1d4e8"/>
<rect x="330.7" y="958.9" width="14.0" height="54.0" fill="#add2e6"/>
<rect x="344.1" y="958.9" width="14.0" height="54.0" fill="#b8d8ea"/>
<rect x="357.5" y="958.9" width="14.0" height="54.0" fill="#e7f2f8"/>
<rect x="370.8" y="958.9" width="14.0" height="54.0" fill="#eff6fa"/>
<rect x="384.2" y="958.9" width="14.0" height="54.0" fill="#ddecf5"/>
<rect x="397.6" y="958.9" width="14.0" height="54.0" fill="#f1f7fb"/>
<rect x="411.0" y="958.9" width="14.0" height="54.0" fill="#fbeee4"/>
<rect x="424.4" y="958.9" width="14.0" height="54.0" fill="#f7e1d0"/>
<rect x="437.8" y="958.9" width="14.0" height="54.0" fill="#fffefd"/>
<rect x="451.1" y="958.9" width="14.0" height="54.0" fill="#fdfefe"/>
<rect x="464.5" y="958.9" width="14.0" height="54.0" fill="#d4e7f2"/>
<rect x="477.9" y="958.9" width="14.0" height="54.0" fill="#edf5fa"/>
<rect x="491.3" y="958.9" width="14.0" height="54.0" fill="#fdf9f5"/>
<rect x="504.7" y="958.9" width="14.0" height="54.0" fill="#fdf7f3"/>
<rect x="518.0" y="958.9" width="14.0" height="54.0" fill="#e1eef6"/>
<rect x="531.4" y="958.9" width="54.0" height="54.0" fill="#eef6fa"/>
<rect x="76.6" y="1012.3" width="54.0" height="14.0" fill="#f3f8fb"/>
<rect x="130.0" y="1012.3" width="14.0" height="14.0" fill="#f5f9fc"/>
<rect x="143.4" y="1012.3" width="14.0" height="14.0" fill="#fdf6f1"/>
<rect x="156.7" y="1012.3" width="14.0" height="14.0" fill="#f5f9fc"/>
<rect x="170.1" y="1012.3" width="14.0" height="14.0" fill="#e9f3f8"/>
<rect x="183.5" y="1012.3" width="14.0" height="14.0" fill="#fbf0e8"/>
<rect x="196.9" y="1012.3" width="14.0" height="14.0" fill="#fbefe6"/>
<rect x="210.3" y="1012.3" width="14.0" height="14.0" fill="#faebe0"/>
<rect x="223.6" y="1012.3" width="14.0" height="14.0" fill="#f4d5bc"/>
<rect x="237.0" y="1012.3" width="14.0" height="14.0" fill="#f4d5bd"/>
<rect x="250.4" y="1012.3" width="14.0" height="14.0" fill="#cbe2ef"/>
<rect x="263.8" y="1012.3" width="14.0" height="14.0" fill="#fdf8f3"/>
<rect x="277.2" y="1012.3" width="14.0" height="14.0" fill="#f9e6d8"/>
<rect x="290.6" y="1012.3" width="14.0" height="14.0" fill="#fffefd"/>
<rect x="303.9" y="1012.3" width="14.0" height="14.0" fill="#b3d5e8"/>
<rect x="317.3" y="1012.3" width="14.0" height="14.0" fill="#aad0e5"/>
<rect x="330.7" y="1012.3" width="14.0" height="14.0" fill="#b6d7e9"/>
<rect x="344.1" y="1012.3" width="14.0" height="14.0" fill="#d7e9f3"/>
<rect x="357.5" y="1012.3" width="14.0" height="14.0" fill="#fdf9f5"/>
<rect x="370.8" y="1012.3" width="14.0" height="14.0" fill="#f0f7fa"/>
<rect x="384.2" y="1012.3" width="14.0" height="14.0" fill="#f8fbfd"/>
<rect x="397.6" y="1012.3" width="14.0" height="14.0" fill="#fbfdfe"/>
<rect x="411.0" y="1012.3" width="14.0" height="14.0" fill="#f8e5d6"/>
<rect x="424.4" y="1012.3" width="14.0" height="14.0" fill="#f6decb"/>
<rect x="437.8" y="1012.3" width="14.0" height="14.0" fill="#feffff"/>
<rect x="451.1" y="1012.3" width="14.0" height="14.0" fill="#fefaf7"/>
<rect x="464.5" y="1012.3" width="14.0" height="14.0" fill="#fefaf8"/>
<rect x="477.9" y="1012.3" width="14.0" height="14.0" fill="#ecf4f9"/>
<rect x="491.3" y="1012.3" width="14.0" height="14.0" fill="#fdf6f1"/>
<rect x="504.7" y="1012.3" width="14.0" height="14.0" fill="#fefcfa"/>
<rect x="518.0" y="1012.3" width="14.0" height="14.0" fill="#f6fafc"/>
<rect x="531.4" y="1012.3" width="54.0" height="14.0" fill="#e5f1f7"/>
<rect x="76.6" y="1025.7" width="54.0" height="14.0" fill="#e2eff6"/>
<rect x="130.0" y="1025.7" width="14.0" height="14.0" fill="#e7f2f8"/>
<rect x="143.4" y="1025.7" width="14.0" height="14.0" fill="#fdf8f4"/>
<rect x="156.7" y="1025.7" width="14.0" height="14.0" fill="#fdf6f0"/>
<rect x="170.1" y="1025.7" width="14.0" height="14.0" fill="#f9fcfd"/>
<rect x="183.5" y="1025.7" width="14.0" height="14.0" fill="#fffffe"/>
<rect x="196.9" y="1025.7" width="14.0" height="14.0" fill="#f8e5d6"/>
<rect x="210.3" y="1025.7" width="14.0" height="14.0" fill="#fefaf8"/>
<rect x="223.6" y="1025.7" width="14.0" height="14.0" fill="#f2f8fb"/>
<rect x="237.0" y="1025.7" width="14.0" height="14.0" fill="#fdf9f5"/>
<rect x="250.4" y="1025.7" width="14.0" height="14.0" fill="#eef6fa"/>
<rect x="263.8" y="1025.7" width="14.0" height="14.0" fill="#e7f2f8"/>
<rect x="277.2" y="1025.7" width="14.0" height="14.0" fill="#fcf4ed"/>
<rect x="290.6" y="1025.7" width="14.0" height="14.0" fill="#fcf4ee"/>
<rect x="303.9" y="1025.7" width="14.0" height="14.0" fill="#e6f1f7"/>
<rect x="317.3" y="1025.7" width="14.0" height="14.0" fill="#fdfefe"/>
<rect x="330.7" y="1025.7" width="14.0" height="14.0" fill="#e4f0f7"/>
<rect x="344.1" y="1025.7" width="14.0" height="14.0" fill="#e6f1f7"/>
<rect x="357.5" y="1025.7" width="14.0" height="14.0" fill="#eef6fa"/>
<rect x="370.8" y="1025.7" width="14.0" height="14.0" fill="#e3f0f7"/>
<rect x="384.2" y="1025.7" width="14.0" height="14.0" fill="#f8e5d6"/>
<rect x="397.6" y="1025.7" width="14.0" height="14.0" fill="#faede2"/>
<rect x="411.0" y="1025.7" width="14.0" height="14.0" fill="#faebdf"/>
<rect x="424.4" y="1025.7" width="14.0" height="14.0" fill="#fbeee4"/>
<rect x="437.8" y="1025.7" width="14.0" height="14.0" fill="#fdf6f0"/>
<rect x="451.1" y="1025.7" width="14.0" height="14.0" fill="#fefaf7"/>
<rect x="464.5" y="1025.7" width="14.0" height="14.0" fill="#f4f9fc"/>
<rect x="477.9" y="1025.7" width="14.0" height="14.0" fill="#fbf0e8"/>
<rect x="491.3" y="1025.7" width="14.0" height="14.0" fill="#fbfdfe"/>
<rect x="504.7" y="1025.7" width="14.0" height="14.0" fill="#fdf6f1"/>
<rect x="518.0" y="1025.7" width="14.0" height="14.0" fill="#fdf8f4"/>
<rect x="531.4" y="1025.7" width="54.0" height="14.0" fill="#fcf3ed"/>
<rect x="76.6" y="1039.1" width="54.0" height="14.0" fill="#d9eaf3"/>
<rect x="130.0" y="1039.1" width="14.0" height="14.0" fill="#eef5fa"/>
<rect x="143.4" y="1039.1" width="14.0" height="14.0" fill="#eaf3f9"/>
<rect x="156.7" y="1039.1" width="14.0" height="14.0" fill="#e5f1f7"/>
<rect x="170.1" y="1039.1" width="14.0" height="14.0" fill="#fefbf8"/>
<rect x="183.5" y="1039.1" width="14.0" height="14.0" fill="#feffff"/>
<rect x="196.9" y="1039.1" width="14.0" height="14.0" fill="#f9e9dc"/>
<rect x="210.3" y="1039.1" width="14.0" height="14.0" fill="#f5d8c2"/>
<rect x="223.6" y="1039.1" width="14.0" height="14.0" fill="#dfeef5"/>
<rect x="237.0" y="1039.1" width="14.0" height="14.0" fill="#fffdfc"/>
<rect x="250.4" y="1039.1" width="14.0" height="14.0" fill="#e1eff6"/>
<rect x="263.8" y="1039.1" width="14.0" height="14.0" fill="#e5f0f7"/>
<rect x="277.2" y="1039.1" width="14.0" height="14.0" fill="#fcf3ec"/>
<rect x="290.6" y="1039.1" width="14.0" height="14.0" fill="#fcf3ec"/>
<rect x="303.9" y="1039.1" width="14.0" height="14.0" fill="#f2f8fb"/>
<rect x="317.3" y="1039.1" width="14.0" height="14.0" fill="#f0f7fa"/>
<rect x="330.7" y="1039.1" width="14.0" height="14.0" fill="#dcecf4"/>
<rect x="344.1" y="1039.1" width="14.0" height="14.0" fill="#e8f2f8"/>
<rect x="357.5" y="1039.1" width="14.0" height="14.0" fill="#eaf3f9"/>
<rect x="370.8" y="1039.1" width="14.0" height="14.0" fill="#dcecf4"/>
<rect x="384.2" y="1039.1" width="14.0" height="14.0" fill="#f7e2d0"/>
<rect x="397.6" y="1039.1" width="14.0" height="14.0" fill="#faebdf"/>
<rect x="411.0" y="1039.1" width="14.0" height="14.0" fill="#f8e3d2"/>
<rect x="424.4" y="1039.1" width="14.0" height="14.0" fill="#f9e9dc"/>
<rect x="437.8" y="1039.1" width="14.0" height="14.0" fill="#fffefe"/>
<rect x="451.1" y="1039.1" width="14.0" height="14.0" fill="#f7fbfd"/>
<rect x="464.5" y="1039.1" width="14.0" height="14.0" fill="#f3f8fb"/>
<rect x="477.9" y="1039.1" width="14.0" height="14.0" fill="#dbebf4"/>
<rect x="491.3" y="1039.1" width="14.0" height="14.0" fill="#f0f7fb"/>
<rect x="504.7" y="1039.1" width="14.0" height="14.0" fill="#fefcfa"/>
<rect x="518.0" y="1039.1" width="14.0" height="14.0" fill="#eff6fa"/>
<rect x="531.4" y="1039.1" width="54.0" height="14.0" fill="#fbf1e9"/>
<rect x="76.6" y="1052.5" width="54.0" height="14.0" fill="#c8e1ee"/>
<rect x="130.0" y="1052.5" width="14.0" height="14.0" fill="#e8f2f8"/>
<rect x="143.4" y="1052.5" width="14.0" height="14.0" fill="#dfedf5"/>
<rect x="156.7" y="1052.5" width="14.0" height="14.0" fill="#f3f9fb"/>
<rect x="170.1" y="1052.5" width="14.0" height="14.0" fill="#f6fafc"/>
<rect x="183.5" y="1052.5" width="14.0" height="14.0" fill="#e1eef6"/>
<rect x="196.9" y="1052.5" width="14.0" height="14.0" fill="#fbeee4"/>
<rect x="210.3" y="1052.5" width="14.0" height="14.0" fill="#faece2"/>
<rect x="223.6" y="1052.5" width="14.0" height="14.0" fill="#fdf9f5"/>
<rect x="237.0" y="1052.5" width="14.0" height="14.0" fill="#fefaf8"/>
<rect x="250.4" y="1052.5" width="14.0" height="14.0" fill="#faece0"/>
<rect x="263.8" y="1052.5" width="14.0" height="14.0" fill="#fcf2eb"/>
<rect x="277.2" y="1052.5" width="14.0" height="14.0" fill="#fbefe6"/>
<rect x="290.6" y="1052.5" width="14.0" height="14.0" fill="#fefdfb"/>
<rect x="303.9" y="1052.5" width="14.0" height="14.0" fill="#e9f3f8"/>
<rect x="317.3" y="1052.5" width="14.0" height="14.0" fill="#dfedf5"/>
<rect x="330.7" y="1052.5" width="14.0" height="14.0" fill="#f7fbfd"/>
<rect x="344.1" y="1052.5" width="14.0" height="14.0" fill="#eff6fa"/>
<rect x="357.5" y="1052.5" width="14.0" height="14.0" fill="#fefcfa"/>
<rect x="370.8" y="1052.5" width="14.0" height="14.0" fill="#f2f8fb"/>
<rect x="384.2" y="1052.5" width="14.0" height="14.0" fill="#f9eadd"/>
<rect x="397.6" y="1052.5" width="14.0" height="14.0" fill="#fbf1e9"/>
<rect x="411.0" y="1052.5" width="14.0" height="14.0" fill="#fffefd"/>
<rect x="424.4" y="1052.5" width="14.0" height="14.0" fill="#fefbf8"/>
<rect x="437.8" y="1052.5" width="14.0" height="14.0" fill="#fefdfb"/>
<rect x="451.1" y="1052.5" width="14.0" height="14.0" fill="#fdf8f4"/>
<rect x="464.5" y="1052.5" width="14.0" height="14.0" fill="#e4f0f7"/>
<rect x="477.9" y="1052.5" width="14.0" height="14.0" fill="#e6f1f7"/>
<rect x="491.3" y="1052.5" width="14.0" height="14.0" fill="#d8e9f3"/>
<rect x="504.7" y="1052.5" width="14.0" height="14.0" fill="#dfedf5"/>
<rect x="518.0" y="1052.5" width="14.0" height="14.0" fill="#fcf2ea"/>
<rect x="531.4" y="1052.5" width="54.0" height="14.0" fill="#f6fafc"/>
<rect x="76.6" y="1065.9" width="54.0" height="14.0" fill="#d1e6f1"/>
<rect x="130.0" y="1065.9" width="14.0" height="14.0" fill="#e3eff6"/>
<rect x="143.4" y="1065.9" width="14.0" height="14.0" fill="#fbfdfe"/>
<rect x="156.7" y="1065.9" width="14.0" height="14.0" fill="#9fcae2"/>
<rect x="170.1" y="1065.9" width="14.0" height="14.0" fill="#f1f8fb"/>
<rect x="183.5" y="1065.9" width="14.0" height="14.0" fill="#ecf5f9"/>
<rect x="196.9" y="1065.9" width="14.0" height="14.0" fill="#f3f9fb"/>
<rect x="210.3" y="1065.9" width="14.0" height="14.0" fill="#f7e1cf"/>
<rect x="223.6" y="1065.9" width="14.0" height="14.0" fill="#fdf8f5"/>
<rect x="237.0" y="1065.9" width="14.0" height="14.0" fill="#fdf8f3"/>
<rect x="250.4" y="1065.9" width="14.0" height="14.0" fill="#fbf1e8"/>
<rect x="263.8" y="1065.9" width="14.0" height="14.0" fill="#f9e7d9"/>
<rect x="277.2" y="1065.9" width="14.0" height="14.0" fill="#fefcfb"/>
<rect x="290.6" y="1065.9" width="14.0" height="14.0" fill="#fef9f6"/>
<rect x="303.9" y="1065.9" width="14.0" height="14.0" fill="#dbebf4"/>
<rect x="317.3" y="1065.9" width="14.0" height="14.0" fill="#daeaf4"/>
<rect x="330.7" y="1065.9" width="14.0" height="14.0" fill="#fcf4ee"/>
<rect x="344.1" y="1065.9" width="14.0" height="14.0" fill="#f9fbfd"/>
<rect x="357.5" y="1065.9" width="14.0" height="14.0" fill="#f8fbfd"/>
<rect x="370.8" y="1065.9" width="14.0" height="14.0" fill="#f4f9fc"/>
<rect x="384.2" y="1065.9" width="14.0" height="14.0" fill="#fcf5ef"/>
<rect x="397.6" y="1065.9" width="14.0" height="14.0" fill="#fcf5f0"/>
<rect x="411.0" y="1065.9" width="14.0" height="14.0" fill="#fcf3ec"/>
<rect x="424.4" y="1065.9" width="14.0" height="14.0" fill="#fefbf8"/>
<rect x="437.8" y="1065.9" width="14.0" height="14.0" fill="#fef9f6"/>
<rect x="451.1" y="1065.9" width="14.0" height="14.0" fill="#fdf8f4"/>
<rect x="464.5" y="1065.9" width="14.0" height="14.0" fill="#f8fbfd"/>
<rect x="477.9" y="1065.9" width="14.0" height="14.0" fill="#f2f8fb"/>
<rect x="491.3" y="1065.9" width="14.0" height="14.0" fill="#eef6fa"/>
<rect x="504.7" y="1065.9" width="14.0" height="14.0" fill="#e2eff6"/>
<rect x="518.0" y="1065.9" width="14.0" height="14.0" fill="#edf5fa"/>
<rect x="531.4" y="1065.9" width="54.0" height="14.0" fill="#f7e0cf"/>
<rect x="76.6" y="1079.3" width="54.0" height="14.0" fill="#fbf0e8"/>
<rect x="130.0" y="1079.3" width="14.0" height="14.0" fill="#fef9f6"/>
<rect x="143.4" y="1079.3" width="14.0" height="14.0" fill="#dbebf4"/>
<rect x="156.7" y="1079.3" width="14.0" height="14.0" fill="#deedf5"/>
<rect x="170.1" y="1079.3" width="14.0" height="14.0" fill="#f8e4d5"/>
<rect x="183.5" y="1079.3" width="14.0" height="14.0" fill="#fdf8f3"/>
<rect x="196.9" y="1079.3" width="14.0" height="14.0" fill="#add2e6"/>
<rect x="210.3" y="1079.3" width="14.0" height="14.0" fill="#fffefe"/>
<rect x="223.6" y="1079.3" width="14.0" height="14.0" fill="#fafcfd"/>
<rect x="237.0" y="1079.3" width="14.0" height="14.0" fill="#fbf1e9"/>
<rect x="250.4" y="1079.3" width="14.0" height="14.0" fill="#faede3"/>
<rect x="263.8" y="1079.3" width="14.0" height="14.0" fill="#faeade"/>
<rect x="277.2" y="1079.3" width="14.0" height="14.0" fill="#f5d7c0"/>
<rect x="290.6" y="1079.3" width="14.0" height="14.0" fill="#f1f8fb"/>
<rect x="303.9" y="1079.3" width="14.0" height="14.0" fill="#dbebf4"/>
<rect x="317.3" y="1079.3" width="14.0" height="14.0" fill="#d4e7f2"/>
<rect x="330.7" y="1079.3" width="14.0" height="14.0" fill="#fdf8f5"/>
<rect x="344.1" y="1079.3" width="14.0" height="14.0" fill="#cbe2ef"/>
<rect x="357.5" y="1079.3" width="14.0" height="14.0" fill="#f4f9fc"/>
<rect x="370.8" y="1079.3" width="14.0" height="14.0" fill="#ffffff"/>
<rect x="384.2" y="1079.3" width="14.0" height="14.0" fill="#dfedf5"/>
<rect x="397.6" y="1079.3" width="14.0" height="14.0" fill="#d9eaf4"/>
<rect x="411.0" y="1079.3" width="14.0" height="14.0" fill="#d7e9f3"/>
<rect x="424.4" y="1079.3" width="14.0" height="14.0" fill="#d4e7f2"/>
<rect x="437.8" y="1079.3" width="14.0" height="14.0" fill="#e6f1f8"/>
<rect x="451.1" y="1079.3" width="14.0" height="14.0" fill="#eaf3f9"/>
<rect x="464.5" y="1079.3" width="14.0" height="14.0" fill="#fbf1ea"/>
<rect x="477.9" y="1079.3" width="14.0" height="14.0" fill="#fdf7f2"/>
<rect x="491.3" y="1079.3" width="14.0" height="14.0" fill="#f2f8fb"/>
<rect x="504.7" y="1079.3" width="14.0" height="14.0" fill="#c3deed"/>
<rect x="518.0" y="1079.3" width="14.0" height="14.0" fill="#eaf3f9"/>
<rect x="531.4" y="1079.3" width="54.0" height="14.0" fill="#fefbf9"/>
<rect x="76.6" y="1092.7" width="54.0" height="14.0" fill="#fdf9f5"/>
<rect x="130.0" y="1092.7" width="14.0" height="14.0" fill="#fcf5ef"/>
<rect x="143.4" y="1092.7" width="14.0" height="14.0" fill="#c7e0ee"/>
<rect x="156.7" y="1092.7" width="14.0" height="14.0" fill="#cbe2ef"/>
<rect x="170.1" y="1092.7" width="14.0" height="14.0" fill="#f2f8fb"/>
<rect x="183.5" y="1092.7" width="14.0" height="14.0" fill="#f4f9fc"/>
<rect x="196.9" y="1092.7" width="14.0" height="14.0" fill="#b6d6e9"/>
<rect x="210.3" y="1092.7" width="14.0" height="14.0" fill="#a9cfe5"/>
<rect x="223.6" y="1092.7" width="14.0" height="14.0" fill="#fcf5f0"/>
<rect x="237.0" y="1092.7" width="14.0" height="14.0" fill="#fdf6f0"/>
<rect x="250.4" y="1092.7" width="14.0" height="14.0" fill="#f7e1d0"/>
<rect x="263.8" y="1092.7" width="14.0" height="14.0" fill="#fefdfb"/>
<rect x="277.2" y="1092.7" width="14.0" height="14.0" fill="#eaf3f9"/>
<rect x="290.6" y="1092.7" width="14.0" height="14.0" fill="#ddecf5"/>
<rect x="303.9" y="1092.7" width="14.0" height="14.0" fill="#e9f3f8"/>
<rect x="317.3" y="1092.7" width="14.0" height="14.0" fill="#d7e9f3"/>
<rect x="330.7" y="1092.7" width="14.0" height="14.0" fill="#f9fcfd"/>
<rect x="344.1" y="1092.7" width="14.0" height="14.0" fill="#fdf9f6"/>
<rect x="357.5" y="1092.7" width="14.0" height="14.0" fill="#f3f8fb"/>
<rect x="370.8" y="1092.7" width="14.0" height="14.0" fill="#f5fafc"/>
<rect x="384.2" y="1092.7" width="14.0" height="14.0" fill="#f0f7fb"/>
<rect x="397.6" y="1092.7" width="14.0" height="14.0" fill="#fefdfb"/>
<rect x="411.0" y="1092.7" width="14.0" height="14.0" fill="#d3e7f2"/>
<rect x="424.4" y="1092.7" width="14.0" height="14.0" fill="#b8d8e9"/>
<rect x="437.8" y="1092.7" width="14.0" height="14.0" fill="#e0eef6"/>
<rect x="451.1" y="1092.7" width="14.0" height="14.0" fill="#d0e5f1"/>
<rect x="464.5" y="1092.7" width="14.0" height="14.0" fill="#f6fafc"/>
<rect x="477.9" y="1092.7" width="14.0" height="14.0" fill="#fbefe5"/>
<rect x="491.3" y="1092.7" width="14.0" height="14.0" fill="#fefbf9"/>
<rect x="504.7" y="1092.7" width="14.0" height="14.0" fill="#f5f9fc"/>
<rect x="518.0" y="1092.7" width="14.0" height="14.0" fill="#f0f7fa"/>
<rect x="531.4" y="1092.7" width="54.0" height="14.0" fill="#f3f8fb"/>
<rect x="76.6" y="1106.1" width="54.0" height="14.0" fill="#f0c6a5"/>
<rect x="130.0" y="1106.1" width="14.0" height="14.0" fill="#f2ceb1"/>
<rect x="143.4" y="1106.1" width="14.0" height="14.0" fill="#fdf8f4"/>
<rect x="156.7" y="1106.1" width="14.0" height="14.0" fill="#fdf9f5"/>
<rect x="170.1" y="1106.1" width="14.0" height="14.0" fill="#fffffe"/>
<rect x="183.5" y="1106.1" width="14.0" height="14.0" fill="#fdf9f5"/>
<rect x="196.9" y="1106.1" width="14.0" height="14.0" fill="#faede2"/>
<rect x="210.3" y="1106.1" width="14.0" height="14.0" fill="#fbf0e7"/>
<rect x="223.6" y="1106.1" width="14.0" height="14.0" fill="#fcfefe"/>
<rect x="237.0" y="1106.1" width="14.0" height="14.0" fill="#fcf4ee"/>
<rect x="250.4" y="1106.1" width="14.0" height="14.0" fill="#f6fafc"/>
<rect x="263.8" y="1106.1" width="14.0" height="14.0" fill="#fdf6f1"/>
<rect x="277.2" y="1106.1" width="14.0" height="14.0" fill="#cee4f0"/>
<rect x="290.6" y="1106.1" width="14.0" height="14.0" fill="#ddecf5"/>
<rect x="303.9" y="1106.1" width="14.0" height="14.0" fill="#ffffff"/>
<rect x="317.3" y="1106.1" width="14.0" height="14.0" fill="#eef6fa"/>
<rect x="330.7" y="1106.1" width="14.0" height="14.0" fill="#fbf1e9"/>
<rect x="344.1" y="1106.1" width="14.0" height="14.0" fill="#fcf3ec"/>
<rect x="357.5" y="1106.1" width="14.0" height="14.0" fill="#eef6fa"/>
<rect x="370.8" y="1106.1" width="14.0" height="14.0" fill="#fefeff"/>
<rect x="384.2" y="1106.1" width="14.0" height="14.0" fill="#fbeee4"/>
<rect x="397.6" y="1106.1" width="14.0" height="14.0" fill="#f3f9fb"/>
<rect x="411.0" y="1106.1" width="14.0" height="14.0" fill="#f7fbfd"/>
<rect x="424.4" y="1106.1" width="14.0" height="14.0" fill="#f3f9fb"/>
<rect x="437.8" y="1106.1" width="14.0" height="14.0" fill="#f5fafc"/>
<rect x="451.1" y="1106.1" width="14.0" height="14.0" fill="#e7f1f8"/>
<rect x="464.5" y="1106.1" width="14.0" height="14.0" fill="#e6f1f7"/>
<rect x="477.9" y="1106.1" width="14.0" height="14.0" fill="#e0eef6"/>
<rect x="491.3" y="1106.1" width="14.0" height="14.0" fill="#fefcfb"/>
<rect x="504.7" y="1106.1" width="14.0" height="14.0" fill="#f8fbfd"/>
<rect x="518.0" y="1106.1" width="14.0" height="14.0" fill="#ffffff"/>
<rect x="531.4" y="1106.1" width="54.0" height="14.0" fill="#fcf3ec"/>
<rect x="76.6" y="1119.5" width="54.0" height="14.0" fill="#f4d4ba"/>
<rect x="130.0" y="1119.5" width="14.0" height="14.0" fill="#f3d2b8"/>
<rect x="143.4" y="1119.5" width="14.0" height="14.0" fill="#f3f8fb"/>
<rect x="156.7" y="1119.5" width="14.0" height="14.0" fill="#faece0"/>
<rect x="170.1" y="1119.5" width="14.0" height="14.0" fill="#fdf7f3"/>
<rect x="183.5" y="1119.5" width="14.0" height="14.0" fill="#fdf8f3"/>
<rect x="196.9" y="1119.5" width="14.0" height="14.0" fill="#faece1"/>
<rect x="210.3" y="1119.5" width="14.0" height="14.0" fill="#fbf0e8"/>
<rect x="223.6" y="1119.5" width="14.0" height="14.0" fill="#fdf6f1"/>
<rect x="237.0" y="1119.5" width="14.0" height="14.0" fill="#fefaf7"/>
<rect x="250.4" y="1119.5" width="14.0" height="14.0" fill="#fcfefe"/>
<rect x="263.8" y="1119.5" width="14.0" height="14.0" fill="#fffffe"/>
<rect x="277.2" y="1119.5" width="14.0" height="14.0" fill="#f8e3d2"/>
<rect x="290.6" y="1119.5" width="14.0" height="14.0" fill="#e6f1f7"/>
<rect x="303.9" y="1119.5" width="14.0" height="14.0" fill="#feffff"/>
<rect x="317.3" y="1119.5" width="14.0" height="14.0" fill="#f8fbfd"/>
<rect x="330.7" y="1119.5" width="14.0" height="14.0" fill="#f7fafd"/>
<rect x="344.1" y="1119.5" width="14.0" height="14.0" fill="#fcf2eb"/>
<rect x="357.5" y="1119.5" width="14.0" height="14.0" fill="#fbfdfe"/>
<rect x="370.8" y="1119.5" width="14.0" height="14.0" fill="#f5fafc"/>
<rect x="384.2" y="1119.5" width="14.0" height="14.0" fill="#fcf4ee"/>
<rect x="397.6" y="1119.5" width="14.0" height="14.0" fill="#fefaf7"/>
<rect x="411.0" y="1119.5" width="14.0" height="14.0" fill="#f3f9fb"/>
<rect x="424.4" y="1119.5" width="14.0" height="14.0" fill="#ffffff"/>
<rect x="437.8" y="1119.5" width="14.0" height="14.0" fill="#eff6fa"/>
<rect x="451.1" y="1119.5" width="14.0" height="14.0" fill="#f1f7fb"/>
<rect x="464.5" y="1119.5" width="14.0" height="14.0" fill="#e7f1f8"/>
<rect x="477.9" y="1119.5" width="14.0" height="14.0" fill="#ebf4f9"/>
<rect x="491.3" y="1119.5" width="14.0" height="14.0" fill="#e0eef6"/>
<rect x="504.7" y="1119.5" width="14.0" height="14.0" fill="#f1f7fb"/>
<rect x="518.0" y="1119.5" width="14.0" height="14.0" fill="#f4f9fc"/>
<rect x="531.4" y="1119.5" width="54.0" height="14.0" fill="#fdf8f4"/>
<rect x="76.6" y="1132.9" width="54.0" height="14.0" fill="#f9eade"/>
<rect x="130.0" y="1132.9" width="14.0" height="14.0" fill="#f7dfcc"/>
<rect x="143.4" y="1132.9" width="14.0" height="14.0" fill="#fcf3ec"/>
<rect x="156.7" y="1132.9" width="14.0" height="14.0" fill="#fbfdfe"/>
<rect x="170.1" y="1132.9" width="14.0" height="14.0" fill="#fefdfc"/>
<rect x="183.5" y="1132.9" width="14.0" height="14.0" fill="#fdf7f2"/>
<rect x="196.9" y="1132.9" width="14.0" height="14.0" fill="#fdf8f4"/>
<rect x="210.3" y="1132.9" width="14.0" height="14.0" fill="#fdfefe"/>
<rect x="223.6" y="1132.9" width="14.0" height="14.0" fill="#fefbf9"/>
<rect x="237.0" y="1132.9" width="14.0" height="14.0" fill="#fbefe5"/>
<rect x="250.4" y="1132.9" width="14.0" height="14.0" fill="#fcfdfe"/>
<rect x="263.8" y="1132.9" width="14.0" height="14.0" fill="#fcfefe"/>
<rect x="277.2" y="1132.9" width="14.0" height="14.0" fill="#e7f2f8"/>
<rect x="290.6" y="1132.9" width="14.0" height="14.0" fill="#f8fbfd"/>
<rect x="303.9" y="1132.9" width="14.0" height="14.0" fill="#e4f0f7"/>
<rect x="317.3" y="1132.9" width="14.0" height="14.0" fill="#e6f1f7"/>
<rect x="330.7" y="1132.9" width="14.0" height="14.0" fill="#fcf5ef"/>
<rect x="344.1" y="1132.9" width="14.0" height="14.0" fill="#f4f9fc"/>
<rect x="357.5" y="1132.9" width="14.0" height="14.0" fill="#f7fbfd"/>
<rect x="370.8" y="1132.9" width="14.0" height="14.0" fill="#fdfefe"/>
<rect x="384.2" y="1132.9" width="14.0" height="14.0" fill="#fdf6f1"/>
<rect x="397.6" y="1132.9" width="14.0" height="14.0" fill="#fcf4ed"/>
<rect x="411.0" y="1132.9" width="14.0" height="14.0" fill="#f9e8db"/>
<rect x="424.4" y="1132.9" width="14.0" height="14.0" fill="#fffffe"/>
<rect x="437.8" y="1132.9" width="14.0" height="14.0" fill="#e2eff6"/>
<rect x="451.1" y="1132.9" width="14.0" height="14.0" fill="#d8e9f3"/>
<rect x="464.5" y="1132.9" width="14.0" height="14.0" fill="#fffffe"/>
<rect x="477.9" y="1132.9" width="14.0" height="14.0" fill="#fcf3ec"/>
<rect x="491.3" y="1132.9" width="14.0" height="14.0" fill="#fdf7f3"/>
<rect x="504.7" y="1132.9" width="14.0" height="14.0" fill="#f3f8fb"/>
<rect x="518.0" y="1132.9" width="14.0" height="14.0" fill="#e9f3f8"/>
<rect x="531.4" y="1132.9" width="54.0" height="14.0" fill="#eef5fa"/>
<rect x="76.6" y="1146.3" width="54.0" height="14.0" fill="#f7e1d0"/>
<rect x="130.0" y="1146.3" width="14.0" height="14.0" fill="#f8e5d6"/>
<rect x="143.4" y="1146.3" width="14.0" height="14.0" fill="#fffdfc"/>
<rect x="156.7" y="1146.3" width="14.0" height="14.0" fill="#fefdfb"/>
<rect x="170.1" y="1146.3" width="14.0" height="14.0" fill="#fefaf8"/>
<rect x="183.5" y="1146.3" width="14.0" height="14.0" fill="#fdf9f5"/>
<rect x="196.9" y="1146.3" width="14.0" height="14.0" fill="#fdf6f1"/>
<rect x="210.3" y="1146.3" width="14.0" height="14.0" fill="#fdf9f5"/>
<rect x="223.6" y="1146.3" width="14.0" height="14.0" fill="#fefbf9"/>
<rect x="237.0" y="1146.3" width="14.0" height="14.0" fill="#fbf0e7"/>
<rect x="250.4" y="1146.3" width="14.0" height="14.0" fill="#fefaf7"/>
<rect x="263.8" y="1146.3" width="14.0" height="14.0" fill="#fffffe"/>
<rect x="277.2" y="1146.3" width="14.0" height="14.0" fill="#dfedf5"/>
<rect x="290.6" y="1146.3" width="14.0" height="14.0" fill="#f9fcfd"/>
<rect x="303.9" y="1146.3" width="14.0" height="14.0" fill="#dbebf4"/>
<rect x="317.3" y="1146.3" width="14.0" height="14.0" fill="#e2eff6"/>
<rect x="330.7" y="1146.3" width="14.0" height="14.0" fill="#fdf8f4"/>
<rect x="344.1" y="1146.3" width="14.0" height="14.0" fill="#fef9f6"/>
<rect x="357.5" y="1146.3" width="14.0" height="14.0" fill="#e8f2f8"/>
<rect x="370.8" y="1146.3" width="14.0" height="14.0" fill="#d3e7f2"/>
<rect x="384.2" y="1146.3" width="14.0" height="14.0" fill="#fefbf9"/>
<rect x="397.6" y="1146.3" width="14.0" height="14.0" fill="#fffefd"/>
<rect x="411.0" y="1146.3" width="14.0" height="14.0" fill="#fcf3ec"/>
<rect x="424.4" y="1146.3" width="14.0" height="14.0" fill="#f8e6d7"/>
<rect x="437.8" y="1146.3" width="14.0" height="14.0" fill="#ecf5f9"/>
<rect x="451.1" y="1146.3" width="14.0" height="14.0" fill="#dfeef5"/>
<rect x="464.5" y="1146.3" width="14.0" height="14.0" fill="#f0f7fa"/>
<rect x="477.9" y="1146.3" width="14.0" height="14.0" fill="#feffff"/>
<rect x="491.3" y="1146.3" width="14.0" height="14.0" fill="#fdfefe"/>
<rect x="504.7" y="1146.3" width="14.0" height="14.0" fill="#f0f7fb"/>
<rect x="518.0" y="1146.3" width="14.0" height="14.0" fill="#f6fafc"/>
<rect x="531.4" y="1146.3" width="54.0" height="14.0" fill="#e6f1f7"/>
<rect x="76.6" y="1159.7" width="54.0" height="14.0" fill="#edf5f9"/>
<rect x="130.0" y="1159.7" width="14.0" height="14.0" fill="#ecf5f9"/>
<rect x="143.4" y="1159.7" width="14.0" height="14.0" fill="#ecf5f9"/>
<rect x="156.7" y="1159.7" width="14.0" height="14.0" fill="#d8eaf3"/>
<rect x="170.1" y="1159.7" width="14.0" height="14.0" fill="#f9e6d8"/>
<rect x="183.5" y="1159.7" width="14.0" height="14.0" fill="#faece0"/>
<rect x="196.9" y="1159.7" width="14.0" height="14.0" fill="#fafcfe"/>
<rect x="210.3" y="1159.7" width="14.0" height="14.0" fill="#fbfdfe"/>
<rect x="223.6" y="1159.7" width="14.0" height="14.0" fill="#eef6fa"/>
<rect x="237.0" y="1159.7" width="14.0" height="14.0" fill="#edf5f9"/>
<rect x="250.4" y="1159.7" width="14.0" height="14.0" fill="#feffff"/>
<rect x="263.8" y="1159.7" width="14.0" height="14.0" fill="#f2f8fb"/>
<rect x="277.2" y="1159.7" width="14.0" height="14.0" fill="#fffdfc"/>
<rect x="290.6" y="1159.7" width="14.0" height="14.0" fill="#fdf7f2"/>
<rect x="303.9" y="1159.7" width="14.0" height="14.0" fill="#deedf5"/>
<rect x="317.3" y="1159.7" width="14.0" height="14.0" fill="#eaf3f9"/>
<rect x="330.7" y="1159.7" width="14.0" height="14.0" fill="#f6fafc"/>
<rect x="344.1" y="1159.7" width="14.0" height="14.0" fill="#f9fcfd"/>
<rect x="357.5" y="1159.7" width="14.0" height="14.0" fill="#eff6fa"/>
<rect x="370.8" y="1159.7" width="14.0" height="14.0" fill="#fffefd"/>
<rect x="384.2" y="1159.7" width="14.0" height="14.0" fill="#fbf0e7"/>
<rect x="397.6" y="1159.7" width="14.0" height="14.0" fill="#fefbf9"/>
<rect x="411.0" y="1159.7" width="14.0" height="14.0" fill="#fefeff"/>
<rect x="424.4" y="1159.7" width="14.0" height="14.0" fill="#fcf2ea"/>
<rect x="437.8" y="1159.7" width="14.0" height="14.0" fill="#e4f0f7"/>
<rect x="451.1" y="1159.7" width="14.0" height="14.0" fill="#c6e0ee"/>
<rect x="464.5" y="1159.7" width="14.0" height="14.0" fill="#fcf4ee"/>
<rect x="477.9" y="1159.7" width="14.0" height="14.0" fill="#fefaf7"/>
<rect x="491.3" y="1159.7" width="14.0" height="14.0" fill="#faede3"/>
<rect x="504.7" y="1159.7" width="14.0" height="14.0" fill="#fefbf9"/>
<rect x="518.0" y="1159.7" width="14.0" height="14.0" fill="#fbfdfe"/>
<rect x="531.4" y="1159.7" width="54.0" height="14.0" fill="#f1f7fb"/>
<rect x="76.6" y="1173.1" width="54.0" height="14.0" fill="#ffffff"/>
<rect x="130.0" y="1173.1" width="14.0" height="14.0" fill="#dcecf5"/>
<rect x="143.4" y="1173.1" width="14.0" height="14.0" fill="#f3f8fb"/>
<rect x="156.7" y="1173.1" width="14.0" height="14.0" fill="#bddbeb"/>
<rect x="170.1" y="1173.1" width="14.0" height="14.0" fill="#f9e9dc"/>
<rect x="183.5" y="1173.1" width="14.0" height="14.0" fill="#fdf8f4"/>
<rect x="196.9" y="1173.1" width="14.0" height="14.0" fill="#fafcfe"/>
<rect x="210.3" y="1173.1" width="14.0" height="14.0" fill="#fdf7f3"/>
<rect x="223.6" y="1173.1" width="14.0" height="14.0" fill="#eff6fa"/>
<rect x="237.0" y="1173.1" width="14.0" height="14.0" fill="#fdf6f1"/>
<rect x="250.4" y="1173.1" width="14.0" height="14.0" fill="#fefbf9"/>
<rect x="263.8" y="1173.1" width="14.0" height="14.0" fill="#e7f2f8"/>
<rect x="277.2" y="1173.1" width="14.0" height="14.0" fill="#f9fbfd"/>
<rect x="290.6" y="1173.1" width="14.0" height="14.0" fill="#f9fcfd"/>
<rect x="303.9" y="1173.1" width="14.0" height="14.0" fill="#f4f9fc"/>
<rect x="317.3" y="1173.1" width="14.0" height="14.0" fill="#edf5fa"/>
<rect x="330.7" y="1173.1" width="14.0" height="14.0" fill="#eaf3f9"/>
<rect x="344.1" y="1173.1" width="14.0" height="14.0" fill="#f0f7fb"/>
<rect x="357.5" y="1173.1" width="14.0" height="14.0" fill="#e7f2f8"/>
<rect x="370.8" y="1173.1" width="14.0" height="14.0" fill="#e4f0f7"/>
<rect x="384.2" y="1173.1" width="14.0" height="14.0" fill="#fcf2ea"/>
<rect x="397.6" y="1173.1" width="14.0" height="14.0" fill="#faeade"/>
<rect x="411.0" y="1173.1" width="14.0" height="14.0" fill="#f6fafc"/>
<rect x="424.4" y="1173.1" width="14.0" height="14.0" fill="#fdf8f4"/>
<rect x="437.8" y="1173.1" width="14.0" height="14.0" fill="#d6e8f3"/>
<rect x="451.1" y="1173.1" width="14.0" height="14.0" fill="#d2e6f1"/>
<rect x="464.5" y="1173.1" width="14.0" height="14.0" fill="#fdf8f4"/>
<rect x="477.9" y="1173.1" width="14.0" height="14.0" fill="#f8fbfd"/>
<rect x="491.3" y="1173.1" width="14.0" height="14.0" fill="#faece1"/>
<rect x="504.7" y="1173.1" width="14.0" height="14.0" fill="#fffefe"/>
<rect x="518.0" y="1173.1" width="14.0" height="14.0" fill="#fefcfa"/>
<rect x="531.4" y="1173.1" width="54.0" height="14.0" fill="#fcfdfe"/>
<rect x="76.6" y="1186.5" width="54.0" height="14.0" fill="#ebf4f9"/>
<rect x="130.0" y="1186.5" width="14.0" height="14.0" fill="#fcfdfe"/>
<rect x="143.4" y="1186.5" width="14.0" height="14.0" fill="#e7f2f8"/>
<rect x="156.7" y="1186.5" width="14.0" height="14.0" fill="#f1f7fb"/>
<rect x="170.1" y="1186.5" width="14.0" height="14.0" fill="#fcf2ea"/>
<rect x="183.5" y="1186.5" width="14.0" height="14.0" fill="#fefaf7"/>
<rect x="196.9" y="1186.5" width="14.0" height="14.0" fill="#fefeff"/>
<rect x="210.3" y="1186.5" width="14.0" height="14.0" fill="#fffffe"/>
<rect x="223.6" y="1186.5" width="14.0" height="14.0" fill="#fffefe"/>
<rect x="237.0" y="1186.5" width="14.0" height="14.0" fill="#e9f3f8"/>
<rect x="250.4" y="1186.5" width="14.0" height="14.0" fill="#feffff"/>
<rect x="263.8" y="1186.5" width="14.0" height="14.0" fill="#e9f3f8"/>
<rect x="277.2" y="1186.5" width="14.0" height="14.0" fill="#fefaf7"/>
<rect x="290.6" y="1186.5" width="14.0" height="14.0" fill="#f1f7fb"/>
<rect x="303.9" y="1186.5" width="14.0" height="14.0" fill="#e8f2f8"/>
<rect x="317.3" y="1186.5" width="14.0" height="14.0" fill="#feffff"/>
<rect x="330.7" y="1186.5" width="14.0" height="14.0" fill="#fefdfc"/>
<rect x="344.1" y="1186.5" width="14.0" height="14.0" fill="#a7cee4"/>
<rect x="357.5" y="1186.5" width="14.0" height="14.0" fill="#d1e5f1"/>
<rect x="370.8" y="1186.5" width="14.0" height="14.0" fill="#d5e8f2"/>
<rect x="384.2" y="1186.5" width="14.0" height="14.0" fill="#e6f1f7"/>
<rect x="397.6" y="1186.5" width="14.0" height="14.0" fill="#f9fcfd"/>
<rect x="411.0" y="1186.5" width="14.0" height="14.0" fill="#f5f9fc"/>
<rect x="424.4" y="1186.5" width="14.0" height="14.0" fill="#f6fafc"/>
<rect x="437.8" y="1186.5" width="14.0" height="14.0" fill="#fcfdfe"/>
<rect x="451.1" y="1186.5" width="14.0" height="14.0" fill="#ebf4f9"/>
<rect x="464.5" y="1186.5" width="14.0" height="14.0" fill="#f7e0ce"/>
<rect x="477.9" y="1186.5" width="14.0" height="14.0" fill="#faece0"/>
<rect x="491.3" y="1186.5" width="14.0" height="14.0" fill="#c1ddec"/>
<rect x="504.7" y="1186.5" width="14.0" height="14.0" fill="#e8f2f8"/>
<rect x="518.0" y="1186.5" width="14.0" height="14.0" fill="#fbf0e7"/>
<rect x="531.4" y="1186.5" width="54.0" height="14.0" fill="#fbfdfe"/>
<rect x="76.6" y="1199.9" width="54.0" height="14.0" fill="#f7fbfd"/>
<rect x="130.0" y="1199.9" width="14.0" height="14.0" fill="#f4f9fc"/>
<rect x="143.4" y="1199.9" width="14.0" height="14.0" fill="#ebf4f9"/>
<rect x="156.7" y="1199.9" width="14.0" height="14.0" fill="#eaf3f9"/>
<rect x="170.1" y="1199.9" width="14.0" height="14.0" fill="#f7e2d1"/>
<rect x="183.5" y="1199.9" width="14.0" height="14.0" fill="#fefaf7"/>
<rect x="196.9" y="1199.9" width="14.0" height="14.0" fill="#ebf4f9"/>
<rect x="210.3" y="1199.9" width="14.0" height="14.0" fill="#f2f8fb"/>
<rect x="223.6" y="1199.9" width="14.0" height="14.0" fill="#e3f0f7"/>
<rect x="237.0" y="1199.9" width="14.0" height="14.0" fill="#fefeff"/>
<rect x="250.4" y="1199.9" width="14.0" height="14.0" fill="#fdf8f5"/>
<rect x="263.8" y="1199.9" width="14.0" height="14.0" fill="#f3f8fb"/>
<rect x="277.2" y="1199.9" width="14.0" height="14.0" fill="#edf5fa"/>
<rect x="290.6" y="1199.9" width="14.0" height="14.0" fill="#fafcfe"/>
<rect x="303.9" y="1199.9" width="14.0" height="14.0" fill="#fcf4ed"/>
<rect x="317.3" y="1199.9" width="14.0" height="14.0" fill="#dbebf4"/>
<rect x="330.7" y="1199.9" width="14.0" height="14.0" fill="#fbfdfe"/>
<rect x="344.1" y="1199.9" width="14.0" height="14.0" fill="#e7f1f8"/>
<rect x="357.5" y="1199.9" width="14.0" height="14.0" fill="#ecf4f9"/>
<rect x="370.8" y="1199.9" width="14.0" height="14.0" fill="#d1e5f1"/>
<rect x="384.2" y="1199.9" width="14.0" height="14.0" fill="#f0f7fb"/>
<rect x="397.6" y="1199.9" width="14.0" height="14.0" fill="#e1eef6"/>
<rect x="411.0" y="1199.9" width="14.0" height="14.0" fill="#f3f8fb"/>
<rect x="424.4" y="1199.9" width="14.0" height="14.0" fill="#fcf4ed"/>
<rect x="437.8" y="1199.9" width="14.0" height="14.0" fill="#faebe0"/>
<rect x="451.1" y="1199.9" width="14.0" height="14.0" fill="#eff6fa"/>
<rect x="464.5" y="1199.9" width="14.0" height="14.0" fill="#faebdf"/>
<rect x="477.9" y="1199.9" width="14.0" height="14.0" fill="#fcf3ec"/>
<rect x="491.3" y="1199.9" width="14.0" height="14.0" fill="#fafcfd"/>
<rect x="504.7" y="1199.9" width="14.0" height="14.0" fill="#feffff"/>
<rect x="518.0" y="1199.9" width="14.0" height="14.0" fill="#fefeff"/>
<rect x="531.4" y="1199.9" width="54.0" height="14.0" fill="#fefeff"/>
<rect x="76.6" y="1213.4" width="54.0" height="14.0" fill="#e6f1f7"/>
<rect x="130.0" y="1213.4" width="14.0" height="14.0" fill="#f3f9fb"/>
<rect x="143.4" y="1213.4" width="14.0" height="14.0" fill="#fdf8f5"/>
<rect x="156.7" y="1213.4" width="14.0" height="14.0" fill="#f2cfb2"/>
<rect x="170.1" y="1213.4" width="14.0" height="14.0" fill="#f9e9dc"/>
<rect x="183.5" y="1213.4" width="14.0" height="14.0" fill="#fdf9f6"/>
<rect x="196.9" y="1213.4" width="14.0" height="14.0" fill="#fffefe"/>
<rect x="210.3" y="1213.4" width="14.0" height="14.0" fill="#fdf9f5"/>
<rect x="223.6" y="1213.4" width="14.0" height="14.0" fill="#f7fbfd"/>
<rect x="237.0" y="1213.4" width="14.0" height="14.0" fill="#f6fafc"/>
<rect x="250.4" y="1213.4" width="14.0" height="14.0" fill="#f4f9fc"/>
<rect x="263.8" y="1213.4" width="14.0" height="14.0" fill="#e7f2f8"/>
<rect x="277.2" y="1213.4" width="14.0" height="14.0" fill="#e6f1f8"/>
<rect x="290.6" y="1213.4" width="14.0" height="14.0" fill="#ddecf5"/>
<rect x="303.9" y="1213.4" width="14.0" height="14.0" fill="#d7e9f3"/>
<rect x="317.3" y="1213.4" width="14.0" height="14.0" fill="#d1e6f1"/>
<rect x="330.7" y="1213.4" width="14.0" height="14.0" fill="#e0eef6"/>
<rect x="344.1" y="1213.4" width="14.0" height="14.0" fill="#ddecf5"/>
<rect x="357.5" y="1213.4" width="14.0" height="14.0" fill="#fcf3ec"/>
<rect x="370.8" y="1213.4" width="14.0" height="14.0" fill="#fdf6f0"/>
<rect x="384.2" y="1213.4" width="14.0" height="14.0" fill="#fdf6f1"/>
<rect x="397.6" y="1213.4" width="14.0" height="14.0" fill="#fdf8f4"/>
<rect x="411.0" y="1213.4" width="14.0" height="14.0" fill="#f8fbfd"/>
<rect x="424.4" y="1213.4" width="14.0" height="14.0" fill="#fdf8f3"/>
<rect x="437.8" y="1213.4" width="14.0" height="14.0" fill="#fefcfa"/>
<rect x="451.1" y="1213.4" width="14.0" height="14.0" fill="#fdf6f1"/>
<rect x="464.5" y="1213.4" width="14.0" height="14.0" fill="#fbfdfe"/>
<rect x="477.9" y="1213.4" width="14.0" height="14.0" fill="#e4f0f7"/>
<rect x="491.3" y="1213.4" width="14.0" height="14.0" fill="#ebf4f9"/>
<rect x="504.7" y="1213.4" width="14.0" height="14.0" fill="#f1f7fb"/>
<rect x="518.0" y="1213.4" width="14.0" height="14.0" fill="#fef9f6"/>
<rect x="531.4" y="1213.4" width="54.0" height="14.0" fill="#fefcfa"/>
<rect x="76.6" y="1226.8" width="54.0" height="14.0" fill="#eff6fa"/>
<rect x="130.0" y="1226.8" width="14.0" height="14.0" fill="#e8f2f8"/>
<rect x="143.4" y="1226.8" width="14.0" height="14.0" fill="#fefaf8"/>
<rect x="156.7" y="1226.8" width="14.0" height="14.0" fill="#fefdfb"/>
<rect x="170.1" y="1226.8" width="14.0" height="14.0" fill="#fcf5ef"/>
<rect x="183.5" y="1226.8" width="14.0" height="14.0" fill="#fafcfe"/>
<rect x="196.9" y="1226.8" width="14.0" height="14.0" fill="#fdf6f1"/>
<rect x="210.3" y="1226.8" width="14.0" height="14.0" fill="#fdf7f2"/>
<rect x="223.6" y="1226.8" width="14.0" height="14.0" fill="#fdfefe"/>
<rect x="237.0" y="1226.8" width="14.0" height="14.0" fill="#f9fcfd"/>
<rect x="250.4" y="1226.8" width="14.0" height="14.0" fill="#fbfdfe"/>
<rect x="263.8" y="1226.8" width="14.0" height="14.0" fill="#dfedf5"/>
<rect x="277.2" y="1226.8" width="14.0" height="14.0" fill="#e4f0f7"/>
<rect x="290.6" y="1226.8" width="14.0" height="14.0" fill="#e2eff6"/>
<rect x="303.9" y="1226.8" width="14.0" height="14.0" fill="#d7e9f3"/>
<rect x="317.3" y="1226.8" width="14.0" height="14.0" fill="#d8eaf3"/>
<rect x="330.7" y="1226.8" width="14.0" height="14.0" fill="#e1eef6"/>
<rect x="344.1" y="1226.8" width="14.0" height="14.0" fill="#e6f1f7"/>
<rect x="357.5" y="1226.8" width="14.0" height="14.0" fill="#faece1"/>
<rect x="370.8" y="1226.8" width="14.0" height="14.0" fill="#fbeee4"/>
<rect x="384.2" y="1226.8" width="14.0" height="14.0" fill="#fdf6f1"/>
<rect x="397.6" y="1226.8" width="14.0" height="14.0" fill="#f7fafc"/>
<rect x="411.0" y="1226.8" width="14.0" height="14.0" fill="#fcf4ed"/>
<rect x="424.4" y="1226.8" width="14.0" height="14.0" fill="#fbefe5"/>
<rect x="437.8" y="1226.8" width="14.0" height="14.0" fill="#f9e9dd"/>
<rect x="451.1" y="1226.8" width="14.0" height="14.0" fill="#fbefe6"/>
<rect x="464.5" y="1226.8" width="14.0" height="14.0" fill="#ebf4f9"/>
<rect x="477.9" y="1226.8" width="14.0" height="14.0" fill="#fdf7f3"/>
<rect x="491.3" y="1226.8" width="14.0" height="14.0" fill="#e8f2f8"/>
<rect x="504.7" y="1226.8" width="14.0" height="14.0" fill="#c9e1ef"/>
<rect x="518.0" y="1226.8" width="14.0" height="14.0" fill="#fcf5ef"/>
<rect x="531.4" y="1226.8" width="54.0" height="14.0" fill="#f7fafd"/>
<rect x="76.6" y="1240.2" width="54.0" height="14.0" fill="#d9eaf3"/>
<rect x="130.0" y="1240.2" width="14.0" height="14.0" fill="#e1eff6"/>
<rect x="143.4" y="1240.2" width="14.0" height="14.0" fill="#f9e7d9"/>
<rect x="156.7" y="1240.2" width="14.0" height="14.0" fill="#fcf4ee"/>
<rect x="170.1" y="1240.2" width="14.0" height="14.0" fill="#f8fbfd"/>
<rect x="183.5" y="1240.2" width="14.0" height="14.0" fill="#fdf8f4"/>
<rect x="196.9" y="1240.2" width="14.0" height="14.0" fill="#f8e4d5"/>
<rect x="210.3" y="1240.2" width="14.0" height="14.0" fill="#fcf2eb"/>
<rect x="223.6" y="1240.2" width="14.0" height="14.0" fill="#fefaf7"/>
<rect x="237.0" y="1240.2" width="14.0" height="14.0" fill="#fafcfd"/>
<rect x="250.4" y="1240.2" width="14.0" height="14.0" fill="#d6e8f3"/>
<rect x="263.8" y="1240.2" width="14.0" height="14.0" fill="#f4f9fc"/>
<rect x="277.2" y="1240.2" width="14.0" height="14.0" fill="#fcf5ef"/>
<rect x="290.6" y="1240.2" width="14.0" height="14.0" fill="#fdf7f3"/>
<rect x="303.9" y="1240.2" width="14.0" height="14.0" fill="#f9e9dd"/>
<rect x="317.3" y="1240.2" width="14.0" height="14.0" fill="#fdf8f3"/>
<rect x="330.7" y="1240.2" width="14.0" height="14.0" fill="#e9f3f8"/>
<rect x="344.1" y="1240.2" width="14.0" height="14.0" fill="#f3f8fb"/>
<rect x="357.5" y="1240.2" width="14.0" height="14.0" fill="#f7decb"/>
<rect x="370.8" y="1240.2" width="14.0" height="14.0" fill="#f9e9dc"/>
<rect x="384.2" y="1240.2" width="14.0" height="14.0" fill="#fcf5ef"/>
<rect x="397.6" y="1240.2" width="14.0" height="14.0" fill="#fefbf8"/>
<rect x="411.0" y="1240.2" width="14.0" height="14.0" fill="#fcf5ef"/>
<rect x="424.4" y="1240.2" width="14.0" height="14.0" fill="#fdfefe"/>
<rect x="437.8" y="1240.2" width="14.0" height="14.0" fill="#eaf3f9"/>
<rect x="451.1" y="1240.2" width="14.0" height="14.0" fill="#fefaf8"/>
<rect x="464.5" y="1240.2" width="14.0" height="14.0" fill="#fdf9f5"/>
<rect x="477.9" y="1240.2" width="14.0" height="14.0" fill="#fdf6f0"/>
<rect x="491.3" y="1240.2" width="14.0" height="14.0" fill="#ffffff"/>
<rect x="504.7" y="1240.2" width="14.0" height="14.0" fill="#fcf4ee"/>
<rect x="518.0" y="1240.2" width="14.0" height="14.0" fill="#edf5f9"/>
<rect x="531.4" y="1240.2" width="54.0" height="14.0" fill="#e9f3f8"/>
<rect x="76.6" y="1253.6" width="54.0" height="14.0" fill="#cde3f0"/>
<rect x="130.0" y="1253.6" width="14.0" height="14.0" fill="#e5f1f7"/>
<rect x="143.4" y="1253.6" width="14.0" height="14.0" fill="#faeade"/>
<rect x="156.7" y="1253.6" width="14.0" height="14.0" fill="#fbeee4"/>
<rect x="170.1" y="1253.6" width="14.0" height="14.0" fill="#ecf5f9"/>
<rect x="183.5" y="1253.6" width="14.0" height="14.0" fill="#f4f9fc"/>
<rect x="196.9" y="1253.6" width="14.0" height="14.0" fill="#faebe0"/>
<rect x="210.3" y="1253.6" width="14.0" height="14.0" fill="#f1f8fb"/>
<rect x="223.6" y="1253.6" width="14.0" height="14.0" fill="#fdf9f6"/>
<rect x="237.0" y="1253.6" width="14.0" height="14.0" fill="#fcf4ed"/>
<rect x="250.4" y="1253.6" width="14.0" height="14.0" fill="#e7f2f8"/>
<rect x="263.8" y="1253.6" width="14.0" height="14.0" fill="#f4f9fc"/>
<rect x="277.2" y="1253.6" width="14.0" height="14.0" fill="#f4d4ba"/>
<rect x="290.6" y="1253.6" width="14.0" height="14.0" fill="#fdf6f0"/>
<rect x="303.9" y="1253.6" width="14.0" height="14.0" fill="#fbefe6"/>
<rect x="317.3" y="1253.6" width="14.0" height="14.0" fill="#f5d8c1"/>
<rect x="330.7" y="1253.6" width="14.0" height="14.0" fill="#e2eff6"/>
<rect x="344.1" y="1253.6" width="14.0" height="14.0" fill="#e9f3f8"/>
<rect x="357.5" y="1253.6" width="14.0" height="14.0" fill="#faeade"/>
<rect x="370.8" y="1253.6" width="14.0" height="14.0" fill="#f7e2d0"/>
<rect x="384.2" y="1253.6" width="14.0" height="14.0" fill="#fffdfc"/>
<rect x="397.6" y="1253.6" width="14.0" height="14.0" fill="#fdf9f5"/>
<rect x="411.0" y="1253.6" width="14.0" height="14.0" fill="#fdf7f2"/>
<rect x="424.4" y="1253.6" width="14.0" height="14.0" fill="#faede3"/>
<rect x="437.8" y="1253.6" width="14.0" height="14.0" fill="#feffff"/>
<rect x="451.1" y="1253.6" width="14.0" height="14.0" fill="#fcf3ec"/>
<rect x="464.5" y="1253.6" width="14.0" height="14.0" fill="#fdfeff"/>
<rect x="477.9" y="1253.6" width="14.0" height="14.0" fill="#fefaf7"/>
<rect x="491.3" y="1253.6" width="14.0" height="14.0" fill="#fcf3ec"/>
<rect x="504.7" y="1253.6" width="14.0" height="14.0" fill="#faebdf"/>
<rect x="518.0" y="1253.6" width="14.0" height="14.0" fill="#fffdfc"/>
<rect x="531.4" y="1253.6" width="54.0" height="14.0" fill="#a7cee5"/>
<rect x="76.6" y="1267.0" width="54.0" height="14.0" fill="#feffff"/>
<rect x="130.0" y="1267.0" width="14.0" height="14.0" fill="#fdf6f0"/>
<rect x="143.4" y="1267.0" width="14.0" height="14.0" fill="#fffdfc"/>
<rect x="156.7" y="1267.0" width="14.0" height="14.0" fill="#f6fafc"/>
<rect x="170.1" y="1267.0" width="14.0" height="14.0" fill="#fbf0e7"/>
<rect x="183.5" y="1267.0" width="14.0" height="14.0" fill="#fcf4ee"/>
<rect x="196.9" y="1267.0" width="14.0" height="14.0" fill="#f7e1d0"/>
<rect x="210.3" y="1267.0" width="14.0" height="14.0" fill="#fcf5ef"/>
<rect x="223.6" y="1267.0" width="14.0" height="14.0" fill="#fffefd"/>
<rect x="237.0" y="1267.0" width="14.0" height="14.0" fill="#f1f7fb"/>
<rect x="250.4" y="1267.0" width="14.0" height="14.0" fill="#f7e2d1"/>
<rect x="263.8" y="1267.0" width="14.0" height="14.0" fill="#f1f7fb"/>
<rect x="277.2" y="1267.0" width="14.0" height="14.0" fill="#d4e7f2"/>
<rect x="290.6" y="1267.0" width="14.0" height="14.0" fill="#e1eff6"/>
<rect x="303.9" y="1267.0" width="14.0" height="14.0" fill="#ebf4f9"/>
<rect x="317.3" y="1267.0" width="14.0" height="14.0" fill="#fdfefe"/>
<rect x="330.7" y="1267.0" width="14.0" height="14.0" fill="#e2eff6"/>
<rect x="344.1" y="1267.0" width="14.0" height="14.0" fill="#d3e6f2"/>
<rect x="357.5" y="1267.0" width="14.0" height="14.0" fill="#fbf1e8"/>
<rect x="370.8" y="1267.0" width="14.0" height="14.0" fill="#fcf4ee"/>
<rect x="384.2" y="1267.0" width="14.0" height="14.0" fill="#fbf1e9"/>
<rect x="397.6" y="1267.0" width="14.0" height="14.0" fill="#fffdfc"/>
<rect x="411.0" y="1267.0" width="14.0" height="14.0" fill="#fefcfa"/>
<rect x="424.4" y="1267.0" width="14.0" height="14.0" fill="#fbeee5"/>
<rect x="437.8" y="1267.0" width="14.0" height="14.0" fill="#faede2"/>
<rect x="451.1" y="1267.0" width="14.0" height="14.0" fill="#fbefe6"/>
<rect x="464.5" y="1267.0" width="14.0" height="14.0" fill="#fffffe"/>
<rect x="477.9" y="1267.0" width="14.0" height="14.0" fill="#fffdfc"/>
<rect x="491.3" y="1267.0" width="14.0" height="14.0" fill="#faece1"/>
<rect x="504.7" y="1267.0" width="14.0" height="14.0" fill="#fdf9f6"/>
<rect x="518.0" y="1267.0" width="14.0" height="14.0" fill="#fcf2eb"/>
<rect x="531.4" y="1267.0" width="54.0" height="14.0" fill="#f9eadd"/>
<rect x="76.6" y="1280.4" width="54.0" height="14.0" fill="#fcf5ee"/>
<rect x="130.0" y="1280.4" width="14.0" height="14.0" fill="#ffffff"/>
<rect x="143.4" y="1280.4" width="14.0" height="14.0" fill="#f5f9fc"/>
<rect x="156.7" y="1280.4" width="14.0" height="14.0" fill="#f8fbfd"/>
<rect x="170.1" y="1280.4" width="14.0" height="14.0" fill="#fcf3ec"/>
<rect x="183.5" y="1280.4" width="14.0" height="14.0" fill="#fffefe"/>
<rect x="196.9" y="1280.4" width="14.0" height="14.0" fill="#fcf2eb"/>
<rect x="210.3" y="1280.4" width="14.0" height="14.0" fill="#fbf0e7"/>
<rect x="223.6" y="1280.4" width="14.0" height="14.0" fill="#fcfdfe"/>
<rect x="237.0" y="1280.4" width="14.0" height="14.0" fill="#f0f7fa"/>
<rect x="250.4" y="1280.4" width="14.0" height="14.0" fill="#f9e7d8"/>
<rect x="263.8" y="1280.4" width="14.0" height="14.0" fill="#fcf2ea"/>
<rect x="277.2" y="1280.4" width="14.0" height="14.0" fill="#daeaf4"/>
<rect x="290.6" y="1280.4" width="14.0" height="14.0" fill="#d1e6f1"/>
<rect x="303.9" y="1280.4" width="14.0" height="14.0" fill="#fefdfb"/>
<rect x="317.3" y="1280.4" width="14.0" height="14.0" fill="#f4f9fc"/>
<rect x="330.7" y="1280.4" width="14.0" height="14.0" fill="#d5e8f2"/>
<rect x="344.1" y="1280.4" width="14.0" height="14.0" fill="#daebf4"/>
<rect x="357.5" y="1280.4" width="14.0" height="14.0" fill="#fcf3ec"/>
<rect x="370.8" y="1280.4" width="14.0" height="14.0" fill="#faece0"/>
<rect x="384.2" y="1280.4" width="14.0" height="14.0" fill="#f6fafc"/>
<rect x="397.6" y="1280.4" width="14.0" height="14.0" fill="#fdfefe"/>
<rect x="411.0" y="1280.4" width="14.0" height="14.0" fill="#fefbf9"/>
<rect x="424.4" y="1280.4" width="14.0" height="14.0" fill="#f8e4d4"/>
<rect x="437.8" y="1280.4" width="14.0" height="14.0" fill="#fdf7f3"/>
<rect x="451.1" y="1280.4" width="14.0" height="14.0" fill="#fdfeff"/>
<rect x="464.5" y="1280.4" width="14.0" height="14.0" fill="#fdf9f6"/>
<rect x="477.9" y="1280.4" width="14.0" height="14.0" fill="#fbeee5"/>
<rect x="491.3" y="1280.4" width="14.0" height="14.0" fill="#fefaf7"/>
<rect x="504.7" y="1280.4" width="14.0" height="14.0" fill="#fefbf9"/>
<rect x="518.0" y="1280.4" width="14.0" height="14.0" fill="#f7e1cf"/>
<rect x="531.4" y="1280.4" width="54.0" height="14.0" fill="#f9e7d8"/>
<rect x="76.6" y="1293.8" width="54.0" height="14.0" fill="#fefaf6"/>
<rect x="130.0" y="1293.8" width="14.0" height="14.0" fill="#f9fbfd"/>
<rect x="143.4" y="1293.8" width="14.0" height="14.0" fill="#f9e9dc"/>
<rect x="156.7" y="1293.8" width="14.0" height="14.0" fill="#faeade"/>
<rect x="170.1" y="1293.8" width="14.0" height="14.0" fill="#fefaf8"/>
<rect x="183.5" y="1293.8" width="14.0" height="14.0" fill="#fefaf6"/>
<rect x="196.9" y="1293.8" width="14.0" height="14.0" fill="#d0e5f1"/>
<rect x="210.3" y="1293.8" width="14.0" height="14.0" fill="#fdf8f4"/>
<rect x="223.6" y="1293.8" width="14.0" height="14.0" fill="#fcfefe"/>
<rect x="237.0" y="1293.8" width="14.0" height="14.0" fill="#fefbf9"/>
<rect x="250.4" y="1293.8" width="14.0" height="14.0" fill="#fcf3eb"/>
<rect x="263.8" y="1293.8" width="14.0" height="14.0" fill="#f8fbfd"/>
<rect x="277.2" y="1293.8" width="14.0" height="14.0" fill="#ffffff"/>
<rect x="290.6" y="1293.8" width="14.0" height="14.0" fill="#fbeee5"/>
<rect x="303.9" y="1293.8" width="14.0" height="14.0" fill="#fafcfd"/>
<rect x="317.3" y="1293.8" width="14.0" height="14.0" fill="#faede3"/>
<rect x="330.7" y="1293.8" width="14.0" height="14.0" fill="#fefdfc"/>
<rect x="344.1" y="1293.8" width="14.0" height="14.0" fill="#fefbf9"/>
<rect x="357.5" y="1293.8" width="14.0" height="14.0" fill="#f7fbfd"/>
<rect x="370.8" y="1293.8" width="14.0" height="14.0" fill="#f9e7da"/>
<rect x="384.2" y="1293.8" width="14.0" height="14.0" fill="#fdf6f1"/>
<rect x="397.6" y="1293.8" width="14.0" height="14.0" fill="#fbefe6"/>
<rect x="411.0" y="1293.8" width="14.0" height="14.0" fill="#f7e1d0"/>
<rect x="424.4" y="1293.8" width="14.0" height="14.0" fill="#fbf1e9"/>
<rect x="437.8" y="1293.8" width="14.0" height="14.0" fill="#e8f2f8"/>
<rect x="451.1" y="1293.8" width="14.0" height="14.0" fill="#f4f9fc"/>
<rect x="464.5" y="1293.8" width="14.0" height="14.0" fill="#e5f0f7"/>
<rect x="477.9" y="1293.8" width="14.0" height="14.0" fill="#eef5fa"/>
<rect x="491.3" y="1293.8" width="14.0" height="14.0" fill="#fdf8f3"/>
<rect x="504.7" y="1293.8" width="14.0" height="14.0" fill="#f0f7fb"/>
<rect x="518.0" y="1293.8" width="14.0" height="14.0" fill="#fcf5f0"/>
<rect x="531.4" y="1293.8" width="54.0" height="14.0" fill="#f7fafc"/>
<rect x="76.6" y="1307.2" width="54.0" height="14.0" fill="#fefdfb"/>
<rect x="130.0" y="1307.2" width="14.0" height="14.0" fill="#fefeff"/>
<rect x="143.4" y="1307.2" width="14.0" height="14.0" fill="#fefbf8"/>
<rect x="156.7" y="1307.2" width="14.0" height="14.0" fill="#fdf9f5"/>
<rect x="170.1" y="1307.2" width="14.0" height="14.0" fill="#f8fbfd"/>
<rect x="183.5" y="1307.2" width="14.0" height="14.0" fill="#f7fbfd"/>
<rect x="196.9" y="1307.2" width="14.0" height="14.0" fill="#d4e7f2"/>
<rect x="210.3" y="1307.2" width="14.0" height="14.0" fill="#e8f2f8"/>
<rect x="223.6" y="1307.2" width="14.0" height="14.0" fill="#fbf0e8"/>
<rect x="237.0" y="1307.2" width="14.0" height="14.0" fill="#fbefe6"/>
<rect x="250.4" y="1307.2" width="14.0" height="14.0" fill="#faede3"/>
<rect x="263.8" y="1307.2" width="14.0" height="14.0" fill="#fcf2eb"/>
<rect x="277.2" y="1307.2" width="14.0" height="14.0" fill="#fdf7f2"/>
<rect x="290.6" y="1307.2" width="14.0" height="14.0" fill="#efc3a0"/>
<rect x="303.9" y="1307.2" width="14.0" height="14.0" fill="#faebdf"/>
<rect x="317.3" y="1307.2" width="14.0" height="14.0" fill="#faebdf"/>
<rect x="330.7" y="1307.2" width="14.0" height="14.0" fill="#fefaf8"/>
<rect x="344.1" y="1307.2" width="14.0" height="14.0" fill="#fdf7f3"/>
<rect x="357.5" y="1307.2" width="14.0" height="14.0" fill="#fcf5ef"/>
<rect x="370.8" y="1307.2" width="14.0" height="14.0" fill="#fcf2ea"/>
<rect x="384.2" y="1307.2" width="14.0" height="14.0" fill="#fcfdfe"/>
<rect x="397.6" y="1307.2" width="14.0" height="14.0" fill="#fefbf9"/>
<rect x="411.0" y="1307.2" width="14.0" height="14.0" fill="#f7dfcc"/>
<rect x="424.4" y="1307.2" width="14.0" height="14.0" fill="#fcf2ea"/>
<rect x="437.8" y="1307.2" width="14.0" height="14.0" fill="#fcfdfe"/>
<rect x="451.1" y="1307.2" width="14.0" height="14.0" fill="#fefbf8"/>
<rect x="464.5" y="1307.2" width="14.0" height="14.0" fill="#fdfefe"/>
<rect x="477.9" y="1307.2" width="14.0" height="14.0" fill="#e6f1f7"/>
<rect x="491.3" y="1307.2" width="14.0" height="14.0" fill="#fefaf7"/>
<rect x="504.7" y="1307.2" width="14.0" height="14.0" fill="#fbf1e9"/>
<rect x="518.0" y="1307.2" width="14.0" height="14.0" fill="#fdf6f1"/>
<rect x="531.4" y="1307.2" width="54.0" height="14.0" fill="#fdf7f3"/>
<rect x="76.6" y="1320.6" width="54.0" height="14.0" fill="#fef9f6"/>
<rect x="130.0" y="1320.6" width="14.0" height="14.0" fill="#ecf4f9"/>
<rect x="143.4" y="1320.6" width="14.0" height="14.0" fill="#fffefe"/>
<rect x="156.7" y="1320.6" width="14.0" height="14.0" fill="#f8fbfd"/>
<rect x="170.1" y="1320.6" width="14.0" height="14.0" fill="#fcfefe"/>
<rect x="183.5" y="1320.6" width="14.0" height="14.0" fill="#d0e5f1"/>
<rect x="196.9" y="1320.6" width="14.0" height="14.0" fill="#e1eef6"/>
<rect x="210.3" y="1320.6" width="14.0" height="14.0" fill="#e3eff6"/>
<rect x="223.6" y="1320.6" width="14.0" height="14.0" fill="#fdfefe"/>
<rect x="237.0" y="1320.6" width="14.0" height="14.0" fill="#fcfdfe"/>
<rect x="250.4" y="1320.6" width="14.0" height="14.0" fill="#fbfdfe"/>
<rect x="263.8" y="1320.6" width="14.0" height="14.0" fill="#d5e8f2"/>
<rect x="277.2" y="1320.6" width="14.0" height="14.0" fill="#fdf9f5"/>
<rect x="290.6" y="1320.6" width="14.0" height="14.0" fill="#fbfdfe"/>
<rect x="303.9" y="1320.6" width="14.0" height="14.0" fill="#f7fafc"/>
<rect x="317.3" y="1320.6" width="14.0" height="14.0" fill="#fefbf8"/>
<rect x="330.7" y="1320.6" width="14.0" height="14.0" fill="#fefeff"/>
<rect x="344.1" y="1320.6" width="14.0" height="14.0" fill="#eff6fa"/>
<rect x="357.5" y="1320.6" width="14.0" height="14.0" fill="#fefbf9"/>
<rect x="370.8" y="1320.6" width="14.0" height="14.0" fill="#f7fafd"/>
<rect x="384.2" y="1320.6" width="14.0" height="14.0" fill="#e1eff6"/>
<rect x="397.6" y="1320.6" width="14.0" height="14.0" fill="#eef6fa"/>
<rect x="411.0" y="1320.6" width="14.0" height="14.0" fill="#fbefe5"/>
<rect x="424.4" y="1320.6" width="14.0" height="14.0" fill="#eebe98"/>
<rect x="437.8" y="1320.6" width="14.0" height="14.0" fill="#fcf3ec"/>
<rect x="451.1" y="1320.6" width="14.0" height="14.0" fill="#fffefd"/>
<rect x="464.5" y="1320.6" width="14.0" height="14.0" fill="#ebf4f9"/>
<rect x="477.9" y="1320.6" width="14.0" height="14.0" fill="#e9f3f8"/>
<rect x="491.3" y="1320.6" width="14.0" height="14.0" fill="#eff6fa"/>
<rect x="504.7" y="1320.6" width="14.0" height="14.0" fill="#fefbf9"/>
<rect x="518.0" y="1320.6" width="14.0" height="14.0" fill="#ecf4f9"/>
<rect x="531.4" y="1320.6" width="54.0" height="14.0" fill="#dbebf4"/>
<rect x="76.6" y="1334.0" width="54.0" height="14.0" fill="#fdfefe"/>
<rect x="130.0" y="1334.0" width="14.0" height="14.0" fill="#f3f8fb"/>
<rect x="143.4" y="1334.0" width="14.0" height="14.0" fill="#fefcfa"/>
<rect x="156.7" y="1334.0" width="14.0" height="14.0" fill="#fffefe"/>
<rect x="170.1" y="1334.0" width="14.0" height="14.0" fill="#f1f8fb"/>
<rect x="183.5" y="1334.0" width="14.0" height="14.0" fill="#eaf3f9"/>
<rect x="196.9" y="1334.0" width="14.0" height="14.0" fill="#f9fcfd"/>
<rect x="210.3" y="1334.0" width="14.0" height="14.0" fill="#eff6fa"/>
<rect x="223.6" y="1334.0" width="14.0" height="14.0" fill="#f9fcfd"/>
<rect x="237.0" y="1334.0" width="14.0" height="14.0" fill="#f9fcfd"/>
<rect x="250.4" y="1334.0" width="14.0" height="14.0" fill="#d7e9f3"/>
<rect x="263.8" y="1334.0" width="14.0" height="14.0" fill="#e7f2f8"/>
<rect x="277.2" y="1334.0" width="14.0" height="14.0" fill="#fcfdfe"/>
<rect x="290.6" y="1334.0" width="14.0" height="14.0" fill="#fffdfc"/>
<rect x="303.9" y="1334.0" width="14.0" height="14.0" fill="#eef5fa"/>
<rect x="317.3" y="1334.0" width="14.0" height="14.0" fill="#fcf2ea"/>
<rect x="330.7" y="1334.0" width="14.0" height="14.0" fill="#fcf5ef"/>
<rect x="344.1" y="1334.0" width="14.0" height="14.0" fill="#fafcfe"/>
<rect x="357.5" y="1334.0" width="14.0" height="14.0" fill="#f4f9fc"/>
<rect x="370.8" y="1334.0" width="14.0" height="14.0" fill="#fefaf8"/>
<rect x="384.2" y="1334.0" width="14.0" height="14.0" fill="#e8f2f8"/>
<rect x="397.6" y="1334.0" width="14.0" height="14.0" fill="#e0eef6"/>
<rect x="411.0" y="1334.0" width="14.0" height="14.0" fill="#fbf1e8"/>
<rect x="424.4" y="1334.0" width="14.0" height="14.0" fill="#fdf6f1"/>
<rect x="437.8" y="1334.0" width="14.0" height="14.0" fill="#faede2"/>
<rect x="451.1" y="1334.0" width="14.0" height="14.0" fill="#f0f7fa"/>
<rect x="464.5" y="1334.0" width="14.0" height="14.0" fill="#f4f9fc"/>
<rect x="477.9" y="1334.0" width="14.0" height="14.0" fill="#fffefd"/>
<rect x="491.3" y="1334.0" width="14.0" height="14.0" fill="#faeade"/>
<rect x="504.7" y="1334.0" width="14.0" height="14.0" fill="#f2f8fb"/>
<rect x="518.0" y="1334.0" width="14.0" height="14.0" fill="#eef6fa"/>
<rect x="531.4" y="1334.0" width="54.0" height="14.0" fill="#eaf3f9"/>
<rect x="76.6" y="1347.4" width="54.0" height="14.0" fill="#feffff"/>
<rect x="130.0" y="1347.4" width="14.0" height="14.0" fill="#e6f1f7"/>
<rect x="143.4" y="1347.4" width="14.0" height="14.0" fill="#f9fcfd"/>
<rect x="156.7" y="1347.4" width="14.0" height="14.0" fill="#fdfeff"/>
<rect x="170.1" y="1347.4" width="14.0" height="14.0" fill="#e8f2f8"/>
<rect x="183.5" y="1347.4" width="14.0" height="14.0" fill="#e8f2f8"/>
<rect x="196.9" y="1347.4" width="14.0" height="14.0" fill="#eef6fa"/>
<rect x="210.3" y="1347.4" width="14.0" height="14.0" fill="#d9eaf4"/>
<rect x="223.6" y="1347.4" width="14.0" height="14.0" fill="#d7e9f3"/>
<rect x="237.0" y="1347.4" width="14.0" height="14.0" fill="#e4f0f7"/>
<rect x="250.4" y="1347.4" width="14.0" height="14.0" fill="#e0eef6"/>
<rect x="263.8" y="1347.4" width="14.0" height="14.0" fill="#dcecf4"/>
<rect x="277.2" y="1347.4" width="14.0" height="14.0" fill="#e8f2f8"/>
<rect x="290.6" y="1347.4" width="14.0" height="14.0" fill="#f9fcfd"/>
<rect x="303.9" y="1347.4" width="14.0" height="14.0" fill="#fdf9f5"/>
<rect x="317.3" y="1347.4" width="14.0" height="14.0" fill="#fefaf8"/>
<rect x="330.7" y="1347.4" width="14.0" height="14.0" fill="#faebdf"/>
<rect x="344.1" y="1347.4" width="14.0" height="14.0" fill="#fcf2ea"/>
<rect x="357.5" y="1347.4" width="14.0" height="14.0" fill="#faece1"/>
<rect x="370.8" y="1347.4" width="14.0" height="14.0" fill="#fdf6f1"/>
<rect x="384.2" y="1347.4" width="14.0" height="14.0" fill="#fcf4ed"/>
<rect x="397.6" y="1347.4" width="14.0" height="14.0" fill="#fbf1e9"/>
<rect x="411.0" y="1347.4" width="14.0" height="14.0" fill="#faece2"/>
<rect x="424.4" y="1347.4" width="14.0" height="14.0" fill="#fdf6f1"/>
<rect x="437.8" y="1347.4" width="14.0" height="14.0" fill="#f9e8db"/>
<rect x="451.1" y="1347.4" width="14.0" height="14.0" fill="#fcf5ef"/>
<rect x="464.5" y="1347.4" width="14.0" height="14.0" fill="#fdf7f3"/>
<rect x="477.9" y="1347.4" width="14.0" height="14.0" fill="#f7fbfd"/>
<rect x="491.3" y="1347.4" width="14.0" height="14.0" fill="#f2f8fb"/>
<rect x="504.7" y="1347.4" width="14.0" height="14.0" fill="#fcf2ea"/>
<rect x="518.0" y="1347.4" width="14.0" height="14.0" fill="#fefeff"/>
<rect x="531.4" y="1347.4" width="54.0" height="14.0" fill="#eef5fa"/>
<rect x="76.6" y="1360.8" width="54.0" height="14.0" fill="#f3f8fb"/>
<rect x="130.0" y="1360.8" width="14.0" height="14.0" fill="#f8fbfd"/>
<rect x="143.4" y="1360.8" width="14.0" height="14.0" fill="#fcf5ef"/>
<rect x="156.7" y="1360.8" width="14.0" height="14.0" fill="#f9fcfd"/>
<rect x="170.1" y="1360.8" width="14.0" height="14.0" fill="#deedf5"/>
<rect x="183.5" y="1360.8" width="14.0" height="14.0" fill="#f1f7fb"/>
<rect x="196.9" y="1360.8" width="14.0" height="14.0" fill="#f4f9fc"/>
<rect x="210.3" y="1360.8" width="14.0" height="14.0" fill="#f6fafc"/>
<rect x="223.6" y="1360.8" width="14.0" height="14.0" fill="#fafcfe"/>
<rect x="237.0" y="1360.8" width="14.0" height="14.0" fill="#edf5fa"/>
<rect x="250.4" y="1360.8" width="14.0" height="14.0" fill="#e9f3f8"/>
<rect x="263.8" y="1360.8" width="14.0" height="14.0" fill="#d0e5f1"/>
<rect x="277.2" y="1360.8" width="14.0" height="14.0" fill="#fdf8f4"/>
<rect x="290.6" y="1360.8" width="14.0" height="14.0" fill="#fbeee4"/>
<rect x="303.9" y="1360.8" width="14.0" height="14.0" fill="#fdf9f5"/>
<rect x="317.3" y="1360.8" width="14.0" height="14.0" fill="#fefdfc"/>
<rect x="330.7" y="1360.8" width="14.0" height="14.0" fill="#f9e9dd"/>
<rect x="344.1" y="1360.8" width="14.0" height="14.0" fill="#ebb183"/>
<rect x="357.5" y="1360.8" width="14.0" height="14.0" fill="#fdf9f5"/>
<rect x="370.8" y="1360.8" width="14.0" height="14.0" fill="#fcf2eb"/>
<rect x="384.2" y="1360.8" width="14.0" height="14.0" fill="#f9e7d8"/>
<rect x="397.6" y="1360.8" width="14.0" height="14.0" fill="#f8e4d5"/>
<rect x="411.0" y="1360.8" width="14.0" height="14.0" fill="#fefcfa"/>
<rect x="424.4" y="1360.8" width="14.0" height="14.0" fill="#fdf6f0"/>
<rect x="437.8" y="1360.8" width="14.0" height="14.0" fill="#fcf4ed"/>
<rect x="451.1" y="1360.8" width="14.0" height="14.0" fill="#fbf0e8"/>
<rect x="464.5" y="1360.8" width="14.0" height="14.0" fill="#fdfefe"/>
<rect x="477.9" y="1360.8" width="14.0" height="14.0" fill="#f0f7fb"/>
<rect x="491.3" y="1360.8" width="14.0" height="14.0" fill="#f4f9fc"/>
<rect x="504.7" y="1360.8" width="14.0" height="14.0" fill="#ffffff"/>
<rect x="518.0" y="1360.8" width="14.0" height="14.0" fill="#e8f2f8"/>
<rect x="531.4" y="1360.8" width="54.0" height="14.0" fill="#f1f7fb"/>
<rect x="76.6" y="1374.2" width="54.0" height="14.0" fill="#f2f8fb"/>
<rect x="130.0" y="1374.2" width="14.0" height="14.0" fill="#dcecf4"/>
<rect x="143.4" y="1374.2" width="14.0" height="14.0" fill="#fdf7f2"/>
<rect x="156.7" y="1374.2" width="14.0" height="14.0" fill="#fcfdfe"/>
<rect x="170.1" y="1374.2" width="14.0" height="14.0" fill="#fefdfb"/>
<rect x="183.5" y="1374.2" width="14.0" height="14.0" fill="#fcf3ec"/>
<rect x="196.9" y="1374.2" width="14.0" height="14.0" fill="#fbefe5"/>
<rect x="210.3" y="1374.2" width="14.0" height="14.0" fill="#fcfdfe"/>
<rect x="223.6" y="1374.2" width="14.0" height="14.0" fill="#fefeff"/>
<rect x="237.0" y="1374.2" width="14.0" height="14.0" fill="#f6fafc"/>
<rect x="250.4" y="1374.2" width="14.0" height="14.0" fill="#f6fafc"/>
<rect x="263.8" y="1374.2" width="14.0" height="14.0" fill="#fef9f6"/>
<rect x="277.2" y="1374.2" width="14.0" height="14.0" fill="#eef6fa"/>
<rect x="290.6" y="1374.2" width="14.0" height="14.0" fill="#fdf6f1"/>
<rect x="303.9" y="1374.2" width="14.0" height="14.0" fill="#feffff"/>
<rect x="317.3" y="1374.2" width="14.0" height="14.0" fill="#fcf4ed"/>
<rect x="330.7" y="1374.2" width="14.0" height="14.0" fill="#ecf4f9"/>
<rect x="344.1" y="1374.2" width="14.0" height="14.0" fill="#e1eef6"/>
<rect x="357.5" y="1374.2" width="14.0" height="14.0" fill="#edf5fa"/>
<rect x="370.8" y="1374.2" width="14.0" height="14.0" fill="#f3f8fb"/>
<rect x="384.2" y="1374.2" width="14.0" height="14.0" fill="#f5f9fc"/>
<rect x="397.6" y="1374.2" width="14.0" height="14.0" fill="#fafcfe"/>
<rect x="411.0" y="1374.2" width="14.0" height="14.0" fill="#edf5fa"/>
<rect x="424.4" y="1374.2" width="14.0" height="14.0" fill="#d9eaf4"/>
<rect x="437.8" y="1374.2" width="14.0" height="14.0" fill="#fffffe"/>
<rect x="451.1" y="1374.2" width="14.0" height="14.0" fill="#fdfefe"/>
<rect x="464.5" y="1374.2" width="14.0" height="14.0" fill="#f6fafc"/>
<rect x="477.9" y="1374.2" width="14.0" height="14.0" fill="#f5fafc"/>
<rect x="491.3" y="1374.2" width="14.0" height="14.0" fill="#fffefd"/>
<rect x="504.7" y="1374.2" width="14.0" height="14.0" fill="#eef6fa"/>
<rect x="518.0" y="1374.2" width="14.0" height="14.0" fill="#f6fafc"/>
<rect x="531.4" y="1374.2" width="54.0" height="14.0" fill="#fdfefe"/>
<rect x="76.6" y="1387.6" width="54.0" height="14.0" fill="#f8fbfd"/>
<rect x="130.0" y="1387.6" width="14.0" height="14.0" fill="#d8e9f3"/>
<rect x="143.4" y="1387.6" width="14.0" height="14.0" fill="#fbefe5"/>
<rect x="156.7" y="1387.6" width="14.0" height="14.0" fill="#fffdfc"/>
<rect x="170.1" y="1387.6" width="14.0" height="14.0" fill="#e6f1f7"/>
<rect x="183.5" y="1387.6" width="14.0" height="14.0" fill="#fefcfa"/>
<rect x="196.9" y="1387.6" width="14.0" height="14.0" fill="#fefeff"/>
<rect x="210.3" y="1387.6" width="14.0" height="14.0" fill="#eef6fa"/>
<rect x="223.6" y="1387.6" width="14.0" height="14.0" fill="#f0f7fa"/>
<rect x="237.0" y="1387.6" width="14.0" height="14.0" fill="#fffefe"/>
<rect x="250.4" y="1387.6" width="14.0" height="14.0" fill="#fefcfb"/>
<rect x="263.8" y="1387.6" width="14.0" height="14.0" fill="#eff6fa"/>
<rect x="277.2" y="1387.6" width="14.0" height="14.0" fill="#fefcfa"/>
<rect x="290.6" y="1387.6" width="14.0" height="14.0" fill="#f9e8db"/>
<rect x="303.9" y="1387.6" width="14.0" height="14.0" fill="#f7fafd"/>
<rect x="317.3" y="1387.6" width="14.0" height="14.0" fill="#fefcfa"/>
<rect x="330.7" y="1387.6" width="14.0" height="14.0" fill="#e9f3f8"/>
<rect x="344.1" y="1387.6" width="14.0" height="14.0" fill="#e2eff6"/>
<rect x="357.5" y="1387.6" width="14.0" height="14.0" fill="#d0e5f1"/>
<rect x="370.8" y="1387.6" width="14.0" height="14.0" fill="#eaf3f9"/>
<rect x="384.2" y="1387.6" width="14.0" height="14.0" fill="#f5f9fc"/>
<rect x="397.6" y="1387.6" width="14.0" height="14.0" fill="#edf5fa"/>
<rect x="411.0" y="1387.6" width="14.0" height="14.0" fill="#eff6fa"/>
<rect x="424.4" y="1387.6" width="14.0" height="14.0" fill="#fefdfc"/>
<rect x="437.8" y="1387.6" width="14.0" height="14.0" fill="#f7fafd"/>
<rect x="451.1" y="1387.6" width="14.0" height="14.0" fill="#fffffe"/>
<rect x="464.5" y="1387.6" width="14.0" height="14.0" fill="#fefcfa"/>
<rect x="477.9" y="1387.6" width="14.0" height="14.0" fill="#fcfdfe"/>
<rect x="491.3" y="1387.6" width="14.0" height="14.0" fill="#fcf4ed"/>
<rect x="504.7" y="1387.6" width="14.0" height="14.0" fill="#eaf3f9"/>
<rect x="518.0" y="1387.6" width="14.0" height="14.0" fill="#fdf9f5"/>
<rect x="531.4" y="1387.6" width="54.0" height="14.0" fill="#fbfdfe"/>
<rect x="76.6" y="1401.0" width="54.0" height="14.0" fill="#fdf7f2"/>
<rect x="130.0" y="1401.0" width="14.0" height="14.0" fill="#fdf8f4"/>
<rect x="143.4" y="1401.0" width="14.0" height="14.0" fill="#dbebf4"/>
<rect x="156.7" y="1401.0" width="14.0" height="14.0" fill="#e8f2f8"/>
<rect x="170.1" y="1401.0" width="14.0" height="14.0" fill="#fefaf7"/>
<rect x="183.5" y="1401.0" width="14.0" height="14.0" fill="#fdf9f5"/>
<rect x="196.9" y="1401.0" width="14.0" height="14.0" fill="#fdfeff"/>
<rect x="210.3" y="1401.0" width="14.0" height="14.0" fill="#f3f9fb"/>
<rect x="223.6" y="1401.0" width="14.0" height="14.0" fill="#fafcfd"/>
<rect x="237.0" y="1401.0" width="14.0" height="14.0" fill="#fcfefe"/>
<rect x="250.4" y="1401.0" width="14.0" height="14.0" fill="#f0f7fb"/>
<rect x="263.8" y="1401.0" width="14.0" height="14.0" fill="#fffefd"/>
<rect x="277.2" y="1401.0" width="14.0" height="14.0" fill="#e2eff6"/>
<rect x="290.6" y="1401.0" width="14.0" height="14.0" fill="#fefaf7"/>
<rect x="303.9" y="1401.0" width="14.0" height="14.0" fill="#fefaf7"/>
<rect x="317.3" y="1401.0" width="14.0" height="14.0" fill="#f9eadd"/>
<rect x="330.7" y="1401.0" width="14.0" height="14.0" fill="#e7f1f8"/>
<rect x="344.1" y="1401.0" width="14.0" height="14.0" fill="#deedf5"/>
<rect x="357.5" y="1401.0" width="14.0" height="14.0" fill="#f9fcfd"/>
<rect x="370.8" y="1401.0" width="14.0" height="14.0" fill="#e9f3f8"/>
<rect x="384.2" y="1401.0" width="14.0" height="14.0" fill="#f3f9fb"/>
<rect x="397.6" y="1401.0" width="14.0" height="14.0" fill="#ebf4f9"/>
<rect x="411.0" y="1401.0" width="14.0" height="14.0" fill="#e9f3f8"/>
<rect x="424.4" y="1401.0" width="14.0" height="14.0" fill="#f0f7fa"/>
<rect x="437.8" y="1401.0" width="14.0" height="14.0" fill="#f6fafc"/>
<rect x="451.1" y="1401.0" width="14.0" height="14.0" fill="#e8f2f8"/>
<rect x="464.5" y="1401.0" width="14.0" height="14.0" fill="#fffdfc"/>
<rect x="477.9" y="1401.0" width="14.0" height="14.0" fill="#f4f9fc"/>
<rect x="491.3" y="1401.0" width="14.0" height="14.0" fill="#eff6fa"/>
<rect x="504.7" y="1401.0" width="14.0" height="14.0" fill="#fbfdfe"/>
<rect x="518.0" y="1401.0" width="14.0" height="14.0" fill="#fffdfc"/>
<rect x="531.4" y="1401.0" width="54.0" height="14.0" fill="#f0f7fa"/>
<rect x="76.6" y="1414.4" width="54.0" height="54.0" fill="#f1f7fb"/>
<rect x="130.0" y="1414.4" width="14.0" height="54.0" fill="#f2f8fb"/>
<rect x="143.4" y="1414.4" width="14.0" height="54.0" fill="#f5fafc"/>
<rect x="156.7" y="1414.4" width="14.0" height="54.0" fill="#e9f3f8"/>
<rect x="170.1" y="1414.4" width="14.0" height="54.0" fill="#f6deca"/>
<rect x="183.5" y="1414.4" width="14.0" height="54.0" fill="#fafcfd"/>
<rect x="196.9" y="1414.4" width="14.0" height="54.0" fill="#fafcfe"/>
<rect x="210.3" y="1414.4" width="14.0" height="54.0" fill="#eaf3f9"/>
<rect x="223.6" y="1414.4" width="14.0" height="54.0" fill="#f9fbfd"/>
<rect x="237.0" y="1414.4" width="14.0" height="54.0" fill="#f9fcfd"/>
<rect x="250.4" y="1414.4" width="14.0" height="54.0" fill="#eff6fa"/>
<rect x="263.8" y="1414.4" width="14.0" height="54.0" fill="#fdf6f0"/>
<rect x="277.2" y="1414.4" width="14.0" height="54.0" fill="#fefcfa"/>
<rect x="290.6" y="1414.4" width="14.0" height="54.0" fill="#f0c6a4"/>
<rect x="303.9" y="1414.4" width="14.0" height="54.0" fill="#f9eadd"/>
<rect x="317.3" y="1414.4" width="14.0" height="54.0" fill="#fdf7f2"/>
<rect x="330.7" y="1414.4" width="14.0" height="54.0" fill="#d6e8f3"/>
<rect x="344.1" y="1414.4" width="14.0" height="54.0" fill="#eff6fa"/>
<rect x="357.5" y="1414.4" width="14.0" height="54.0" fill="#f5fafc"/>
<rect x="370.8" y="1414.4" width="14.0" height="54.0" fill="#f5f9fc"/>
<rect x="384.2" y="1414.4" width="14.0" height="54.0" fill="#fbfdfe"/>
<rect x="397.6" y="1414.4" width="14.0" height="54.0" fill="#e8f2f8"/>
<rect x="411.0" y="1414.4" width="14.0" height="54.0" fill="#e7f1f8"/>
<rect x="424.4" y="1414.4" width="14.0" height="54.0" fill="#cde3f0"/>
<rect x="437.8" y="1414.4" width="14.0" height="54.0" fill="#eef6fa"/>
<rect x="451.1" y="1414.4" width="14.0" height="54.0" fill="#e0eef6"/>
<rect x="464.5" y="1414.4" width="14.0" height="54.0" fill="#ebf4f9"/>
<rect x="477.9" y="1414.4" width="14.0" height="54.0" fill="#f1f8fb"/>
<rect x="491.3" y="1414.4" width="14.0" height="54.0" fill="#f8fbfd"/>
<rect x="504.7" y="1414.4" width="14.0" height="54.0" fill="#e2eff6"/>
<rect x="518.0" y="1414.4" width="14.0" height="54.0" fill="#deedf5"/>
<rect x="531.4" y="1414.4" width="54.0" height="54.0" fill="#e7f1f8"/>
</g></g>
<rect x="104.4" y="11.4" width="65.4" height="55.6" fill="#fff"/>
<text x="122.5" y="49.8" class="t" font-size="32.5" fill="#000">(a)</text>
<g stroke="#222222" fill="none" stroke-linecap="butt">
<rect x="104.4" y="11.4" width="453.5" height="452.6" stroke-width="2.6"/>
<path d="M104.40 11.40V5.90M104.40 464.00V469.50" stroke-width="2.6"/>
<path d="M104.40 464.00H98.90M557.90 464.00H563.40" stroke-width="2.6"/>
<path d="M127.08 11.40V8.00M127.08 464.00V467.40" stroke-width="2.2"/>
<path d="M104.40 441.37H101.00M557.90 441.37H561.30" stroke-width="2.2"/>
<path d="M149.75 11.40V8.00M149.75 464.00V467.40" stroke-width="2.2"/>
<path d="M104.40 418.74H101.00M557.90 418.74H561.30" stroke-width="2.2"/>
<path d="M172.43 11.40V8.00M172.43 464.00V467.40" stroke-width="2.2"/>
<path d="M104.40 396.11H101.00M557.90 396.11H561.30" stroke-width="2.2"/>
<path d="M195.10 11.40V5.90M195.10 464.00V469.50" stroke-width="2.6"/>
<path d="M104.40 373.48H98.90M557.90 373.48H563.40" stroke-width="2.6"/>
<path d="M217.78 11.40V8.00M217.78 464.00V467.40" stroke-width="2.2"/>
<path d="M104.40 350.85H101.00M557.90 350.85H561.30" stroke-width="2.2"/>
<path d="M240.45 11.40V8.00M240.45 464.00V467.40" stroke-width="2.2"/>
<path d="M104.40 328.22H101.00M557.90 328.22H561.30" stroke-width="2.2"/>
<path d="M263.12 11.40V8.00M263.12 464.00V467.40" stroke-width="2.2"/>
<path d="M104.40 305.59H101.00M557.90 305.59H561.30" stroke-width="2.2"/>
<path d="M285.80 11.40V5.90M285.80 464.00V469.50" stroke-width="2.6"/>
<path d="M104.40 282.96H98.90M557.90 282.96H563.40" stroke-width="2.6"/>
<path d="M308.48 11.40V8.00M308.48 464.00V467.40" stroke-width="2.2"/>
<path d="M104.40 260.33H101.00M557.90 260.33H561.30" stroke-width="2.2"/>
<path d="M331.15 11.40V8.00M331.15 464.00V467.40" stroke-width="2.2"/>
<path d="M104.40 237.70H101.00M557.90 237.70H561.30" stroke-width="2.2"/>
<path d="M353.83 11.40V8.00M353.83 464.00V467.40" stroke-width="2.2"/>
<path d="M104.40 215.07H101.00M557.90 215.07H561.30" stroke-width="2.2"/>
<path d="M376.50 11.40V5.90M376.50 464.00V469.50" stroke-width="2.6"/>
<path d="M104.40 192.44H98.90M557.90 192.44H563.40" stroke-width="2.6"/>
<path d="M399.18 11.40V8.00M399.18 464.00V467.40" stroke-width="2.2"/>
<path d="M104.40 169.81H101.00M557.90 169.81H561.30" stroke-width="2.2"/>
<path d="M421.85 11.40V8.00M421.85 464.00V467.40" stroke-width="2.2"/>
<path d="M104.40 147.18H101.00M557.90 147.18H561.30" stroke-width="2.2"/>
<path d="M444.52 11.40V8.00M444.52 464.00V467.40" stroke-width="2.2"/>
<path d="M104.40 124.55H101.00M557.90 124.55H561.30" stroke-width="2.2"/>
<path d="M467.20 11.40V5.90M467.20 464.00V469.50" stroke-width="2.6"/>
<path d="M104.40 101.92H98.90M557.90 101.92H563.40" stroke-width="2.6"/>
<path d="M489.88 11.40V8.00M489.88 464.00V467.40" stroke-width="2.2"/>
<path d="M104.40 79.29H101.00M557.90 79.29H561.30" stroke-width="2.2"/>
<path d="M512.55 11.40V8.00M512.55 464.00V467.40" stroke-width="2.2"/>
<path d="M104.40 56.66H101.00M557.90 56.66H561.30" stroke-width="2.2"/>
<path d="M535.23 11.40V8.00M535.23 464.00V467.40" stroke-width="2.2"/>
<path d="M104.40 34.03H101.00M557.90 34.03H561.30" stroke-width="2.2"/>
<path d="M557.90 11.40V5.90M557.90 464.00V469.50" stroke-width="2.6"/>
<path d="M104.40 11.40H98.90M557.90 11.40H563.40" stroke-width="2.6"/>
</g>
<g class="t" font-size="35.5" fill="#000" text-anchor="end">
<text x="94.5" y="475.5">0</text>
<text x="94.5" y="385.0">0.2</text>
<text x="94.5" y="294.5">0.4</text>
<text x="94.5" y="203.9">0.6</text>
<text x="94.5" y="113.4">0.8</text>
<text x="94.5" y="22.9">1</text>
</g>
<text transform="translate(25.4 268.4) rotate(-90)" class="t" font-size="34" font-style="italic" fill="#000">z</text>
<path d="M0 237.0L32.8 250.5" stroke="#000" stroke-width="2"/>
<text transform="translate(25.0 234.0) rotate(-90)" class="t" font-size="36" font-style="italic" fill="#000">H</text>
<rect x="104.4" y="498.6" width="65.4" height="55.6" fill="#fff"/>
<text x="122.5" y="537.0" class="t" font-size="32.5" fill="#000">(b)</text>
<g stroke="#222222" fill="none" stroke-linecap="butt">
<rect x="104.4" y="498.6" width="453.5" height="452.9" stroke-width="2.6"/>
<path d="M104.40 498.60V493.10M104.40 951.50V957.00" stroke-width="2.6"/>
<path d="M104.40 951.50H98.90M557.90 951.50H563.40" stroke-width="2.6"/>
<path d="M127.08 498.60V495.20M127.08 951.50V954.90" stroke-width="2.2"/>
<path d="M104.40 928.86H101.00M557.90 928.86H561.30" stroke-width="2.2"/>
<path d="M149.75 498.60V495.20M149.75 951.50V954.90" stroke-width="2.2"/>
<path d="M104.40 906.21H101.00M557.90 906.21H561.30" stroke-width="2.2"/>
<path d="M172.43 498.60V495.20M172.43 951.50V954.90" stroke-width="2.2"/>
<path d="M104.40 883.57H101.00M557.90 883.57H561.30" stroke-width="2.2"/>
<path d="M195.10 498.60V493.10M195.10 951.50V957.00" stroke-width="2.6"/>
<path d="M104.40 860.92H98.90M557.90 860.92H563.40" stroke-width="2.6"/>
<path d="M217.78 498.60V495.20M217.78 951.50V954.90" stroke-width="2.2"/>
<path d="M104.40 838.27H101.00M557.90 838.27H561.30" stroke-width="2.2"/>
<path d="M240.45 498.60V495.20M240.45 951.50V954.90" stroke-width="2.2"/>
<path d="M104.40 815.63H101.00M557.90 815.63H561.30" stroke-width="2.2"/>
<path d="M263.12 498.60V495.20M263.12 951.50V954.90" stroke-width="2.2"/>
<path d="M104.40 792.99H101.00M557.90 792.99H561.30" stroke-width="2.2"/>
<path d="M285.80 498.60V493.10M285.80 951.50V957.00" stroke-width="2.6"/>
<path d="M104.40 770.34H98.90M557.90 770.34H563.40" stroke-width="2.6"/>
<path d="M308.48 498.60V495.20M308.48 951.50V954.90" stroke-width="2.2"/>
<path d="M104.40 747.69H101.00M557.90 747.69H561.30" stroke-width="2.2"/>
<path d="M331.15 498.60V495.20M331.15 951.50V954.90" stroke-width="2.2"/>
<path d="M104.40 725.05H101.00M557.90 725.05H561.30" stroke-width="2.2"/>
<path d="M353.83 498.60V495.20M353.83 951.50V954.90" stroke-width="2.2"/>
<path d="M104.40 702.40H101.00M557.90 702.40H561.30" stroke-width="2.2"/>
<path d="M376.50 498.60V493.10M376.50 951.50V957.00" stroke-width="2.6"/>
<path d="M104.40 679.76H98.90M557.90 679.76H563.40" stroke-width="2.6"/>
<path d="M399.18 498.60V495.20M399.18 951.50V954.90" stroke-width="2.2"/>
<path d="M104.40 657.12H101.00M557.90 657.12H561.30" stroke-width="2.2"/>
<path d="M421.85 498.60V495.20M421.85 951.50V954.90" stroke-width="2.2"/>
<path d="M104.40 634.47H101.00M557.90 634.47H561.30" stroke-width="2.2"/>
<path d="M444.52 498.60V495.20M444.52 951.50V954.90" stroke-width="2.2"/>
<path d="M104.40 611.83H101.00M557.90 611.83H561.30" stroke-width="2.2"/>
<path d="M467.20 498.60V493.10M467.20 951.50V957.00" stroke-width="2.6"/>
<path d="M104.40 589.18H98.90M557.90 589.18H563.40" stroke-width="2.6"/>
<path d="M489.88 498.60V495.20M489.88 951.50V954.90" stroke-width="2.2"/>
<path d="M104.40 566.54H101.00M557.90 566.54H561.30" stroke-width="2.2"/>
<path d="M512.55 498.60V495.20M512.55 951.50V954.90" stroke-width="2.2"/>
<path d="M104.40 543.89H101.00M557.90 543.89H561.30" stroke-width="2.2"/>
<path d="M535.23 498.60V495.20M535.23 951.50V954.90" stroke-width="2.2"/>
<path d="M104.40 521.25H101.00M557.90 521.25H561.30" stroke-width="2.2"/>
<path d="M557.90 498.60V493.10M557.90 951.50V957.00" stroke-width="2.6"/>
<path d="M104.40 498.60H98.90M557.90 498.60H563.40" stroke-width="2.6"/>
</g>
<g class="t" font-size="35.5" fill="#000" text-anchor="end">
<text x="94.5" y="963.0">0</text>
<text x="94.5" y="872.4">0.2</text>
<text x="94.5" y="781.8">0.4</text>
<text x="94.5" y="691.3">0.6</text>
<text x="94.5" y="600.7">0.8</text>
<text x="94.5" y="510.1">1</text>
</g>
<text transform="translate(25.4 755.8) rotate(-90)" class="t" font-size="34" font-style="italic" fill="#000">z</text>
<path d="M0 724.4L32.8 737.9" stroke="#000" stroke-width="2"/>
<text transform="translate(25.0 721.4) rotate(-90)" class="t" font-size="36" font-style="italic" fill="#000">H</text>
<rect x="104.4" y="986.2" width="65.4" height="55.6" fill="#fff"/>
<text x="122.5" y="1024.6" class="t" font-size="32.5" fill="#000">(c)</text>
<g stroke="#222222" fill="none" stroke-linecap="butt">
<rect x="104.4" y="986.2" width="453.5" height="454.1" stroke-width="2.6"/>
<path d="M104.40 986.20V980.70M104.40 1440.30V1445.80" stroke-width="2.6"/>
<path d="M104.40 1440.30H98.90M557.90 1440.30H563.40" stroke-width="2.6"/>
<path d="M127.08 986.20V982.80M127.08 1440.30V1443.70" stroke-width="2.2"/>
<path d="M104.40 1417.60H101.00M557.90 1417.60H561.30" stroke-width="2.2"/>
<path d="M149.75 986.20V982.80M149.75 1440.30V1443.70" stroke-width="2.2"/>
<path d="M104.40 1394.89H101.00M557.90 1394.89H561.30" stroke-width="2.2"/>
<path d="M172.43 986.20V982.80M172.43 1440.30V1443.70" stroke-width="2.2"/>
<path d="M104.40 1372.19H101.00M557.90 1372.19H561.30" stroke-width="2.2"/>
<path d="M195.10 986.20V980.70M195.10 1440.30V1445.80" stroke-width="2.6"/>
<path d="M104.40 1349.48H98.90M557.90 1349.48H563.40" stroke-width="2.6"/>
<path d="M217.78 986.20V982.80M217.78 1440.30V1443.70" stroke-width="2.2"/>
<path d="M104.40 1326.78H101.00M557.90 1326.78H561.30" stroke-width="2.2"/>
<path d="M240.45 986.20V982.80M240.45 1440.30V1443.70" stroke-width="2.2"/>
<path d="M104.40 1304.07H101.00M557.90 1304.07H561.30" stroke-width="2.2"/>
<path d="M263.12 986.20V982.80M263.12 1440.30V1443.70" stroke-width="2.2"/>
<path d="M104.40 1281.37H101.00M557.90 1281.37H561.30" stroke-width="2.2"/>
<path d="M285.80 986.20V980.70M285.80 1440.30V1445.80" stroke-width="2.6"/>
<path d="M104.40 1258.66H98.90M557.90 1258.66H563.40" stroke-width="2.6"/>
<path d="M308.48 986.20V982.80M308.48 1440.30V1443.70" stroke-width="2.2"/>
<path d="M104.40 1235.96H101.00M557.90 1235.96H561.30" stroke-width="2.2"/>
<path d="M331.15 986.20V982.80M331.15 1440.30V1443.70" stroke-width="2.2"/>
<path d="M104.40 1213.25H101.00M557.90 1213.25H561.30" stroke-width="2.2"/>
<path d="M353.83 986.20V982.80M353.83 1440.30V1443.70" stroke-width="2.2"/>
<path d="M104.40 1190.55H101.00M557.90 1190.55H561.30" stroke-width="2.2"/>
<path d="M376.50 986.20V980.70M376.50 1440.30V1445.80" stroke-width="2.6"/>
<path d="M104.40 1167.84H98.90M557.90 1167.84H563.40" stroke-width="2.6"/>
<path d="M399.18 986.20V982.80M399.18 1440.30V1443.70" stroke-width="2.2"/>
<path d="M104.40 1145.14H101.00M557.90 1145.14H561.30" stroke-width="2.2"/>
<path d="M421.85 986.20V982.80M421.85 1440.30V1443.70" stroke-width="2.2"/>
<path d="M104.40 1122.43H101.00M557.90 1122.43H561.30" stroke-width="2.2"/>
<path d="M444.52 986.20V982.80M444.52 1440.30V1443.70" stroke-width="2.2"/>
<path d="M104.40 1099.73H101.00M557.90 1099.73H561.30" stroke-width="2.2"/>
<path d="M467.20 986.20V980.70M467.20 1440.30V1445.80" stroke-width="2.6"/>
<path d="M104.40 1077.02H98.90M557.90 1077.02H563.40" stroke-width="2.6"/>
<path d="M489.88 986.20V982.80M489.88 1440.30V1443.70" stroke-width="2.2"/>
<path d="M104.40 1054.32H101.00M557.90 1054.32H561.30" stroke-width="2.2"/>
<path d="M512.55 986.20V982.80M512.55 1440.30V1443.70" stroke-width="2.2"/>
<path d="M104.40 1031.61H101.00M557.90 1031.61H561.30" stroke-width="2.2"/>
<path d="M535.23 986.20V982.80M535.23 1440.30V1443.70" stroke-width="2.2"/>
<path d="M104.40 1008.91H101.00M557.90 1008.91H561.30" stroke-width="2.2"/>
<path d="M557.90 986.20V980.70M557.90 1440.30V1445.80" stroke-width="2.6"/>
<path d="M104.40 986.20H98.90M557.90 986.20H563.40" stroke-width="2.6"/>
</g>
<g class="t" font-size="35.5" fill="#000" text-anchor="end">
<text x="94.5" y="1450.2">0</text>
<text x="94.5" y="1359.4">0.2</text>
<text x="94.5" y="1268.6">0.4</text>
<text x="94.5" y="1177.7">0.6</text>
<text x="94.5" y="1086.9">0.8</text>
<text x="94.5" y="996.1">1</text>
</g>
<g class="t" font-size="35.5" fill="#000" text-anchor="middle">
<text x="104.4" y="1478.5">0</text>
<text x="195.1" y="1478.5">0.2</text>
<text x="285.8" y="1478.5">0.4</text>
<text x="376.5" y="1478.5">0.6</text>
<text x="467.2" y="1478.5">0.8</text>
<text x="557.9" y="1478.5">1</text>
</g>
<text transform="translate(25.4 1242.3) rotate(-90)" class="t" font-size="34" font-style="italic" fill="#000">z</text>
<path d="M0 1211.0L32.8 1224.5" stroke="#000" stroke-width="2"/>
<text transform="translate(25.0 1208.0) rotate(-90)" class="t" font-size="36" font-style="italic" fill="#000">H</text>
<rect x="582.0" y="12.0" width="18.4" height="452.0" fill="url(#cb)" stroke="#222222" stroke-width="2.3"/>
<path d="M600.4 43.73H605.9" stroke="#222222" stroke-width="2"/>
<text x="605.6" y="55.2" class="t" font-size="35.5" fill="#000">6</text>
<path d="M600.4 108.39H605.9" stroke="#222222" stroke-width="2"/>
<text x="605.6" y="119.9" class="t" font-size="35.5" fill="#000">4</text>
<path d="M600.4 173.04H605.9" stroke="#222222" stroke-width="2"/>
<text x="605.6" y="184.5" class="t" font-size="35.5" fill="#000">2</text>
<path d="M600.4 237.70H605.9" stroke="#222222" stroke-width="2"/>
<text x="605.6" y="249.2" class="t" font-size="35.5" fill="#000">0</text>
<path d="M600.4 302.36H605.9" stroke="#222222" stroke-width="2"/>
<rect x="608.8" y="301.46" width="21" height="1.8" fill="#000"/>
<text x="632.6" y="313.9" class="t" font-size="35.5" fill="#000">2</text>
<path d="M600.4 367.01H605.9" stroke="#222222" stroke-width="2"/>
<rect x="608.8" y="366.11" width="21" height="1.8" fill="#000"/>
<text x="632.6" y="378.5" class="t" font-size="35.5" fill="#000">4</text>
<path d="M600.4 431.67H605.9" stroke="#222222" stroke-width="2"/>
<rect x="608.8" y="430.77" width="21" height="1.8" fill="#000"/>
<text x="632.6" y="443.2" class="t" font-size="35.5" fill="#000">6</text>
<text transform="translate(677.0 309.6) rotate(-90)" class="t" font-size="34" font-style="italic" fill="#000">v</text>
<path d="M659.3 294.9L654.4 299.8L659.3 304.6" fill="none" stroke="#000" stroke-width="1.7"/>
<path d="M652.7 268.6V272.4H683.1V268.6" fill="none" stroke="#000" stroke-width="1.7"/>
<text transform="translate(676.5 267.5) rotate(-90) scale(1.25 1)" class="t" font-size="34" font-style="italic" fill="#000">m</text>
<text transform="translate(676.5 238.8) rotate(-90) scale(1.25 1)" class="t" font-size="34" font-style="italic" fill="#000">m</text>
<path d="M684 206.0L652 193.0" stroke="#000" stroke-width="1.8"/>
<text transform="translate(676.8 191.0) rotate(-90) scale(1.12 1)" class="t" font-size="34" font-style="italic" fill="#000">s</text>
<path d="M652.7 174.9V171.1H683.1V174.9" fill="none" stroke="#000" stroke-width="1.7"/>
<rect x="582.0" y="499.2" width="18.4" height="452.3" fill="url(#cb)" stroke="#222222" stroke-width="2.3"/>
<path d="M600.4 530.95H605.9" stroke="#222222" stroke-width="2"/>
<text x="605.6" y="542.5" class="t" font-size="35.5" fill="#000">6</text>
<path d="M600.4 595.65H605.9" stroke="#222222" stroke-width="2"/>
<text x="605.6" y="607.1" class="t" font-size="35.5" fill="#000">4</text>
<path d="M600.4 660.35H605.9" stroke="#222222" stroke-width="2"/>
<text x="605.6" y="671.9" class="t" font-size="35.5" fill="#000">2</text>
<path d="M600.4 725.05H605.9" stroke="#222222" stroke-width="2"/>
<text x="605.6" y="736.5" class="t" font-size="35.5" fill="#000">0</text>
<path d="M600.4 789.75H605.9" stroke="#222222" stroke-width="2"/>
<rect x="608.8" y="788.85" width="21" height="1.8" fill="#000"/>
<text x="632.6" y="801.2" class="t" font-size="35.5" fill="#000">2</text>
<path d="M600.4 854.45H605.9" stroke="#222222" stroke-width="2"/>
<rect x="608.8" y="853.55" width="21" height="1.8" fill="#000"/>
<text x="632.6" y="866.0" class="t" font-size="35.5" fill="#000">4</text>
<path d="M600.4 919.15H605.9" stroke="#222222" stroke-width="2"/>
<rect x="608.8" y="918.25" width="21" height="1.8" fill="#000"/>
<text x="632.6" y="930.7" class="t" font-size="35.5" fill="#000">6</text>
<text transform="translate(677.0 796.9) rotate(-90)" class="t" font-size="34" font-style="italic" fill="#000">v</text>
<path d="M659.3 782.2L654.4 787.1L659.3 791.9" fill="none" stroke="#000" stroke-width="1.7"/>
<path d="M652.7 755.9V759.7H683.1V755.9" fill="none" stroke="#000" stroke-width="1.7"/>
<text transform="translate(676.5 754.8) rotate(-90) scale(1.25 1)" class="t" font-size="34" font-style="italic" fill="#000">m</text>
<text transform="translate(676.5 726.1) rotate(-90) scale(1.25 1)" class="t" font-size="34" font-style="italic" fill="#000">m</text>
<path d="M684 693.3L652 680.3" stroke="#000" stroke-width="1.8"/>
<text transform="translate(676.8 678.3) rotate(-90) scale(1.12 1)" class="t" font-size="34" font-style="italic" fill="#000">s</text>
<path d="M652.7 662.2V658.4H683.1V662.2" fill="none" stroke="#000" stroke-width="1.7"/>
<rect x="582.0" y="986.8" width="18.4" height="453.5" fill="url(#cb)" stroke="#222222" stroke-width="2.3"/>
<path d="M600.4 986.20H605.9" stroke="#222222" stroke-width="2"/>
<text x="605.6" y="996.1" class="t" font-size="35.5" fill="#000">1</text>
<path d="M600.4 1213.25H605.9" stroke="#222222" stroke-width="2"/>
<text x="605.6" y="1223.2" class="t" font-size="35.5" fill="#000">0</text>
<path d="M600.4 1440.30H605.9" stroke="#222222" stroke-width="2"/>
<rect x="608.8" y="1439.40" width="21" height="1.8" fill="#000"/>
<text x="632.6" y="1450.2" class="t" font-size="35.5" fill="#000">1</text>
<text transform="translate(673.8 1296.0) rotate(-90)" class="t" font-size="35" fill="#000">∇</text>
<circle cx="664.2" cy="1257.5" r="2.1" fill="#000"/>
<text transform="translate(672.8 1245.0) rotate(-90)" class="t" font-size="34" font-weight="bold" fill="#000">u</text>
<path d="M656.1 1229L649.6 1234.5L656.1 1240" fill="none" stroke="#000" stroke-width="2.2"/>
<text transform="translate(665.0 1225.0) rotate(-90)" class="t" font-size="28" fill="#000">*</text>
<path d="M648.1 1184.6V1188.6H680.2V1184.6" fill="none" stroke="#000" stroke-width="1.7"/>
<text transform="translate(672.8 1185.0) rotate(-90)" class="t" font-size="34" fill="#000">1</text>
<path d="M680 1165.8L648 1152.8" stroke="#000" stroke-width="1.8"/>
<text transform="translate(672.8 1150.0) rotate(-90) scale(1.12 1)" class="t" font-size="34" font-style="italic" fill="#000">s</text>
<path d="M648.1 1134.3V1130.3H680.2V1134.3" fill="none" stroke="#000" stroke-width="1.7"/>
<text x="301.9" y="1522.8" class="t" font-style="italic" font-size="34" fill="#000">y</text>
<path d="M318.5 1531L331.7 1498.2" stroke="#000" stroke-width="2"/>
<text x="335" y="1522.9" class="t" font-style="italic" font-size="35" fill="#000">H</text>
</svg></body></html>
